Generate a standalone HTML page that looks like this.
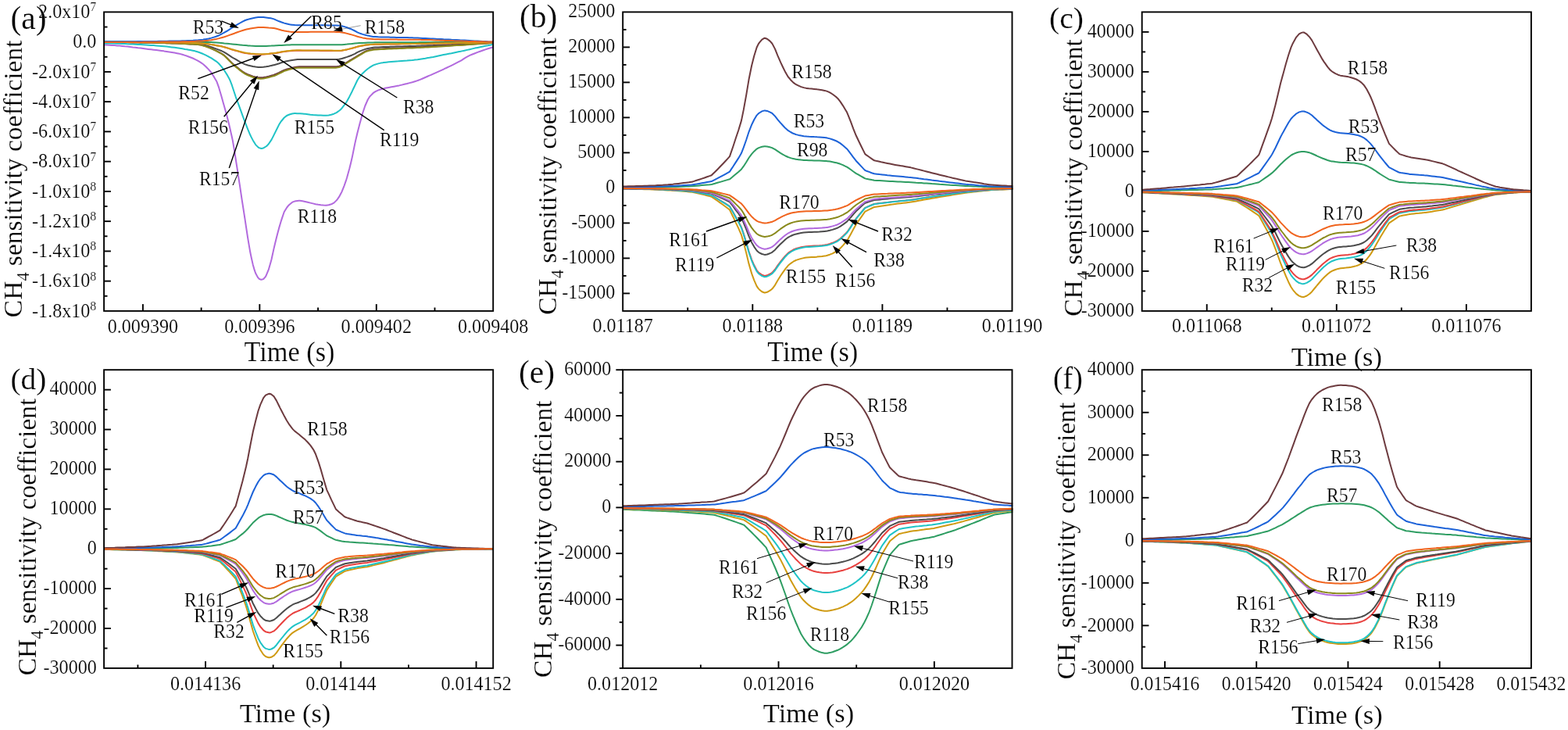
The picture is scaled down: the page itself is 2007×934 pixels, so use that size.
<!DOCTYPE html>
<html><head><meta charset="utf-8"><title>CH4 sensitivity coefficient</title>
<style>html,body{margin:0;padding:0;background:#fff;}svg{display:block;}text{stroke:#fff;stroke-width:.2px;}</style></head>
<body>
<svg width="2007" height="934" viewBox="0 0 2007 934" font-family="Liberation Serif, serif" fill="#000">
<line x1="182.91" y1="397.9" x2="182.91" y2="389.1" stroke="#000" stroke-width="1.9"/>
<line x1="332.34" y1="397.9" x2="332.34" y2="389.1" stroke="#000" stroke-width="1.9"/>
<line x1="481.77" y1="397.9" x2="481.77" y2="389.1" stroke="#000" stroke-width="1.9"/>
<line x1="257.62" y1="397.9" x2="257.62" y2="393.5" stroke="#000" stroke-width="1.9"/>
<line x1="407.06" y1="397.9" x2="407.06" y2="393.5" stroke="#000" stroke-width="1.9"/>
<line x1="556.49" y1="397.9" x2="556.49" y2="393.5" stroke="#000" stroke-width="1.9"/>
<line x1="133.1" y1="53.65" x2="141.9" y2="53.65" stroke="#000" stroke-width="1.9"/>
<line x1="133.1" y1="91.9" x2="141.9" y2="91.9" stroke="#000" stroke-width="1.9"/>
<line x1="133.1" y1="130.15" x2="141.9" y2="130.15" stroke="#000" stroke-width="1.9"/>
<line x1="133.1" y1="168.4" x2="141.9" y2="168.4" stroke="#000" stroke-width="1.9"/>
<line x1="133.1" y1="206.65" x2="141.9" y2="206.65" stroke="#000" stroke-width="1.9"/>
<line x1="133.1" y1="244.9" x2="141.9" y2="244.9" stroke="#000" stroke-width="1.9"/>
<line x1="133.1" y1="283.15" x2="141.9" y2="283.15" stroke="#000" stroke-width="1.9"/>
<line x1="133.1" y1="321.4" x2="141.9" y2="321.4" stroke="#000" stroke-width="1.9"/>
<line x1="133.1" y1="359.65" x2="141.9" y2="359.65" stroke="#000" stroke-width="1.9"/>
<line x1="133.1" y1="34.52" x2="137.5" y2="34.52" stroke="#000" stroke-width="1.9"/>
<line x1="133.1" y1="72.78" x2="137.5" y2="72.78" stroke="#000" stroke-width="1.9"/>
<line x1="133.1" y1="111.03" x2="137.5" y2="111.03" stroke="#000" stroke-width="1.9"/>
<line x1="133.1" y1="149.28" x2="137.5" y2="149.28" stroke="#000" stroke-width="1.9"/>
<line x1="133.1" y1="187.53" x2="137.5" y2="187.53" stroke="#000" stroke-width="1.9"/>
<line x1="133.1" y1="225.78" x2="137.5" y2="225.78" stroke="#000" stroke-width="1.9"/>
<line x1="133.1" y1="264.02" x2="137.5" y2="264.02" stroke="#000" stroke-width="1.9"/>
<line x1="133.1" y1="302.27" x2="137.5" y2="302.27" stroke="#000" stroke-width="1.9"/>
<line x1="133.1" y1="340.52" x2="137.5" y2="340.52" stroke="#000" stroke-width="1.9"/>
<line x1="133.1" y1="378.77" x2="137.5" y2="378.77" stroke="#000" stroke-width="1.9"/>
<line x1="963.3" y1="397.9" x2="963.3" y2="389.1" stroke="#000" stroke-width="1.9"/>
<line x1="1129.4" y1="397.9" x2="1129.4" y2="389.1" stroke="#000" stroke-width="1.9"/>
<line x1="880.25" y1="397.9" x2="880.25" y2="393.5" stroke="#000" stroke-width="1.9"/>
<line x1="1046.35" y1="397.9" x2="1046.35" y2="393.5" stroke="#000" stroke-width="1.9"/>
<line x1="1212.45" y1="397.9" x2="1212.45" y2="393.5" stroke="#000" stroke-width="1.9"/>
<line x1="797.2" y1="375.4" x2="806" y2="375.4" stroke="#000" stroke-width="1.9"/>
<line x1="797.2" y1="330.4" x2="806" y2="330.4" stroke="#000" stroke-width="1.9"/>
<line x1="797.2" y1="285.4" x2="806" y2="285.4" stroke="#000" stroke-width="1.9"/>
<line x1="797.2" y1="240.4" x2="806" y2="240.4" stroke="#000" stroke-width="1.9"/>
<line x1="797.2" y1="195.4" x2="806" y2="195.4" stroke="#000" stroke-width="1.9"/>
<line x1="797.2" y1="150.4" x2="806" y2="150.4" stroke="#000" stroke-width="1.9"/>
<line x1="797.2" y1="105.4" x2="806" y2="105.4" stroke="#000" stroke-width="1.9"/>
<line x1="797.2" y1="60.4" x2="806" y2="60.4" stroke="#000" stroke-width="1.9"/>
<line x1="797.2" y1="352.9" x2="801.6" y2="352.9" stroke="#000" stroke-width="1.9"/>
<line x1="797.2" y1="307.9" x2="801.6" y2="307.9" stroke="#000" stroke-width="1.9"/>
<line x1="797.2" y1="262.9" x2="801.6" y2="262.9" stroke="#000" stroke-width="1.9"/>
<line x1="797.2" y1="217.9" x2="801.6" y2="217.9" stroke="#000" stroke-width="1.9"/>
<line x1="797.2" y1="172.9" x2="801.6" y2="172.9" stroke="#000" stroke-width="1.9"/>
<line x1="797.2" y1="127.9" x2="801.6" y2="127.9" stroke="#000" stroke-width="1.9"/>
<line x1="797.2" y1="82.9" x2="801.6" y2="82.9" stroke="#000" stroke-width="1.9"/>
<line x1="797.2" y1="37.9" x2="801.6" y2="37.9" stroke="#000" stroke-width="1.9"/>
<line x1="1544.73" y1="397.9" x2="1544.73" y2="389.1" stroke="#000" stroke-width="1.9"/>
<line x1="1710.8" y1="397.9" x2="1710.8" y2="389.1" stroke="#000" stroke-width="1.9"/>
<line x1="1876.87" y1="397.9" x2="1876.87" y2="389.1" stroke="#000" stroke-width="1.9"/>
<line x1="1627.77" y1="397.9" x2="1627.77" y2="393.5" stroke="#000" stroke-width="1.9"/>
<line x1="1793.83" y1="397.9" x2="1793.83" y2="393.5" stroke="#000" stroke-width="1.9"/>
<line x1="1461.7" y1="346.9" x2="1470.5" y2="346.9" stroke="#000" stroke-width="1.9"/>
<line x1="1461.7" y1="295.9" x2="1470.5" y2="295.9" stroke="#000" stroke-width="1.9"/>
<line x1="1461.7" y1="244.9" x2="1470.5" y2="244.9" stroke="#000" stroke-width="1.9"/>
<line x1="1461.7" y1="193.9" x2="1470.5" y2="193.9" stroke="#000" stroke-width="1.9"/>
<line x1="1461.7" y1="142.9" x2="1470.5" y2="142.9" stroke="#000" stroke-width="1.9"/>
<line x1="1461.7" y1="91.9" x2="1470.5" y2="91.9" stroke="#000" stroke-width="1.9"/>
<line x1="1461.7" y1="40.9" x2="1470.5" y2="40.9" stroke="#000" stroke-width="1.9"/>
<line x1="1461.7" y1="372.4" x2="1466.1" y2="372.4" stroke="#000" stroke-width="1.9"/>
<line x1="1461.7" y1="321.4" x2="1466.1" y2="321.4" stroke="#000" stroke-width="1.9"/>
<line x1="1461.7" y1="270.4" x2="1466.1" y2="270.4" stroke="#000" stroke-width="1.9"/>
<line x1="1461.7" y1="219.4" x2="1466.1" y2="219.4" stroke="#000" stroke-width="1.9"/>
<line x1="1461.7" y1="168.4" x2="1466.1" y2="168.4" stroke="#000" stroke-width="1.9"/>
<line x1="1461.7" y1="117.4" x2="1466.1" y2="117.4" stroke="#000" stroke-width="1.9"/>
<line x1="1461.7" y1="66.4" x2="1466.1" y2="66.4" stroke="#000" stroke-width="1.9"/>
<line x1="263.04" y1="854.9" x2="263.04" y2="846.1" stroke="#000" stroke-width="1.9"/>
<line x1="436.29" y1="854.9" x2="436.29" y2="846.1" stroke="#000" stroke-width="1.9"/>
<line x1="609.54" y1="854.9" x2="609.54" y2="846.1" stroke="#000" stroke-width="1.9"/>
<line x1="176.41" y1="854.9" x2="176.41" y2="850.5" stroke="#000" stroke-width="1.9"/>
<line x1="349.67" y1="854.9" x2="349.67" y2="850.5" stroke="#000" stroke-width="1.9"/>
<line x1="522.92" y1="854.9" x2="522.92" y2="850.5" stroke="#000" stroke-width="1.9"/>
<line x1="133.1" y1="804.01" x2="141.9" y2="804.01" stroke="#000" stroke-width="1.9"/>
<line x1="133.1" y1="753.11" x2="141.9" y2="753.11" stroke="#000" stroke-width="1.9"/>
<line x1="133.1" y1="702.22" x2="141.9" y2="702.22" stroke="#000" stroke-width="1.9"/>
<line x1="133.1" y1="651.33" x2="141.9" y2="651.33" stroke="#000" stroke-width="1.9"/>
<line x1="133.1" y1="600.43" x2="141.9" y2="600.43" stroke="#000" stroke-width="1.9"/>
<line x1="133.1" y1="549.54" x2="141.9" y2="549.54" stroke="#000" stroke-width="1.9"/>
<line x1="133.1" y1="498.65" x2="141.9" y2="498.65" stroke="#000" stroke-width="1.9"/>
<line x1="133.1" y1="829.45" x2="137.5" y2="829.45" stroke="#000" stroke-width="1.9"/>
<line x1="133.1" y1="778.56" x2="137.5" y2="778.56" stroke="#000" stroke-width="1.9"/>
<line x1="133.1" y1="727.67" x2="137.5" y2="727.67" stroke="#000" stroke-width="1.9"/>
<line x1="133.1" y1="676.77" x2="137.5" y2="676.77" stroke="#000" stroke-width="1.9"/>
<line x1="133.1" y1="625.88" x2="137.5" y2="625.88" stroke="#000" stroke-width="1.9"/>
<line x1="133.1" y1="574.99" x2="137.5" y2="574.99" stroke="#000" stroke-width="1.9"/>
<line x1="133.1" y1="524.09" x2="137.5" y2="524.09" stroke="#000" stroke-width="1.9"/>
<line x1="996.52" y1="854.9" x2="996.52" y2="846.1" stroke="#000" stroke-width="1.9"/>
<line x1="1195.84" y1="854.9" x2="1195.84" y2="846.1" stroke="#000" stroke-width="1.9"/>
<line x1="896.86" y1="854.9" x2="896.86" y2="850.5" stroke="#000" stroke-width="1.9"/>
<line x1="1096.18" y1="854.9" x2="1096.18" y2="850.5" stroke="#000" stroke-width="1.9"/>
<line x1="797.2" y1="825.54" x2="788.4" y2="825.54" stroke="#000" stroke-width="1.9"/>
<line x1="797.2" y1="766.82" x2="788.4" y2="766.82" stroke="#000" stroke-width="1.9"/>
<line x1="797.2" y1="708.09" x2="788.4" y2="708.09" stroke="#000" stroke-width="1.9"/>
<line x1="797.2" y1="649.37" x2="788.4" y2="649.37" stroke="#000" stroke-width="1.9"/>
<line x1="797.2" y1="590.65" x2="788.4" y2="590.65" stroke="#000" stroke-width="1.9"/>
<line x1="797.2" y1="531.92" x2="788.4" y2="531.92" stroke="#000" stroke-width="1.9"/>
<line x1="797.2" y1="473.2" x2="788.4" y2="473.2" stroke="#000" stroke-width="1.9"/>
<line x1="797.2" y1="854.9" x2="792.8" y2="854.9" stroke="#000" stroke-width="1.9"/>
<line x1="797.2" y1="796.18" x2="792.8" y2="796.18" stroke="#000" stroke-width="1.9"/>
<line x1="797.2" y1="737.45" x2="792.8" y2="737.45" stroke="#000" stroke-width="1.9"/>
<line x1="797.2" y1="678.73" x2="792.8" y2="678.73" stroke="#000" stroke-width="1.9"/>
<line x1="797.2" y1="620.01" x2="792.8" y2="620.01" stroke="#000" stroke-width="1.9"/>
<line x1="797.2" y1="561.28" x2="792.8" y2="561.28" stroke="#000" stroke-width="1.9"/>
<line x1="797.2" y1="502.56" x2="792.8" y2="502.56" stroke="#000" stroke-width="1.9"/>
<line x1="1491.01" y1="854.9" x2="1491.01" y2="846.1" stroke="#000" stroke-width="1.9"/>
<line x1="1608.23" y1="854.9" x2="1608.23" y2="846.1" stroke="#000" stroke-width="1.9"/>
<line x1="1725.45" y1="854.9" x2="1725.45" y2="846.1" stroke="#000" stroke-width="1.9"/>
<line x1="1842.68" y1="854.9" x2="1842.68" y2="846.1" stroke="#000" stroke-width="1.9"/>
<line x1="1461.7" y1="800.37" x2="1470.5" y2="800.37" stroke="#000" stroke-width="1.9"/>
<line x1="1461.7" y1="745.84" x2="1470.5" y2="745.84" stroke="#000" stroke-width="1.9"/>
<line x1="1461.7" y1="691.31" x2="1470.5" y2="691.31" stroke="#000" stroke-width="1.9"/>
<line x1="1461.7" y1="636.79" x2="1470.5" y2="636.79" stroke="#000" stroke-width="1.9"/>
<line x1="1461.7" y1="582.26" x2="1470.5" y2="582.26" stroke="#000" stroke-width="1.9"/>
<line x1="1461.7" y1="527.73" x2="1470.5" y2="527.73" stroke="#000" stroke-width="1.9"/>
<line x1="1461.7" y1="827.64" x2="1466.1" y2="827.64" stroke="#000" stroke-width="1.9"/>
<line x1="1461.7" y1="773.11" x2="1466.1" y2="773.11" stroke="#000" stroke-width="1.9"/>
<line x1="1461.7" y1="718.58" x2="1466.1" y2="718.58" stroke="#000" stroke-width="1.9"/>
<line x1="1461.7" y1="664.05" x2="1466.1" y2="664.05" stroke="#000" stroke-width="1.9"/>
<line x1="1461.7" y1="609.52" x2="1466.1" y2="609.52" stroke="#000" stroke-width="1.9"/>
<line x1="1461.7" y1="554.99" x2="1466.1" y2="554.99" stroke="#000" stroke-width="1.9"/>
<line x1="1461.7" y1="500.46" x2="1466.1" y2="500.46" stroke="#000" stroke-width="1.9"/>
<path d="M133.1 57.4 136.4 57.5 139.8 57.7 143.1 57.9 146.5 58.1 149.8 58.4 149.9 58.4 153.2 58.6 156.5 58.9 159.8 59.3 163.2 59.6 166.5 60 169.9 60.4 169.9 60.4 173.2 60.7 176.6 61.2 179.9 61.6 183.2 62 186.6 62.4 189.8 62.9 189.9 62.9 193.3 63.3 196.6 63.7 200 64.1 203.3 64.5 206.7 64.9 209.7 65.3 210 65.4 213.3 65.9 216.7 66.4 220 66.9 223.4 67.5 226.7 68.2 229.7 68.8 230.1 68.9 233.4 69.8 236.8 70.9 239.6 71.8 240.1 72 243.4 73.2 246.8 74.5 249.6 75.8 250.1 76.1 253.5 77.8 256.8 79.9 259.5 81.8 260.2 82.3 263.5 85.3 264.5 86.3 266.8 88.6 269.5 91.7 270.2 92.6 273.5 97.7 273.5 97.8 276.9 103.4 277.5 104.7 280.2 112.2 283.6 123.8 285.8 131.7 286.9 135.6 290.3 147.7 291.8 153.7 293.6 160.9 296.9 175.5 297.8 179.6 300.3 194.3 301.7 203.5 303.6 215.6 305.7 229.4 307 237.6 309.7 255.8 310.3 259.6 313.7 281.4 313.7 281.7 317 303.3 317.7 307.6 320.3 322.8 321.7 329.5 323.7 338.4 325.7 345.4 327 349.2 329.7 354.4 330.4 355.4 332 357 333.7 357.7 334.6 357.8 337.1 357.1 337.2 357 339.6 354.4 340.4 353.1 343.6 345.4 343.8 345 347.1 333.4 347.6 331.5 350.4 318.6 351.6 313.6 353.8 304.5 355.6 297.6 357.1 291.9 359.5 283.7 360.5 280.6 363.5 271.7 363.8 271.1 367.2 265.5 369.5 262.7 370.5 261.7 373.9 258.9 375.5 258.1 377.2 257.6 380.5 256.9 382.5 256.8 383.9 256.8 387.2 257.3 389.4 257.7 390.6 258 393.9 258.8 397.3 259.6 399.4 260.1 400.6 260.4 403.9 261.2 407.3 261.8 409.4 262.1 410.6 262.3 414 262.6 417.3 262.7 417.3 262.7 420.7 262.3 424 261.2 425.3 260.7 427.4 259.6 430.7 256.4 431.3 255.8 434 251.9 437.3 245.8 437.4 245.6 440.7 237.3 443.3 229.8 444.1 227.2 447.4 215.2 449.2 207.9 450.8 201.1 454.1 184.6 455.2 179.6 457.4 170.2 460.8 157.1 461.2 155.7 464.1 145 467.2 135.7 467.5 135 470.8 127.5 473.1 123.8 474.2 122.6 477.5 119.2 480.9 116.9 481.1 116.8 484.2 115.4 487.5 114.3 490.9 113.4 493.1 112.8 494.2 112.5 497.6 111.9 500.9 111.3 504.3 110.7 507.6 110.1 509 109.8 510.9 109.4 514.3 108.6 517.6 107.8 521 107 524.3 106.1 527.7 105.2 531 104.2 534.4 103.1 534.7 103 537.7 101.9 541 100.5 544.4 99 547.7 97.5 549.6 96.7 551.1 96.1 554.4 94.6 557.8 93.1 561.1 91.6 564.5 90.1 567.8 88.6 569.5 87.7 571.1 87 574.5 85.4 577.8 83.8 581.2 82.1 584.5 80.4 587.9 78.6 589.5 77.8 591.2 76.8 594.5 74.6 597.9 72.6 599.4 71.8 601.2 70.9 604.6 69.5 607.9 68.2 611.3 66.9 614.4 65.8 614.6 65.7 618 64.5 621.3 63.4 624.6 62.3 628 61.3 631.3 60.3" fill="none" stroke="#b26ade" stroke-width="2.0" stroke-linejoin="round" stroke-linecap="butt"/>
<path d="M133.1 55.4 136.4 55.4 139.8 55.5 143.1 55.6 146.5 55.6 149.8 55.7 153.2 55.8 156.5 56 159.8 56.1 159.9 56.1 163.2 56.2 166.5 56.4 169.9 56.5 173.2 56.7 176.6 56.9 179.8 57.1 179.9 57.1 183.2 57.3 186.6 57.5 189.9 57.7 193.3 57.9 196.6 58.1 199.8 58.4 200 58.4 203.3 58.7 206.7 59 210 59.3 213.3 59.6 216.7 60 219.7 60.4 220 60.4 223.4 60.8 226.7 61.3 230.1 61.8 233.4 62.3 236.8 62.9 239.6 63.3 240.1 63.4 243.4 64 246.8 64.7 249.6 65.3 250.1 65.5 253.5 66.5 256.8 67.7 259.5 68.8 260.2 69.1 263.5 70.6 266.8 72.3 269.5 73.8 270.2 74.2 273.5 76.3 276.9 78.6 279.5 80.8 280.2 81.5 283.6 85.3 285.5 87.8 286.9 89.8 289.4 93.7 290.3 95.1 293.6 101 294.4 102.7 296.9 109.2 300.3 119.5 301.7 123.8 303.6 129 307 138.2 309.7 145.7 310.3 147.3 313.7 156.4 315.7 161.6 317 164.9 320.3 172.8 321.7 175.6 323.7 179.4 327 184.8 327.7 185.6 330.4 188.4 331.6 189.1 333.7 189.8 334.6 189.9 337.1 189.4 337.6 189.1 340.4 187.5 341.6 186.6 343.8 184.3 347.1 179.4 347.6 178.6 350.4 173.1 353.6 166.6 353.8 166.2 357.1 159.6 359.5 155.7 360.5 154.5 363.8 150.5 367.2 147.9 367.5 147.7 370.5 146.5 373.9 145.5 377.2 145.1 377.5 145.1 380.5 145.2 383.9 145.3 387.2 145.5 389.4 145.7 390.6 145.8 393.9 146.2 397.3 146.7 400.6 147.1 403.4 147.3 403.9 147.3 407.3 147.5 410.6 147.6 414 147.7 417.3 147.7 417.3 147.7 420.7 147.4 424 146.7 427.3 145.7 427.4 145.7 430.7 144.1 434 141.7 435.3 140.7 437.4 138.7 440.7 134.4 443.3 130.8 444.1 129.5 447.4 123.4 450.8 116.7 451.2 115.8 454.1 109.7 457.4 102.7 459.2 99.9 460.8 97.7 464.1 93.9 467.5 90.7 469.9 88.7 470.8 88 474.2 85.7 477.5 83.7 479.9 82.7 480.9 82.4 484.2 81.4 487.5 80.6 489.8 80.3 490.9 80.1 494.2 79.7 497.6 79.3 500.9 79 504.3 78.7 507.6 78.4 509.8 78.3 510.9 78.2 514.3 77.9 517.6 77.7 521 77.5 524.3 77.2 527.7 77 529.7 76.8 531 76.6 534.4 76.2 537.7 75.7 541 75.2 544.4 74.7 547.7 74.1 549.6 73.8 551.1 73.5 554.4 72.9 557.8 72.2 561.1 71.5 564.5 70.8 567.8 70.1 569.5 69.8 571.1 69.5 574.5 68.8 577.8 68.2 581.2 67.5 584.5 66.8 587.9 66.1 589.5 65.8 591.2 65.4 594.5 64.7 597.9 63.9 601.2 63.2 604.6 62.4 607.9 61.6 609.4 61.3 611.3 60.9 614.6 60.2 618 59.5 621.3 58.8 624.6 58.2 628 57.5 631.3 56.8" fill="none" stroke="#1fc3c6" stroke-width="2.0" stroke-linejoin="round" stroke-linecap="butt"/>
<path d="M133.3 54 136.7 54 140 54 143.4 54 146.7 54 150 54 153.4 54 156.7 54.1 160.1 54.1 163.4 54.1 166.8 54.1 170.1 54.2 173.4 54.2 176.8 54.2 180.1 54.3 183.5 54.3 186.8 54.4 190.2 54.4 193.5 54.5 196.8 54.5 200.2 54.6 203.5 54.7 206.9 54.7 210.2 54.8 213.5 54.9 216.9 55 220.2 55 223.6 55.1 226.9 55.2 230.3 55.3 233.6 55.4 236.9 55.5 240.3 55.6 243.6 55.8 247 55.9 250 56 250.3 56 253.7 56.3 257 56.7 260.3 57.4 263.7 58.2 267 59.1 270.4 60.2 273.7 61.4 277.1 62.6 280.4 63.9 283.3 65 283.7 65.2 287.1 66.8 290.4 68.9 293.8 71.1 297.1 73.3 300 75 300.4 75.2 303.8 77.2 307.1 79.1 310.5 80.9 313.8 82.4 316.7 83.3 317.2 83.5 320.5 84.2 323.8 85 327.2 85.5 330.5 85.9 333.3 86 333.9 86 337.2 85.8 340.6 85.3 343.9 84.7 347.2 83.9 350 83.3 350.6 83.2 353.9 82.3 357.3 81.2 360.6 80 363.9 79 366.7 78.3 367.3 78.2 370.6 77.6 374 76.9 377.3 76.4 380.7 76.1 383.3 76 384 76 387.3 76 390.7 76 394 76 397.4 76 400.7 76 404.1 76 407.4 76 410.7 76 414.1 76 417.4 76 420.8 76 424.1 76 427.5 76 430 76 430.8 76 434.1 75.7 437.5 75 440.8 74 444.2 72.9 447.5 71.7 450 70.8 450.8 70.4 454.2 68.8 457.5 66.9 459.9 65.8 460.9 65.4 464.2 64.1 467.6 62.9 469.9 62.3 470.9 62.1 474.2 61.4 477.6 60.8 479.9 60.6 480.9 60.6 484.3 60.4 487.6 60.2 491 60.1 494.3 60 497.6 59.9 499.8 59.8 501 59.8 504.3 59.7 507.7 59.6 511 59.5 514.4 59.4 517.7 59.3 521 59.2 524.4 59.1 527.7 59 531.1 58.9 534.4 58.8 537.7 58.7 539.7 58.6 541.1 58.6 544.4 58.5 547.8 58.3 551.1 58.2 554.5 58.1 557.8 57.9 561.1 57.8 564.5 57.7 567.8 57.5 571.2 57.4 574.5 57.2 577.9 57.1 579.5 57 581.2 57 584.5 56.8 587.9 56.7 591.2 56.6 594.6 56.4 597.9 56.3 601.2 56.1 604.6 56 607.9 55.8 611.3 55.7 614.6 55.6 618 55.4 621.3 55.3 624.6 55.1 628 55 631.3 54.8" fill="none" stroke="#4b4b4b" stroke-width="2.0" stroke-linejoin="round" stroke-linecap="butt"/>
<path d="M133.3 54 136.7 54 140 54 143.4 54 146.7 54 150 54 153.4 54.1 156.7 54.1 160.1 54.1 163.4 54.1 166.8 54.2 170.1 54.2 173.4 54.3 176.8 54.3 180.1 54.4 183.5 54.4 186.8 54.5 190.2 54.6 193.5 54.6 196.8 54.7 200.2 54.8 203.5 54.9 206.9 55 210.2 55.1 213.5 55.2 216.9 55.3 220.2 55.4 223.6 55.5 226.9 55.6 230.3 55.8 233.6 55.9 236.9 56 240.3 56.2 243.6 56.4 247 56.5 250 56.7 250.3 56.7 253.7 57 257 57.6 260.3 58.4 263.7 59.4 267 60.6 270.4 62 273.7 63.5 277.1 65.1 280.4 66.8 283.3 68.3 283.7 68.6 287.1 70.9 290.4 74 293.8 77.5 297.1 80.8 300 83.3 300.4 83.7 303.8 86.4 307.1 89.1 310.5 91.6 313.8 93.7 316.7 95 317.2 95.2 320.5 96.4 323.8 97.6 327.2 98.5 330.5 99.2 333.3 99.3 333.9 99.3 337.2 99.1 340.6 98.5 343.9 97.7 347.2 96.8 350 96 350.6 95.8 353.9 94.5 357.3 92.9 360.6 91.2 363.9 89.6 366.7 88.7 367.3 88.5 370.6 87.6 374 86.7 377.3 85.9 380.7 85.5 383.3 85.3 384 85.3 387.3 85.3 390.7 85.3 394 85.3 397.4 85.3 400.7 85.3 404.1 85.3 407.4 85.3 410.7 85.3 414.1 85.3 417.4 85.3 420.8 85.3 424.1 85.3 427.5 85.3 430 85.3 430.8 85.3 434.1 84.7 437.5 83.4 440.8 81.6 444.2 79.6 447.5 77.5 450 76.2 450.8 75.7 454.2 73.7 457.5 71.6 459.9 70.2 460.9 69.6 464.2 67.6 467.6 65.7 469.9 64.8 470.9 64.5 474.2 63.7 477.6 63.1 479.9 62.8 480.9 62.7 484.3 62.5 487.6 62.4 491 62.2 494.3 62.1 497.6 62 499.8 61.9 501 61.9 504.3 61.7 507.7 61.6 511 61.5 514.4 61.3 517.7 61.2 521 61.1 524.4 61 527.7 60.8 531.1 60.7 534.4 60.6 537.7 60.4 539.7 60.3 541.1 60.3 544.4 60.1 547.8 59.9 551.1 59.8 554.5 59.6 557.8 59.4 561.1 59.2 564.5 59 567.8 58.8 571.2 58.6 574.5 58.4 577.9 58.2 579.5 58.1 581.2 58 584.5 57.8 587.9 57.6 591.2 57.4 594.6 57.2 597.9 56.9 601.2 56.7 604.6 56.5 607.9 56.3 611.3 56.1 614.6 55.8 618 55.6 619.4 55.5 621.3 55.4 624.6 55.2 628 55 631.3 54.8" fill="none" stroke="#6d3b3f" stroke-width="2.0" stroke-linejoin="round" stroke-linecap="butt"/>
<path d="M133.3 54 136.7 54 140 54 143.4 54 146.7 54 150 54 153.4 54.1 156.7 54.1 160.1 54.1 163.4 54.1 166.8 54.2 170.1 54.2 173.4 54.3 176.8 54.3 180.1 54.4 183.5 54.4 186.8 54.5 190.2 54.6 193.5 54.6 196.8 54.7 200.2 54.8 203.5 54.9 206.9 55 210.2 55.1 213.5 55.2 216.9 55.3 220.2 55.4 223.6 55.5 226.9 55.6 230.3 55.8 233.6 55.9 236.9 56 240.3 56.2 243.6 56.4 247 56.5 250 56.7 250.3 56.7 253.7 57 257 57.6 260.3 58.5 263.7 59.5 267 60.8 270.4 62.2 273.7 63.7 277.1 65.3 280.4 67.1 283.3 68.7 283.7 68.9 287.1 71.3 290.4 74.5 293.8 78 297.1 81.4 300 84 300.4 84.4 303.8 87.1 307.1 89.9 310.5 92.4 313.8 94.6 316.7 96 317.2 96.2 320.5 97.5 323.8 98.8 327.2 99.8 330.5 100.5 333.3 100.7 333.9 100.7 337.2 100.4 340.6 99.8 343.9 99 347.2 98.1 350 97.3 350.6 97.2 353.9 95.9 357.3 94.2 360.6 92.5 363.9 90.9 366.7 90 367.3 89.8 370.6 88.9 374 88 377.3 87.3 380.7 86.8 383.3 86.7 384 86.7 387.3 86.7 390.7 86.7 394 86.7 397.4 86.7 400.7 86.7 404.1 86.7 407.4 86.7 410.7 86.7 414.1 86.7 417.4 86.7 420.8 86.7 424.1 86.7 427.5 86.7 430 86.7 430.8 86.6 434.1 86 437.5 84.6 440.8 82.7 444.2 80.5 447.5 78.4 450 77 450.8 76.5 454.2 74.5 457.5 72.4 459.9 71 460.9 70.4 464.2 68.3 467.6 66.4 469.9 65.5 470.9 65.2 474.2 64.4 477.6 63.8 479.9 63.5 480.9 63.4 484.3 63.2 487.6 63 491 62.9 494.3 62.7 497.6 62.6 499.8 62.5 501 62.5 504.3 62.3 507.7 62.2 511 62 514.4 61.9 517.7 61.8 521 61.6 524.4 61.5 527.7 61.4 531.1 61.2 534.4 61.1 537.7 60.9 539.7 60.8 541.1 60.7 544.4 60.6 547.8 60.4 551.1 60.2 554.5 60 557.8 59.8 561.1 59.6 564.5 59.4 567.8 59.2 571.2 59 574.5 58.7 577.9 58.5 579.5 58.4 581.2 58.3 584.5 58.1 587.9 57.9 591.2 57.7 594.6 57.5 597.9 57.2 601.2 57 604.6 56.8 607.9 56.5 611.3 56.3 614.6 56.1 618 55.8 619.4 55.7 621.3 55.6 624.6 55.4 628 55.1 631.3 54.8" fill="none" stroke="#8a8a1c" stroke-width="2.0" stroke-linejoin="round" stroke-linecap="butt"/>
<path d="M133.3 53.3 136.7 53.3 140 53.3 143.4 53.3 146.7 53.3 150 53.3 153.4 53.3 156.7 53.3 160.1 53.4 163.4 53.4 166.8 53.4 170.1 53.4 173.4 53.4 176.8 53.4 180.1 53.4 183.5 53.4 186.8 53.4 190.2 53.4 193.5 53.4 196.8 53.5 200.2 53.5 203.5 53.5 206.9 53.5 210.2 53.5 213.5 53.5 216.9 53.6 220.2 53.6 223.6 53.6 226.9 53.6 230.3 53.7 233.6 53.7 236.9 53.7 240.3 53.7 243.6 53.8 247 53.8 250.3 53.8 253.7 53.9 257 53.9 260.3 53.9 263.7 54 266.7 54 267 54 270.4 54.1 273.7 54.3 277.1 54.5 280.4 54.7 283.7 55 287.1 55.4 290.4 55.7 293.8 56.1 297.1 56.4 300 56.7 300.4 56.7 303.8 57.1 307.1 57.4 310.5 57.8 313.8 58.1 316.7 58.3 317.2 58.4 320.5 58.6 323.8 58.7 327.2 58.9 330.5 59 333.3 59 333.9 59 337.2 59 340.6 58.9 343.9 58.7 347.2 58.6 350.6 58.4 353.3 58.3 353.9 58.3 357.3 58.1 360.6 57.9 363.9 57.7 367.3 57.5 370.6 57.4 373.3 57.3 374 57.3 377.3 57.3 380.7 57.3 384 57.3 387.3 57.3 390.7 57.3 394 57.3 397.4 57.3 400.7 57.3 404.1 57.3 407.4 57.3 410.7 57.3 414.1 57.3 417.4 57.3 420.8 57.3 424.1 57.3 427.5 57.3 430.8 57.3 433.3 57.3 434.1 57.3 437.5 57.2 440.8 56.9 444.2 56.6 447.5 56.2 450 56 450.8 55.9 454.2 55.6 457.5 55.3 459.9 55.1 460.9 55.1 464.2 54.9 467.6 54.7 470.9 54.6 474.2 54.5 477.6 54.4 479.9 54.3 480.9 54.3 484.3 54.3 487.6 54.3 491 54.3 494.3 54.3 497.6 54.2 501 54.2 504.3 54.2 507.7 54.2 511 54.2 514.4 54.2 517.7 54.2 521 54.2 524.4 54.2 527.7 54.2 531.1 54.2 534.4 54.2 537.7 54.1 539.7 54.1 541.1 54.1 544.4 54.1 547.8 54.1 551.1 54.1 554.5 54.1 557.8 54.1 561.1 54.1 564.5 54.1 567.8 54.1 571.2 54.1 574.5 54.1 577.9 54.1 581.2 54.1 584.5 54.1 587.9 54.1 591.2 54.1 594.6 54.1 597.9 54.1 601.2 54.1 604.6 54.1 607.9 54.1 611.3 54.1 614.6 54.1 618 54 621.3 54 624.6 54 628 54 631.3 54" fill="none" stroke="#2e9d62" stroke-width="2.0" stroke-linejoin="round" stroke-linecap="butt"/>
<path d="M133.3 53.7 136.7 53.7 140 53.7 143.4 53.7 146.7 53.7 150 53.7 153.4 53.7 156.7 53.7 160.1 53.7 163.4 53.7 166.8 53.8 170.1 53.8 173.4 53.8 176.8 53.8 180.1 53.9 183.5 53.9 186.8 53.9 190.2 54 193.5 54 196.8 54 200.2 54.1 203.5 54.1 206.9 54.2 210.2 54.2 213.5 54.3 216.9 54.3 220.2 54.4 223.6 54.4 226.9 54.5 230.3 54.6 233.6 54.6 236.9 54.7 240.3 54.8 243.6 54.8 247 54.9 250 55 250.3 55 253.7 55.1 257 55.4 260.3 55.7 263.7 56.1 267 56.5 270.4 57 273.7 57.6 277.1 58.2 280.4 58.8 283.3 59.3 283.7 59.4 287.1 60.2 290.4 61.3 293.8 62.4 297.1 63.5 300 64.3 300.4 64.5 303.8 65.4 307.1 66.3 310.5 67.2 313.8 67.9 316.7 68.3 317.2 68.4 320.5 68.8 323.8 69.1 327.2 69.4 330.5 69.6 333.3 69.7 333.9 69.7 337.2 69.6 340.6 69.3 343.9 69 347.2 68.6 350 68.3 350.6 68.3 353.9 67.8 357.3 67.2 360.6 66.6 363.9 66 366.7 65.7 367.3 65.6 370.6 65.3 374 64.9 377.3 64.7 380 64.7 380.7 64.7 384 64.7 387.3 64.7 390.7 64.7 394 64.7 397.4 64.7 400.7 64.8 404.1 64.8 407.4 64.8 410.7 64.9 414.1 64.9 417.4 64.9 420.8 65 424.1 65 427.5 65 430.8 65 433.3 65 434.1 65 437.5 64.7 440.8 64.1 444.2 63.4 447.5 62.6 450 62 450.8 61.8 454.2 60.8 457.5 59.8 459.9 59.2 460.9 59 464.2 58.4 467.6 57.8 469.9 57.5 470.9 57.4 474.2 57.1 477.6 56.9 479.9 56.8 480.9 56.8 484.3 56.7 487.6 56.7 491 56.6 494.3 56.5 497.6 56.5 501 56.5 504.3 56.4 507.7 56.4 511 56.4 514.4 56.3 517.7 56.3 519.7 56.2 521 56.2 524.4 56.2 527.7 56.1 531.1 56.1 534.4 56 537.7 56 541.1 55.9 544.4 55.9 547.8 55.8 551.1 55.7 554.5 55.7 557.8 55.6 561.1 55.6 564.5 55.5 567.8 55.5 569.5 55.4 571.2 55.4 574.5 55.4 577.9 55.3 581.2 55.2 584.5 55.2 587.9 55.1 591.2 55.1 594.6 55 597.9 55 601.2 54.9 604.6 54.8 607.9 54.8 611.3 54.7 614.6 54.7 618 54.6 621.3 54.5 624.6 54.5 628 54.4 631.3 54.3" fill="none" stroke="#e8413f" stroke-width="2.0" stroke-linejoin="round" stroke-linecap="butt"/>
<path d="M133.3 53.7 136.7 53.7 140 53.7 143.4 53.7 146.7 53.7 150 53.7 153.4 53.7 156.7 53.7 160.1 53.7 163.4 53.7 166.8 53.8 170.1 53.8 173.4 53.8 176.8 53.8 180.1 53.9 183.5 53.9 186.8 53.9 190.2 54 193.5 54 196.8 54 200.2 54.1 203.5 54.1 206.9 54.2 210.2 54.2 213.5 54.3 216.9 54.3 220.2 54.4 223.6 54.4 226.9 54.5 230.3 54.6 233.6 54.6 236.9 54.7 240.3 54.8 243.6 54.8 247 54.9 250 55 250.3 55 253.7 55.2 257 55.4 260.3 55.7 263.7 56.1 267 56.6 270.4 57.1 273.7 57.6 277.1 58.2 280.4 58.8 283.3 59.3 283.7 59.4 287.1 60.2 290.4 61.1 293.8 62.2 297.1 63.2 300 64 300.4 64.1 303.8 65 307.1 66 310.5 66.8 313.8 67.6 316.7 68 317.2 68.1 320.5 68.5 323.8 68.8 327.2 69.1 330.5 69.3 333.3 69.3 333.9 69.3 337.2 69.2 340.6 69 343.9 68.7 347.2 68.3 350 68 350.6 67.9 353.9 67.5 357.3 66.9 360.6 66.2 363.9 65.7 366.7 65.3 367.3 65.3 370.6 64.9 374 64.6 377.3 64.4 380 64.3 380.7 64.3 384 64.3 387.3 64.4 390.7 64.4 394 64.4 397.4 64.4 400.7 64.4 404.1 64.5 407.4 64.5 410.7 64.5 414.1 64.6 417.4 64.6 420.8 64.6 424.1 64.6 427.5 64.7 430.8 64.7 433.3 64.7 434.1 64.7 437.5 64.4 440.8 63.9 444.2 63.2 447.5 62.4 450 61.8 450.8 61.6 454.2 60.7 457.5 59.6 459.9 59 460.9 58.8 464.2 58.2 467.6 57.6 469.9 57.3 470.9 57.2 474.2 56.9 477.6 56.7 479.9 56.6 480.9 56.6 484.3 56.5 487.6 56.5 491 56.4 494.3 56.3 497.6 56.3 501 56.3 504.3 56.2 507.7 56.2 511 56.1 514.4 56.1 517.7 56.1 519.7 56 521 56 524.4 56 527.7 55.9 531.1 55.9 534.4 55.8 537.7 55.8 541.1 55.7 544.4 55.7 547.8 55.7 551.1 55.6 554.5 55.6 557.8 55.5 561.1 55.5 564.5 55.4 567.8 55.4 569.5 55.3 571.2 55.3 574.5 55.3 577.9 55.2 581.2 55.2 584.5 55.1 587.9 55.1 591.2 55 594.6 55 597.9 54.9 601.2 54.8 604.6 54.8 607.9 54.7 611.3 54.7 614.6 54.6 618 54.6 621.3 54.5 624.6 54.5 628 54.4 631.3 54.3" fill="none" stroke="#cf9a12" stroke-width="2.0" stroke-linejoin="round" stroke-linecap="butt"/>
<path d="M133.3 53.3 136.7 53.3 140 53.3 143.4 53.3 146.7 53.3 150 53.3 153.4 53.3 156.7 53.3 160.1 53.3 163.4 53.2 166.8 53.2 170.1 53.2 173.4 53.2 176.8 53.1 180.1 53.1 183.5 53.1 186.8 53 190.2 53 193.5 53 196.8 52.9 200.2 52.9 203.5 52.8 206.9 52.8 210.2 52.7 213.5 52.7 216.9 52.6 220.2 52.6 223.6 52.5 226.9 52.5 230.3 52.4 233.3 52.3 233.6 52.3 236.9 52.2 240.3 52.1 243.6 52 247 51.8 250.3 51.5 253.7 51.3 257 51 260 50.7 260.3 50.6 263.7 50.1 267 49.5 270.4 48.6 273.7 47.6 276.7 46.7 277.1 46.5 280.4 45.2 283.7 43.5 287.1 41.6 290 40 290.4 39.8 293.8 37.7 297.1 35.5 300.4 33.4 303.3 31.7 303.8 31.4 307.1 29.5 310.5 27.6 313.8 26 316.7 25 317.2 24.9 320.5 24 323.8 23.2 327.2 22.5 330.5 22.1 333.3 22 333.9 22 337.2 22.1 340.6 22.5 343.9 22.9 346.7 23.3 347.2 23.4 350.6 24.4 353.9 25.9 357.3 27.3 360 28.3 360.6 28.5 363.9 29.6 367.3 30.5 370.6 31.3 373.3 31.7 374 31.7 377.3 32 380.7 32.2 384 32.3 386.7 32.3 387.3 32.3 390.7 32.3 394 32.3 397.4 32.3 400.7 32.3 404.1 32.3 407.4 32.3 410.7 32.3 414.1 32.3 416.7 32.3 417.4 32.3 420.8 32.4 424.1 32.4 427.5 32.5 430.8 32.6 433.3 32.7 434.1 32.7 437.5 33.2 440.8 34.1 444.2 35.2 447.5 36.5 450 37.4 450.8 37.8 454.2 39.5 457.5 41.3 459.9 42.4 460.9 42.7 464.2 43.9 467.6 44.8 469.9 45.4 470.9 45.6 474.2 46.3 477.6 46.9 479.9 47.1 480.9 47.1 484.3 47.3 487.6 47.4 491 47.5 494.3 47.5 497.6 47.6 499.8 47.7 501 47.7 504.3 47.8 507.7 47.9 511 47.9 514.4 48 517.7 48.1 521 48.1 524.4 48.2 527.7 48.3 529.7 48.4 531.1 48.4 534.4 48.5 537.7 48.7 541.1 48.9 544.4 49 547.8 49.2 551.1 49.4 554.5 49.6 557.8 49.8 559.6 49.9 561.1 49.9 564.5 50.1 567.8 50.3 571.2 50.4 574.5 50.6 577.9 50.8 581.2 50.9 584.5 51.1 587.9 51.3 589.5 51.4 591.2 51.4 594.6 51.6 597.9 51.8 601.2 52 604.6 52.2 607.9 52.4 611.3 52.6 614.6 52.8 618 53 619.4 53 621.3 53.1 624.6 53.3 628 53.4 631.3 53.5" fill="none" stroke="#1c62d8" stroke-width="2.0" stroke-linejoin="round" stroke-linecap="butt"/>
<path d="M133.3 54 136.7 54 140 54 143.4 54 146.7 54 150 54 153.4 54 156.7 54 160.1 54 163.4 53.9 166.8 53.9 170.1 53.9 173.4 53.9 176.8 53.9 180.1 53.9 183.5 53.8 186.8 53.8 190.2 53.8 193.5 53.8 196.8 53.7 200.2 53.7 203.5 53.7 206.9 53.6 210.2 53.6 213.5 53.6 216.9 53.5 220.2 53.5 223.6 53.5 226.9 53.4 230.3 53.4 233.3 53.3 233.6 53.3 236.9 53.3 240.3 53.2 243.6 53.1 247 52.9 250.3 52.8 253.7 52.6 257 52.4 260.3 52.2 263.7 51.9 266.7 51.7 267 51.6 270.4 51.2 273.7 50.6 277.1 49.9 280.4 49.1 283.3 48.3 283.7 48.2 287.1 47.3 290.4 46.1 293.8 44.9 297.1 43.7 300 42.7 300.4 42.5 303.8 41.3 307.1 40.1 310.5 39 313.8 38 316.7 37.3 317.2 37.2 320.5 36.6 323.8 36 327.2 35.4 330.5 35.1 333.3 35 333.9 35 337.2 35.1 340.6 35.2 343.9 35.5 347.2 35.7 350 36 350.6 36.1 353.9 36.8 357.3 37.7 360.6 38.7 363.3 39.3 363.9 39.4 367.3 40 370.6 40.5 374 40.9 376.7 41 377.3 41 380.7 41 384 41 387.3 40.9 390.7 40.9 394 40.9 397.4 40.8 400.7 40.8 404.1 40.7 407.4 40.7 410.7 40.7 414.1 40.7 416.7 40.7 417.4 40.7 420.8 40.7 424.1 40.7 427.5 40.8 430.8 40.9 433.3 41 434.1 41 437.5 41.4 440.8 42.1 444.2 42.9 447.5 43.8 450 44.4 450.8 44.6 454.2 45.6 457.5 46.7 459.9 47.4 460.9 47.6 464.2 48.4 467.6 49 469.9 49.4 470.9 49.5 474.2 49.8 477.6 50.1 479.9 50.2 480.9 50.2 484.3 50.3 487.6 50.4 491 50.4 494.3 50.5 497.6 50.5 501 50.6 504.3 50.6 507.7 50.6 509.8 50.7 511 50.7 514.4 50.7 517.7 50.7 521 50.7 524.4 50.7 527.7 50.8 531.1 50.8 534.4 50.8 537.7 50.8 539.7 50.9 541.1 50.9 544.4 50.9 547.8 51 551.1 51.1 554.5 51.3 557.8 51.4 561.1 51.5 564.5 51.7 567.8 51.8 569.5 51.9 571.2 51.9 574.5 52 577.9 52.1 581.2 52.3 584.5 52.4 587.9 52.5 591.2 52.6 594.6 52.7 597.9 52.8 599.4 52.9 601.2 52.9 604.6 53 607.9 53.1 611.3 53.2 614.6 53.3 618 53.3 621.3 53.4 624.6 53.5 628 53.6 631.3 53.6" fill="none" stroke="#f0641e" stroke-width="2.0" stroke-linejoin="round" stroke-linecap="butt"/>
<path d="M798 241.7 801.3 241.8 804.7 241.8 808 241.9 811.4 242 814.7 242 818.1 242.1 821.4 242.1 824.8 242.2 828.1 242.3 831.4 242.3 834.8 242.4 835.7 242.4 838.1 242.5 841.5 242.7 844.8 242.9 848.2 243 851.5 243.2 854.9 243.4 858.2 243.5 861.5 243.7 862.3 243.8 864.9 244 868.2 244.2 871.6 244.5 874.9 244.8 878.3 245.1 881.6 245.4 885 245.7 885.7 245.8 888.3 246.3 891.6 247.1 895 247.9 898.3 248.6 901.7 249.4 905 250.3 908.4 251.1 910.7 251.7 911.7 252.4 915.1 254.6 918.4 257 921.7 259.4 925.1 261.8 928.4 264.3 931.8 266.8 934 268.6 935.1 270.8 938.5 277.7 941.8 284.9 945.2 291.9 948.5 299.5 949 300.7 951.8 310.4 955.2 323.5 958.5 337.4 961.9 349.1 962.3 350.4 965.2 358.3 968.6 366.1 970.7 369.1 971.9 370.4 975.3 373.2 978.6 374.5 979 374.5 981.9 373.8 985.3 371.9 987.3 370.5 988.6 369.3 992 364.8 995.3 359 998.7 353.5 999 353 1002 348.6 1005.4 343.8 1008.7 339.9 1009 339.6 1012 337.1 1015.4 334.7 1018.7 333 1019 332.9 1022.1 331.9 1025.4 330.9 1028.8 330.1 1032.1 329.6 1032.3 329.6 1035.5 329.3 1038.8 329.1 1042.1 328.9 1045.5 328.7 1045.7 328.6 1048.8 328.3 1052.2 328 1055.5 327.5 1057.3 327.2 1058.9 326.8 1062.2 325.7 1065.6 324.3 1068.9 322.5 1070.7 321.5 1072.3 320.5 1075.6 317.6 1078.9 314.1 1082.3 310.2 1084 308.1 1085.6 305.6 1089 299.5 1092.3 293.3 1095.7 287.3 1095.7 287.3 1099 282.5 1102.4 277.6 1105.7 272.9 1107.3 270.7 1109 269.8 1112.4 268.1 1115.7 266.5 1119 264.9 1119.1 264.9 1122.4 264.4 1125.8 263.9 1129.1 263.4 1132.5 262.9 1135.8 262.4 1139.1 261.9 1142.3 261.5 1142.5 261.4 1145.8 261 1149.2 260.6 1152.5 260.2 1155.9 259.8 1159.2 259.4 1162.6 259 1165.7 258.6 1165.9 258.6 1169.2 258 1172.6 257.4 1175.9 256.8 1179.3 256.2 1182.6 255.6 1186 255 1189 254.5 1189.3 254.4 1192.7 253.8 1196 253.3 1199.3 252.7 1202.7 252.1 1206 251.5 1209.4 251 1212.3 250.5 1212.7 250.4 1216.1 249.9 1219.4 249.3 1222.8 248.8 1226.1 248.2 1229.4 247.7 1232.8 247.2 1235.7 246.7 1236.1 246.7 1239.5 246.3 1242.8 245.9 1246.2 245.5 1249.5 245.2 1252.9 244.8 1256.2 244.4 1259.5 244.1 1262.9 243.7 1266.2 243.4 1269 243.1 1269.6 243.1 1272.9 242.9 1276.3 242.8 1279.6 242.6 1283 242.5 1286.3 242.4 1289.6 242.3 1293 242.1 1296.3 242" fill="none" stroke="#cf9a12" stroke-width="2.0" stroke-linejoin="round" stroke-linecap="butt"/>
<path d="M798 241.5 801.3 241.6 804.7 241.6 808 241.7 811.4 241.7 814.7 241.8 818.1 241.8 821.4 241.9 824.8 241.9 828.1 242 831.4 242 834.8 242.1 835.7 242.1 838.1 242.2 841.5 242.3 844.8 242.5 848.2 242.6 851.5 242.7 854.9 242.9 858.2 243 861.5 243.2 862.3 243.2 864.9 243.4 868.2 243.6 871.6 243.9 874.9 244.1 878.3 244.3 881.6 244.6 885 244.8 885.7 244.9 888.3 245.4 891.6 246 895 246.7 898.3 247.3 901.7 248 905 248.7 908.4 249.4 910.7 249.8 911.7 250.4 915.1 252.4 918.4 254.3 921.7 256.3 925.1 258.3 928.4 260.4 931.8 262.6 934 264 935.1 265.9 938.5 271.7 941.8 277.7 945.2 283.6 948.5 290 949 291 951.8 299.1 955.2 310.1 958.5 321.7 961.9 331.6 962.3 332.6 965.2 339.3 968.6 345.8 970.7 348.4 971.9 349.4 975.3 351.8 978.6 352.9 979 352.9 981.9 352.3 985.3 350.7 987.3 349.5 988.6 348.6 992 344.7 995.3 339.9 998.7 335.3 999 334.9 1002 331.2 1005.4 327.1 1008.7 323.9 1009 323.6 1012 321.5 1015.4 319.5 1018.7 318.1 1019 318 1022.1 317.1 1025.4 316.3 1028.8 315.7 1032.1 315.2 1032.3 315.2 1035.5 315 1038.8 314.8 1042.1 314.6 1045.5 314.4 1045.7 314.4 1048.8 314.2 1052.2 313.9 1055.5 313.5 1057.3 313.2 1058.9 312.9 1062.2 312 1065.6 310.8 1068.9 309.3 1070.7 308.5 1072.3 307.6 1075.6 305.2 1078.9 302.2 1082.3 298.9 1084 297.2 1085.6 295.1 1089 290 1092.3 284.8 1095.7 279.8 1095.7 279.8 1099 275.7 1102.4 271.6 1105.7 267.7 1107.3 265.8 1109 265.1 1112.4 263.6 1115.7 262.3 1119 261 1119.1 261 1122.4 260.5 1125.8 260.1 1129.1 259.7 1132.5 259.3 1135.8 258.9 1139.1 258.5 1142.3 258.1 1142.5 258 1145.8 257.7 1149.2 257.4 1152.5 257 1155.9 256.7 1159.2 256.4 1162.6 256 1165.7 255.7 1165.9 255.7 1169.2 255.2 1172.6 254.7 1175.9 254.2 1179.3 253.7 1182.6 253.2 1186 252.7 1189 252.2 1189.3 252.2 1192.7 251.7 1196 251.2 1199.3 250.7 1202.7 250.2 1206 249.7 1209.4 249.3 1212.3 248.8 1212.7 248.8 1216.1 248.3 1219.4 247.9 1222.8 247.4 1226.1 247 1229.4 246.5 1232.8 246.1 1235.7 245.7 1236.1 245.6 1239.5 245.3 1242.8 245 1246.2 244.7 1249.5 244.4 1252.9 244.1 1256.2 243.8 1259.5 243.5 1262.9 243.2 1266.2 242.9 1269 242.6 1269.6 242.6 1272.9 242.5 1276.3 242.4 1279.6 242.3 1283 242.2 1286.3 242.1 1289.6 242 1293 241.8 1296.3 241.7" fill="none" stroke="#e8413f" stroke-width="2.0" stroke-linejoin="round" stroke-linecap="butt"/>
<path d="M798 241.5 801.3 241.6 804.7 241.6 808 241.7 811.4 241.7 814.7 241.8 818.1 241.8 821.4 241.9 824.8 241.9 828.1 242 831.4 242 834.8 242.1 835.7 242.1 838.1 242.2 841.5 242.3 844.8 242.5 848.2 242.6 851.5 242.8 854.9 242.9 858.2 243.1 861.5 243.2 862.3 243.2 864.9 243.4 868.2 243.7 871.6 243.9 874.9 244.1 878.3 244.4 881.6 244.6 885 244.9 885.7 245 888.3 245.4 891.6 246.1 895 246.7 898.3 247.4 901.7 248.1 905 248.8 908.4 249.5 910.7 250 911.7 250.6 915.1 252.5 918.4 254.5 921.7 256.5 925.1 258.6 928.4 260.7 931.8 262.8 934 264.3 935.1 266.2 938.5 272.1 941.8 278.2 945.2 284.1 948.5 290.6 949 291.6 951.8 299.8 955.2 311 958.5 322.7 961.9 332.7 962.3 333.8 965.2 340.5 968.6 347.1 970.7 349.7 971.9 350.7 975.3 353.1 978.6 354.2 979 354.2 981.9 353.7 985.3 352 987.3 350.8 988.6 349.9 992 346 995.3 341.1 998.7 336.4 999 336 1002 332.3 1005.4 328.2 1008.7 324.9 1009 324.6 1012 322.5 1015.4 320.5 1018.7 319 1019 319 1022.1 318 1025.4 317.2 1028.8 316.6 1032.1 316.1 1032.3 316.1 1035.5 315.9 1038.8 315.7 1042.1 315.5 1045.5 315.3 1045.7 315.3 1048.8 315.1 1052.2 314.7 1055.5 314.3 1057.3 314.1 1058.9 313.8 1062.2 312.9 1065.6 311.6 1068.9 310.1 1070.7 309.3 1072.3 308.4 1075.6 305.9 1078.9 302.9 1082.3 299.6 1084 297.9 1085.6 295.7 1089 290.6 1092.3 285.3 1095.7 280.3 1095.7 280.2 1099 276.1 1102.4 272 1105.7 268 1107.3 266.1 1109 265.4 1112.4 263.9 1115.7 262.5 1119 261.2 1119.1 261.2 1122.4 260.8 1125.8 260.3 1129.1 259.9 1132.5 259.5 1135.8 259.1 1139.1 258.7 1142.3 258.3 1142.5 258.3 1145.8 257.9 1149.2 257.6 1152.5 257.2 1155.9 256.9 1159.2 256.6 1162.6 256.2 1165.7 255.9 1165.9 255.8 1169.2 255.4 1172.6 254.9 1175.9 254.3 1179.3 253.8 1182.6 253.3 1186 252.8 1189 252.4 1189.3 252.3 1192.7 251.8 1196 251.3 1199.3 250.8 1202.7 250.3 1206 249.9 1209.4 249.4 1212.3 248.9 1212.7 248.9 1216.1 248.4 1219.4 248 1222.8 247.5 1226.1 247 1229.4 246.6 1232.8 246.1 1235.7 245.8 1236.1 245.7 1239.5 245.4 1242.8 245.1 1246.2 244.8 1249.5 244.4 1252.9 244.1 1256.2 243.8 1259.5 243.5 1262.9 243.2 1266.2 242.9 1269 242.7 1269.6 242.7 1272.9 242.5 1276.3 242.4 1279.6 242.3 1283 242.2 1286.3 242.1 1289.6 242 1293 241.9 1296.3 241.8" fill="none" stroke="#1fc3c6" stroke-width="2.0" stroke-linejoin="round" stroke-linecap="butt"/>
<path d="M798 241.3 801.3 241.3 804.7 241.3 808 241.4 811.4 241.4 814.7 241.4 818.1 241.5 821.4 241.5 824.8 241.5 828.1 241.6 831.4 241.6 834.8 241.7 835.7 241.7 838.1 241.8 841.5 241.9 844.8 242 848.2 242.1 851.5 242.2 854.9 242.3 858.2 242.4 861.5 242.5 862.3 242.5 864.9 242.7 868.2 242.9 871.6 243 874.9 243.2 878.3 243.4 881.6 243.6 885 243.8 885.7 243.8 888.3 244.2 891.6 244.7 895 245.2 898.3 245.7 901.7 246.2 905 246.7 908.4 247.2 910.7 247.6 911.7 248 915.1 249.5 918.4 251 921.7 252.5 925.1 254 928.4 255.6 931.8 257.3 934 258.4 935.1 259.8 938.5 264.2 941.8 268.8 945.2 273.2 948.5 278.1 949 278.9 951.8 285 955.2 293.4 958.5 302.2 961.9 309.7 962.3 310.5 965.2 315.6 968.6 320.5 970.7 322.5 971.9 323.3 975.3 325 978.6 325.9 979 325.9 981.9 325.5 985.3 324.2 987.3 323.3 988.6 322.6 992 319.7 995.3 316 998.7 312.5 999 312.2 1002 309.4 1005.4 306.3 1008.7 303.8 1009 303.7 1012 302 1015.4 300.5 1018.7 299.5 1019 299.4 1022.1 298.7 1025.4 298.1 1028.8 297.6 1032.1 297.3 1032.3 297.3 1035.5 297.1 1038.8 296.9 1042.1 296.8 1045.5 296.7 1045.7 296.7 1048.8 296.5 1052.2 296.2 1055.5 295.9 1057.3 295.7 1058.9 295.5 1062.2 294.8 1065.6 293.9 1068.9 292.8 1070.7 292.1 1072.3 291.5 1075.6 289.6 1078.9 287.4 1082.3 284.9 1084 283.6 1085.6 281.9 1089 278.1 1092.3 274.1 1095.7 270.3 1095.7 270.3 1099 267.2 1102.4 264.1 1105.7 261.1 1107.3 259.7 1109 259.2 1112.4 258.1 1115.7 257 1119 256 1119.1 256 1122.4 255.7 1125.8 255.4 1129.1 255.1 1132.5 254.7 1135.8 254.4 1139.1 254.1 1142.3 253.8 1142.5 253.8 1145.8 253.6 1149.2 253.3 1152.5 253 1155.9 252.8 1159.2 252.5 1162.6 252.3 1165.7 252 1165.9 252 1169.2 251.6 1172.6 251.3 1175.9 250.9 1179.3 250.5 1182.6 250.1 1186 249.7 1189 249.4 1189.3 249.3 1192.7 249 1196 248.6 1199.3 248.2 1202.7 247.9 1206 247.5 1209.4 247.1 1212.3 246.8 1212.7 246.8 1216.1 246.4 1219.4 246.1 1222.8 245.7 1226.1 245.4 1229.4 245 1232.8 244.7 1235.7 244.4 1236.1 244.4 1239.5 244.1 1242.8 243.9 1246.2 243.7 1249.5 243.4 1252.9 243.2 1256.2 243 1259.5 242.7 1262.9 242.5 1266.2 242.3 1269 242.1 1269.6 242.1 1272.9 242 1276.3 241.9 1279.6 241.8 1283 241.7 1286.3 241.7 1289.6 241.6 1293 241.5 1296.3 241.4" fill="none" stroke="#4b4b4b" stroke-width="2.0" stroke-linejoin="round" stroke-linecap="butt"/>
<path d="M798 241.2 801.3 241.2 804.7 241.2 808 241.3 811.4 241.3 814.7 241.3 818.1 241.4 821.4 241.4 824.8 241.5 828.1 241.5 831.4 241.5 834.8 241.6 835.7 241.6 838.1 241.6 841.5 241.7 844.8 241.8 848.2 241.9 851.5 242 854.9 242.1 858.2 242.2 861.5 242.3 862.3 242.4 864.9 242.5 868.2 242.6 871.6 242.8 874.9 243 878.3 243.1 881.6 243.3 885 243.5 885.7 243.5 888.3 243.9 891.6 244.3 895 244.8 898.3 245.2 901.7 245.7 905 246.2 908.4 246.6 910.7 247 911.7 247.4 915.1 248.7 918.4 250.1 921.7 251.5 925.1 252.9 928.4 254.3 931.8 255.8 934 256.8 935.1 258.2 938.5 262.2 941.8 266.4 945.2 270.5 948.5 274.9 949 275.6 951.8 281.3 955.2 288.9 958.5 297 961.9 303.9 962.3 304.6 965.2 309.3 968.6 313.8 970.7 315.6 971.9 316.3 975.3 317.9 978.6 318.7 979 318.7 981.9 318.3 985.3 317.2 987.3 316.4 988.6 315.7 992 313 995.3 309.7 998.7 306.4 999 306.2 1002 303.6 1005.4 300.8 1008.7 298.5 1009 298.3 1012 296.8 1015.4 295.5 1018.7 294.5 1019 294.4 1022.1 293.8 1025.4 293.2 1028.8 292.8 1032.1 292.5 1032.3 292.5 1035.5 292.3 1038.8 292.2 1042.1 292.1 1045.5 291.9 1045.7 291.9 1048.8 291.7 1052.2 291.5 1055.5 291.2 1057.3 291.1 1058.9 290.9 1062.2 290.2 1065.6 289.4 1068.9 288.4 1070.7 287.8 1072.3 287.2 1075.6 285.5 1078.9 283.4 1082.3 281.1 1084 279.9 1085.6 278.4 1089 274.9 1092.3 271.3 1095.7 267.8 1095.7 267.8 1099 265 1102.4 262.1 1105.7 259.4 1107.3 258.1 1109 257.6 1112.4 256.6 1115.7 255.6 1119 254.7 1119.1 254.7 1122.4 254.4 1125.8 254.1 1129.1 253.8 1132.5 253.5 1135.8 253.2 1139.1 253 1142.3 252.7 1142.5 252.7 1145.8 252.4 1149.2 252.2 1152.5 252 1155.9 251.7 1159.2 251.5 1162.6 251.3 1165.7 251 1165.9 251 1169.2 250.7 1172.6 250.3 1175.9 250 1179.3 249.6 1182.6 249.3 1186 248.9 1189 248.6 1189.3 248.6 1192.7 248.3 1196 247.9 1199.3 247.6 1202.7 247.2 1206 246.9 1209.4 246.6 1212.3 246.3 1212.7 246.2 1216.1 245.9 1219.4 245.6 1222.8 245.3 1226.1 245 1229.4 244.7 1232.8 244.3 1235.7 244.1 1236.1 244 1239.5 243.8 1242.8 243.6 1246.2 243.4 1249.5 243.2 1252.9 243 1256.2 242.7 1259.5 242.5 1262.9 242.3 1266.2 242.1 1269 242 1269.6 242 1272.9 241.9 1276.3 241.8 1279.6 241.7 1283 241.6 1286.3 241.6 1289.6 241.5 1293 241.4 1296.3 241.3" fill="none" stroke="#b26ade" stroke-width="2.0" stroke-linejoin="round" stroke-linecap="butt"/>
<path d="M798 241 801.3 241 804.7 241.1 808 241.1 811.4 241.1 814.7 241.2 818.1 241.2 821.4 241.2 824.8 241.2 828.1 241.3 831.4 241.3 834.8 241.3 835.7 241.3 838.1 241.4 841.5 241.5 844.8 241.5 848.2 241.6 851.5 241.7 854.9 241.8 858.2 241.9 861.5 241.9 862.3 242 864.9 242.1 868.2 242.2 871.6 242.3 874.9 242.5 878.3 242.6 881.6 242.7 885 242.9 885.7 242.9 888.3 243.2 891.6 243.5 895 243.9 898.3 244.2 901.7 244.6 905 245 908.4 245.4 910.7 245.7 911.7 246 915.1 247 918.4 248.1 921.7 249.2 925.1 250.4 928.4 251.5 931.8 252.7 934 253.5 935.1 254.6 938.5 257.8 941.8 261.1 945.2 264.4 948.5 268 949 268.5 951.8 273 955.2 279.2 958.5 285.6 961.9 291.1 962.3 291.7 965.2 295.4 968.6 299 970.7 300.4 971.9 301 975.3 302.3 978.6 302.9 979 302.9 981.9 302.6 985.3 301.7 987.3 301.1 988.6 300.5 992 298.4 995.3 295.7 998.7 293.2 999 292.9 1002 290.9 1005.4 288.6 1008.7 286.8 1009 286.7 1012 285.5 1015.4 284.4 1018.7 283.6 1019 283.6 1022.1 283.1 1025.4 282.6 1028.8 282.2 1032.1 282 1032.3 282 1035.5 281.9 1038.8 281.8 1042.1 281.7 1045.5 281.6 1045.7 281.6 1048.8 281.4 1052.2 281.2 1055.5 281 1057.3 280.9 1058.9 280.7 1062.2 280.2 1065.6 279.5 1068.9 278.7 1070.7 278.2 1072.3 277.8 1075.6 276.4 1078.9 274.8 1082.3 272.9 1084 272 1085.6 270.8 1089 268 1092.3 265.1 1095.7 262.3 1095.7 262.3 1099 260 1102.4 257.8 1105.7 255.6 1107.3 254.5 1109 254.1 1112.4 253.3 1115.7 252.6 1119 251.8 1119.1 251.8 1122.4 251.6 1125.8 251.4 1129.1 251.1 1132.5 250.9 1135.8 250.7 1139.1 250.4 1142.3 250.2 1142.5 250.2 1145.8 250 1149.2 249.8 1152.5 249.6 1155.9 249.5 1159.2 249.3 1162.6 249.1 1165.7 248.9 1165.9 248.9 1169.2 248.6 1172.6 248.3 1175.9 248.1 1179.3 247.8 1182.6 247.5 1186 247.2 1189 247 1189.3 246.9 1192.7 246.7 1196 246.4 1199.3 246.1 1202.7 245.9 1206 245.6 1209.4 245.3 1212.3 245.1 1212.7 245.1 1216.1 244.8 1219.4 244.6 1222.8 244.3 1226.1 244.1 1229.4 243.8 1232.8 243.6 1235.7 243.3 1236.1 243.3 1239.5 243.1 1242.8 243 1246.2 242.8 1249.5 242.6 1252.9 242.4 1256.2 242.3 1259.5 242.1 1262.9 241.9 1266.2 241.8 1269 241.7 1269.6 241.6 1272.9 241.6 1276.3 241.5 1279.6 241.4 1283 241.4 1286.3 241.3 1289.6 241.3 1293 241.2 1296.3 241.2" fill="none" stroke="#8a8a1c" stroke-width="2.0" stroke-linejoin="round" stroke-linecap="butt"/>
<path d="M798 239.9 801.3 239.8 804.7 239.8 808 239.8 811.4 239.8 814.7 239.8 818.1 239.7 821.4 239.7 824.8 239.7 828.1 239.7 831.4 239.6 834.8 239.6 835.7 239.6 838.1 239.6 841.5 239.5 844.8 239.4 848.2 239.4 851.5 239.3 854.9 239.2 858.2 239.2 861.5 239.1 862.3 239.1 864.9 239 868.2 238.9 871.6 238.8 874.9 238.7 878.3 238.5 881.6 238.4 885 238.3 885.7 238.3 888.3 238 891.6 237.7 895 237.4 898.3 237.1 901.7 236.8 905 236.5 908.4 236.2 910.7 235.9 911.7 235.7 915.1 234.8 918.4 233.8 921.7 232.9 925.1 231.9 928.4 230.9 931.8 229.9 934 229.2 935.1 228.4 938.5 225.6 941.8 222.8 945.2 220 948.5 217 949 216.5 951.8 212.7 955.2 207.5 958.5 202 961.9 197.4 962.3 196.9 965.2 193.7 968.6 190.6 970.7 189.4 971.9 188.9 975.3 187.8 978.6 187.3 979 187.3 981.9 187.6 985.3 188.3 987.3 188.9 988.6 189.3 992 191.2 995.3 193.4 998.7 195.6 999 195.8 1002 197.6 1005.4 199.5 1008.7 201 1009 201.1 1012 202.1 1015.4 203.1 1018.7 203.7 1019 203.8 1022.1 204.2 1025.4 204.6 1028.8 204.9 1032.1 205.1 1032.3 205.1 1035.5 205.2 1038.8 205.3 1042.1 205.4 1045.5 205.5 1045.7 205.5 1048.8 205.6 1052.2 205.7 1055.5 205.9 1057.3 206 1058.9 206.2 1062.2 206.6 1065.6 207.2 1068.9 207.9 1070.7 208.3 1072.3 208.7 1075.6 209.8 1078.9 211.2 1082.3 212.8 1084 213.6 1085.6 214.6 1089 217 1092.3 219.5 1095.7 221.8 1095.7 221.8 1099 223.7 1102.4 225.7 1105.7 227.5 1107.3 228.4 1109 228.8 1112.4 229.4 1115.7 230.1 1119 230.7 1119.1 230.7 1122.4 230.9 1125.8 231.1 1129.1 231.3 1132.5 231.5 1135.8 231.7 1139.1 231.9 1142.3 232.1 1142.5 232.1 1145.8 232.2 1149.2 232.4 1152.5 232.5 1155.9 232.7 1159.2 232.9 1162.6 233 1165.7 233.2 1165.9 233.2 1169.2 233.4 1172.6 233.7 1175.9 233.9 1179.3 234.1 1182.6 234.4 1186 234.6 1189 234.8 1189.3 234.8 1192.7 235.1 1196 235.3 1199.3 235.5 1202.7 235.8 1206 236 1209.4 236.2 1212.3 236.4 1212.7 236.4 1216.1 236.7 1219.4 236.9 1222.8 237.1 1226.1 237.3 1229.4 237.5 1232.8 237.7 1235.7 237.9 1236.1 237.9 1239.5 238.1 1242.8 238.2 1246.2 238.4 1249.5 238.5 1252.9 238.7 1256.2 238.8 1259.5 238.9 1262.9 239.1 1266.2 239.2 1269 239.3 1269.6 239.3 1272.9 239.4 1276.3 239.5 1279.6 239.5 1283 239.6 1286.3 239.6 1289.6 239.7 1293 239.7 1296.3 239.8" fill="none" stroke="#2e9d62" stroke-width="2.0" stroke-linejoin="round" stroke-linecap="butt"/>
<path d="M798 239.4 801.3 239.4 804.7 239.3 808 239.3 811.4 239.2 814.7 239.2 818.1 239.2 821.4 239.1 824.8 239.1 828.1 239 831.4 239 834.8 238.9 835.7 238.9 838.1 238.8 841.5 238.7 844.8 238.6 848.2 238.5 851.5 238.3 854.9 238.2 858.2 238.1 861.5 238 862.3 237.9 864.9 237.8 868.2 237.6 871.6 237.4 874.9 237.1 878.3 236.9 881.6 236.7 885 236.5 885.7 236.4 888.3 236 891.6 235.5 895 234.9 898.3 234.3 901.7 233.7 905 233.1 908.4 232.5 910.7 232.1 911.7 231.6 915.1 229.9 918.4 228.2 921.7 226.4 925.1 224.6 928.4 222.8 931.8 220.9 934 219.6 935.1 217.9 938.5 212.8 941.8 207.6 945.2 202.4 948.5 196.7 949 195.8 951.8 188.7 955.2 179 958.5 168.8 961.9 160.2 962.3 159.2 965.2 153.3 968.6 147.6 970.7 145.4 971.9 144.5 975.3 142.4 978.6 141.4 979 141.4 981.9 141.9 985.3 143.3 987.3 144.4 988.6 145.2 992 148.6 995.3 152.8 998.7 156.9 999 157.2 1002 160.5 1005.4 164.1 1008.7 166.9 1009 167.1 1012 169 1015.4 170.8 1018.7 172 1019 172.1 1022.1 172.9 1025.4 173.6 1028.8 174.2 1032.1 174.5 1032.3 174.6 1035.5 174.8 1038.8 174.9 1042.1 175.1 1045.5 175.2 1045.7 175.3 1048.8 175.5 1052.2 175.8 1055.5 176.1 1057.3 176.3 1058.9 176.6 1062.2 177.4 1065.6 178.5 1068.9 179.8 1070.7 180.5 1072.3 181.3 1075.6 183.4 1078.9 186 1082.3 188.9 1084 190.4 1085.6 192.3 1089 196.8 1092.3 201.3 1095.7 205.7 1095.7 205.7 1099 209.3 1102.4 212.9 1105.7 216.4 1107.3 218 1109 218.7 1112.4 219.9 1115.7 221.2 1119 222.3 1119.1 222.3 1122.4 222.7 1125.8 223.1 1129.1 223.4 1132.5 223.8 1135.8 224.2 1139.1 224.5 1142.3 224.9 1142.5 224.9 1145.8 225.2 1149.2 225.5 1152.5 225.8 1155.9 226.1 1159.2 226.4 1162.6 226.7 1165.7 226.9 1165.9 227 1169.2 227.4 1172.6 227.8 1175.9 228.3 1179.3 228.7 1182.6 229.2 1186 229.6 1189 230 1189.3 230 1192.7 230.5 1196 230.9 1199.3 231.3 1202.7 231.8 1206 232.2 1209.4 232.6 1212.3 233 1212.7 233 1216.1 233.4 1219.4 233.8 1222.8 234.2 1226.1 234.6 1229.4 235 1232.8 235.4 1235.7 235.7 1236.1 235.8 1239.5 236.1 1242.8 236.3 1246.2 236.6 1249.5 236.9 1252.9 237.2 1256.2 237.4 1259.5 237.7 1262.9 238 1266.2 238.2 1269 238.4 1269.6 238.4 1272.9 238.5 1276.3 238.6 1279.6 238.7 1283 238.8 1286.3 238.9 1289.6 239 1293 239.1 1296.3 239.2" fill="none" stroke="#1c62d8" stroke-width="2.0" stroke-linejoin="round" stroke-linecap="butt"/>
<path d="M798 238.5 801.3 238.4 804.7 238.3 808 238.3 811.4 238.2 814.7 238.1 818.1 238 821.4 237.9 824.8 237.8 828.1 237.7 831.4 237.6 834.8 237.5 835.7 237.5 838.1 237.4 841.5 237.1 844.8 236.9 848.2 236.7 851.5 236.4 854.9 236.2 858.2 235.9 861.5 235.7 862.3 235.6 864.9 235.3 868.2 234.9 871.6 234.5 874.9 234.1 878.3 233.7 881.6 233.3 885 232.8 885.7 232.7 888.3 231.9 891.6 230.8 895 229.7 898.3 228.6 901.7 227.5 905 226.3 908.4 225.1 910.7 224.3 911.7 223.3 915.1 220 918.4 216.7 921.7 213.3 925.1 209.8 928.4 206.3 931.8 202.6 934 200.1 935.1 196.9 938.5 187 941.8 176.8 945.2 166.8 948.5 155.9 949 154.1 951.8 140.4 955.2 121.6 958.5 101.8 961.9 85 962.3 83.2 965.2 71.8 968.6 60.7 970.7 56.4 971.9 54.6 975.3 50.6 978.6 48.7 979 48.7 981.9 49.7 985.3 52.4 987.3 54.5 988.6 56.1 992 62.6 995.3 70.8 998.7 78.7 999 79.4 1002 85.7 1005.4 92.6 1008.7 98.2 1009 98.5 1012 102.2 1015.4 105.6 1018.7 108 1019 108.1 1022.1 109.7 1025.4 111.1 1028.8 112.1 1032.1 112.9 1032.3 112.9 1035.5 113.3 1038.8 113.6 1042.1 113.9 1045.5 114.2 1045.7 114.3 1048.8 114.7 1052.2 115.2 1055.5 115.9 1057.3 116.4 1058.9 116.9 1062.2 118.4 1065.6 120.5 1068.9 123 1070.7 124.4 1072.3 125.9 1075.6 130.1 1078.9 135.1 1082.3 140.7 1084 143.6 1085.6 147.3 1089 155.9 1092.3 164.8 1095.7 173.3 1095.7 173.3 1099 180.3 1102.4 187.2 1105.7 193.9 1107.3 197.1 1109 198.4 1112.4 200.8 1115.7 203.1 1119 205.3 1119.1 205.3 1122.4 206.1 1125.8 206.8 1129.1 207.6 1132.5 208.3 1135.8 208.9 1139.1 209.6 1142.3 210.3 1142.5 210.3 1145.8 210.9 1149.2 211.5 1152.5 212.1 1155.9 212.6 1159.2 213.2 1162.6 213.8 1165.7 214.3 1165.9 214.4 1169.2 215.2 1172.6 216.1 1175.9 216.9 1179.3 217.8 1182.6 218.6 1186 219.5 1189 220.3 1189.3 220.3 1192.7 221.2 1196 222 1199.3 222.8 1202.7 223.7 1206 224.5 1209.4 225.3 1212.3 226 1212.7 226.1 1216.1 226.9 1219.4 227.7 1222.8 228.4 1226.1 229.2 1229.4 230 1232.8 230.7 1235.7 231.4 1236.1 231.5 1239.5 232 1242.8 232.5 1246.2 233.1 1249.5 233.6 1252.9 234.1 1256.2 234.6 1259.5 235.2 1262.9 235.7 1266.2 236.2 1269 236.6 1269.6 236.6 1272.9 236.8 1276.3 237 1279.6 237.2 1283 237.4 1286.3 237.6 1289.6 237.8 1293 237.9 1296.3 238.1" fill="none" stroke="#6d3b3f" stroke-width="2.0" stroke-linejoin="round" stroke-linecap="butt"/>
<path d="M798 240.8 801.3 240.9 804.7 240.9 808 240.9 811.4 240.9 814.7 240.9 818.1 241 821.4 241 824.8 241 828.1 241 831.4 241 834.8 241.1 835.7 241.1 838.1 241.1 841.5 241.2 844.8 241.2 848.2 241.3 851.5 241.3 854.9 241.4 858.2 241.5 861.5 241.5 862.3 241.5 864.9 241.6 868.2 241.7 871.6 241.8 874.9 241.9 878.3 242 881.6 242.1 885 242.2 885.7 242.2 888.3 242.4 891.6 242.6 895 242.9 898.3 243.2 901.7 243.4 905 243.7 908.4 244 910.7 244.2 911.7 244.4 915.1 245.2 918.4 246 921.7 246.8 925.1 247.6 928.4 248.4 931.8 249.3 934 249.8 935.1 250.6 938.5 252.9 941.8 255.3 945.2 257.7 948.5 260.2 949 260.6 951.8 263.9 955.2 268.3 958.5 272.9 961.9 276.9 962.3 277.3 965.2 280 968.6 282.6 970.7 283.6 971.9 284 975.3 284.9 978.6 285.4 979 285.4 981.9 285.2 985.3 284.5 987.3 284 988.6 283.7 992 282.1 995.3 280.2 998.7 278.4 999 278.2 1002 276.7 1005.4 275.1 1008.7 273.8 1009 273.7 1012 272.8 1015.4 272.1 1018.7 271.5 1019 271.4 1022.1 271.1 1025.4 270.8 1028.8 270.5 1032.1 270.3 1032.3 270.3 1035.5 270.2 1038.8 270.2 1042.1 270.1 1045.5 270 1045.7 270 1048.8 269.9 1052.2 269.8 1055.5 269.6 1057.3 269.5 1058.9 269.4 1062.2 269 1065.6 268.6 1068.9 268 1070.7 267.6 1072.3 267.3 1075.6 266.3 1078.9 265.1 1082.3 263.8 1084 263.1 1085.6 262.3 1089 260.2 1092.3 258.2 1095.7 256.2 1095.7 256.1 1099 254.5 1102.4 252.9 1105.7 251.3 1107.3 250.6 1109 250.3 1112.4 249.7 1115.7 249.1 1119 248.6 1119.1 248.6 1122.4 248.5 1125.8 248.3 1129.1 248.1 1132.5 247.9 1135.8 247.8 1139.1 247.6 1142.3 247.5 1142.5 247.5 1145.8 247.3 1149.2 247.2 1152.5 247.1 1155.9 246.9 1159.2 246.8 1162.6 246.6 1165.7 246.5 1165.9 246.5 1169.2 246.3 1172.6 246.1 1175.9 245.9 1179.3 245.7 1182.6 245.5 1186 245.3 1189 245.1 1189.3 245.1 1192.7 244.9 1196 244.7 1199.3 244.5 1202.7 244.3 1206 244.1 1209.4 243.9 1212.3 243.8 1212.7 243.8 1216.1 243.6 1219.4 243.4 1222.8 243.2 1226.1 243 1229.4 242.8 1232.8 242.7 1235.7 242.5 1236.1 242.5 1239.5 242.4 1242.8 242.2 1246.2 242.1 1249.5 242 1252.9 241.9 1256.2 241.8 1259.5 241.6 1262.9 241.5 1266.2 241.4 1269 241.3 1269.6 241.3 1272.9 241.2 1276.3 241.2 1279.6 241.2 1283 241.1 1286.3 241.1 1289.6 241 1293 241 1296.3 240.9" fill="none" stroke="#f0641e" stroke-width="2.0" stroke-linejoin="round" stroke-linecap="butt"/>
<path d="M1462 246.3 1465.3 246.4 1468.7 246.6 1472 246.8 1475.4 247 1478.7 247.2 1482.1 247.3 1485.4 247.5 1488.7 247.7 1492.1 247.9 1495.4 248.1 1498.8 248.3 1502.1 248.4 1505.4 248.6 1508.8 248.8 1511.3 249 1512.1 249 1515.5 249.2 1518.8 249.4 1522.2 249.7 1525.5 249.9 1528.8 250.1 1532.2 250.3 1535.5 250.6 1538.9 250.8 1542.2 251 1545.6 251.2 1548.9 251.5 1551.3 251.7 1552.2 251.8 1555.6 252.4 1558.9 253 1562.3 253.7 1565.6 254.3 1569 254.9 1572.3 255.6 1575.6 256.2 1579 256.9 1582.3 257.6 1583 257.7 1585.7 259.3 1589 261.4 1592.3 263.4 1595.7 265.5 1599 267.7 1602.4 269.9 1605.7 272.1 1609.1 274.4 1611.3 276 1612.4 277.8 1615.7 283.8 1619.1 290 1622.4 296.1 1625.8 302.6 1628 307 1629.1 309.7 1632.5 318.3 1635.8 327.5 1639.1 336.7 1641.3 342.2 1642.5 344.9 1645.8 353 1649.2 360.7 1652.5 367.3 1654.7 370.5 1655.9 372.1 1659.2 375.9 1662.5 378.4 1663 378.6 1665.9 379.7 1668 380 1669.2 379.9 1672.6 378.5 1675.9 376.2 1676.3 375.9 1679.2 373.2 1682.6 369 1684.7 366.5 1685.9 365 1689.3 361 1692.6 357.1 1694.7 355 1696 353.8 1699.3 350.7 1702.6 348.1 1704.7 346.9 1706 346.3 1709.3 345 1712.7 343.9 1714.7 343.5 1716 343.3 1719.4 342.9 1722.7 342.6 1726 342.2 1726.3 342.2 1729.4 341.7 1732.7 341 1736.1 340.1 1738 339.5 1739.4 338.9 1742.8 337.2 1746.1 334.9 1746.3 334.7 1749.4 331.7 1752.8 327.3 1754.7 324.6 1756.1 322.4 1759.5 316.6 1762.8 310.6 1766.1 304.7 1766.3 304.3 1769.5 299.1 1772.8 293.6 1776.2 288.3 1778 285.4 1779.5 284.4 1782.9 282.1 1786.2 279.9 1789.5 277.7 1791.3 276.6 1792.9 276.3 1796.2 275.6 1799.6 274.9 1802.9 274.3 1804.7 273.9 1806.3 273.8 1809.6 273.4 1812.9 273.1 1816.3 272.8 1819.6 272.4 1823 272.1 1824.7 271.9 1826.3 271.7 1829.7 271.2 1833 270.7 1836.3 270.1 1839.7 269.6 1843 269.1 1846.3 268.5 1846.4 268.5 1849.7 267.6 1853 266.6 1856.4 265.6 1859.7 264.6 1863.1 263.6 1866.4 262.6 1869.8 261.6 1871.3 261.1 1873.1 260.6 1876.4 259.6 1879.8 258.5 1883.1 257.5 1886.5 256.5 1889.8 255.5 1893.2 254.5 1896.5 253.5 1898 253 1899.8 252.6 1903.2 251.7 1906.5 250.9 1909.9 250.1 1913.2 249.3 1914.7 249 1916.6 248.7 1919.9 248.4 1923.2 248 1926.6 247.7 1929.9 247.3 1933.3 247 1936.6 246.7 1938 246.5 1939.9 246.4 1943.3 246.3 1946.6 246.1 1950 246 1953.3 245.8 1956.7 245.7 1960 245.6" fill="none" stroke="#cf9a12" stroke-width="2.0" stroke-linejoin="round" stroke-linecap="butt"/>
<path d="M1462 246.1 1465.3 246.2 1468.7 246.4 1472 246.6 1475.4 246.7 1478.7 246.9 1482.1 247 1485.4 247.2 1488.7 247.4 1492.1 247.5 1495.4 247.7 1498.8 247.8 1502.1 248 1505.4 248.2 1508.8 248.3 1511.3 248.4 1512.1 248.5 1515.5 248.7 1518.8 248.9 1522.2 249.1 1525.5 249.3 1528.8 249.5 1532.2 249.7 1535.5 249.9 1538.9 250 1542.2 250.3 1545.6 250.5 1548.9 250.7 1551.3 250.8 1552.2 251 1555.6 251.5 1558.9 252 1562.3 252.6 1565.6 253.1 1569 253.7 1572.3 254.2 1575.6 254.8 1579 255.4 1582.3 256 1583 256.1 1585.7 257.5 1589 259.3 1592.3 261.1 1595.7 263 1599 264.9 1602.4 266.8 1605.7 268.7 1609.1 270.7 1611.3 272.1 1612.4 273.8 1615.7 279 1619.1 284.4 1622.4 289.8 1625.8 295.4 1628 299.3 1629.1 301.7 1632.5 309.2 1635.8 317.3 1639.1 325.3 1641.3 330.1 1642.5 332.5 1645.8 339.6 1649.2 346.3 1652.5 352.1 1654.7 354.9 1655.9 356.3 1659.2 359.6 1662.5 361.9 1663 362 1665.9 362.9 1668 363.2 1669.2 363.1 1672.6 361.9 1675.9 359.9 1676.3 359.7 1679.2 357.3 1682.6 353.6 1684.7 351.4 1685.9 350.1 1689.3 346.6 1692.6 343.2 1694.7 341.3 1696 340.3 1699.3 337.5 1702.6 335.3 1704.7 334.2 1706 333.7 1709.3 332.5 1712.7 331.6 1714.7 331.3 1716 331.1 1719.4 330.7 1722.7 330.5 1726 330.1 1726.3 330.1 1729.4 329.6 1732.7 329 1736.1 328.3 1738 327.7 1739.4 327.3 1742.8 325.8 1746.1 323.7 1746.3 323.6 1749.4 320.9 1752.8 317 1754.7 314.7 1756.1 312.8 1759.5 307.7 1762.8 302.4 1766.1 297.2 1766.3 297 1769.5 292.3 1772.8 287.5 1776.2 282.9 1778 280.4 1779.5 279.5 1782.9 277.5 1786.2 275.5 1789.5 273.7 1791.3 272.7 1792.9 272.4 1796.2 271.8 1799.6 271.2 1802.9 270.6 1804.7 270.3 1806.3 270.2 1809.6 269.9 1812.9 269.6 1816.3 269.3 1819.6 269 1823 268.7 1824.7 268.6 1826.3 268.3 1829.7 267.9 1833 267.5 1836.3 267 1839.7 266.5 1843 266.1 1846.3 265.6 1846.4 265.6 1849.7 264.8 1853 263.9 1856.4 263 1859.7 262.2 1863.1 261.3 1866.4 260.4 1869.8 259.5 1871.3 259.1 1873.1 258.6 1876.4 257.7 1879.8 256.8 1883.1 255.9 1886.5 255.1 1889.8 254.2 1893.2 253.3 1896.5 252.4 1898 252 1899.8 251.6 1903.2 250.9 1906.5 250.2 1909.9 249.4 1913.2 248.7 1914.7 248.4 1916.6 248.3 1919.9 247.9 1923.2 247.6 1926.6 247.3 1929.9 247 1933.3 246.7 1936.6 246.4 1938 246.3 1939.9 246.2 1943.3 246.1 1946.6 246 1950 245.9 1953.3 245.7 1956.7 245.6 1960 245.5" fill="none" stroke="#1fc3c6" stroke-width="2.0" stroke-linejoin="round" stroke-linecap="butt"/>
<path d="M1462 246 1465.3 246.2 1468.7 246.3 1472 246.5 1475.4 246.6 1478.7 246.8 1482.1 246.9 1485.4 247.1 1488.7 247.2 1492.1 247.4 1495.4 247.5 1498.8 247.7 1502.1 247.8 1505.4 248 1508.8 248.2 1511.3 248.3 1512.1 248.3 1515.5 248.5 1518.8 248.7 1522.2 248.9 1525.5 249 1528.8 249.2 1532.2 249.4 1535.5 249.6 1538.9 249.8 1542.2 250 1545.6 250.2 1548.9 250.4 1551.3 250.5 1552.2 250.7 1555.6 251.2 1558.9 251.7 1562.3 252.2 1565.6 252.7 1569 253.2 1572.3 253.8 1575.6 254.3 1579 254.9 1582.3 255.5 1583 255.6 1585.7 256.9 1589 258.6 1592.3 260.3 1595.7 262.1 1599 263.9 1602.4 265.7 1605.7 267.5 1609.1 269.4 1611.3 270.8 1612.4 272.3 1615.7 277.3 1619.1 282.5 1622.4 287.5 1625.8 292.9 1628 296.6 1629.1 298.9 1632.5 306 1635.8 313.7 1639.1 321.3 1641.3 325.8 1642.5 328.1 1645.8 334.8 1649.2 341.3 1652.5 346.7 1654.7 349.4 1655.9 350.7 1659.2 353.9 1662.5 356 1663 356.2 1665.9 357 1668 357.3 1669.2 357.2 1672.6 356 1675.9 354.2 1676.3 353.9 1679.2 351.6 1682.6 348.2 1684.7 346.1 1685.9 344.8 1689.3 341.5 1692.6 338.3 1694.7 336.5 1696 335.5 1699.3 332.9 1702.6 330.7 1704.7 329.8 1706 329.3 1709.3 328.1 1712.7 327.3 1714.7 327 1716 326.8 1719.4 326.5 1722.7 326.2 1726 325.9 1726.3 325.8 1729.4 325.4 1732.7 324.8 1736.1 324.1 1738 323.6 1739.4 323.1 1742.8 321.7 1746.1 319.8 1746.3 319.6 1749.4 317.1 1752.8 313.4 1754.7 311.2 1756.1 309.4 1759.5 304.6 1762.8 299.5 1766.1 294.6 1766.3 294.4 1769.5 290 1772.8 285.4 1776.2 281 1778 278.6 1779.5 277.7 1782.9 275.8 1786.2 274 1789.5 272.2 1791.3 271.3 1792.9 271 1796.2 270.5 1799.6 269.9 1802.9 269.3 1804.7 269.1 1806.3 268.9 1809.6 268.6 1812.9 268.4 1816.3 268.1 1819.6 267.8 1823 267.5 1824.7 267.4 1826.3 267.2 1829.7 266.8 1833 266.3 1836.3 265.9 1839.7 265.5 1843 265 1846.3 264.6 1846.4 264.6 1849.7 263.8 1853 263 1856.4 262.1 1859.7 261.3 1863.1 260.5 1866.4 259.6 1869.8 258.8 1871.3 258.4 1873.1 257.9 1876.4 257.1 1879.8 256.2 1883.1 255.4 1886.5 254.5 1889.8 253.7 1893.2 252.9 1896.5 252 1898 251.6 1899.8 251.3 1903.2 250.6 1906.5 249.9 1909.9 249.2 1913.2 248.6 1914.7 248.3 1916.6 248.1 1919.9 247.8 1923.2 247.5 1926.6 247.2 1929.9 246.9 1933.3 246.6 1936.6 246.4 1938 246.2 1939.9 246.2 1943.3 246 1946.6 245.9 1950 245.8 1953.3 245.7 1956.7 245.6 1960 245.5" fill="none" stroke="#e8413f" stroke-width="2.0" stroke-linejoin="round" stroke-linecap="butt"/>
<path d="M1462 245.9 1465.3 246 1468.7 246.1 1472 246.3 1475.4 246.4 1478.7 246.5 1482.1 246.7 1485.4 246.8 1488.7 246.9 1492.1 247.1 1495.4 247.2 1498.8 247.3 1502.1 247.5 1505.4 247.6 1508.8 247.7 1511.3 247.8 1512.1 247.9 1515.5 248 1518.8 248.2 1522.2 248.3 1525.5 248.5 1528.8 248.7 1532.2 248.8 1535.5 249 1538.9 249.1 1542.2 249.3 1545.6 249.5 1548.9 249.6 1551.3 249.8 1552.2 249.9 1555.6 250.3 1558.9 250.8 1562.3 251.2 1565.6 251.7 1569 252.1 1572.3 252.6 1575.6 253.1 1579 253.6 1582.3 254.1 1583 254.2 1585.7 255.3 1589 256.8 1592.3 258.3 1595.7 259.8 1599 261.3 1602.4 262.9 1605.7 264.5 1609.1 266.2 1611.3 267.3 1612.4 268.7 1615.7 273 1619.1 277.5 1622.4 281.8 1625.8 286.5 1628 289.7 1629.1 291.7 1632.5 297.8 1635.8 304.5 1639.1 311.1 1641.3 315 1642.5 317 1645.8 322.9 1649.2 328.4 1652.5 333.1 1654.7 335.5 1655.9 336.6 1659.2 339.3 1662.5 341.2 1663 341.3 1665.9 342.1 1668 342.3 1669.2 342.2 1672.6 341.2 1675.9 339.6 1676.3 339.4 1679.2 337.4 1682.6 334.4 1684.7 332.6 1685.9 331.5 1689.3 328.6 1692.6 325.8 1694.7 324.3 1696 323.4 1699.3 321.2 1702.6 319.3 1704.7 318.4 1706 318 1709.3 317 1712.7 316.3 1714.7 316 1716 315.9 1719.4 315.6 1722.7 315.4 1726 315.1 1726.3 315 1729.4 314.7 1732.7 314.2 1736.1 313.5 1738 313.1 1739.4 312.7 1742.8 311.5 1746.1 309.8 1746.3 309.7 1749.4 307.5 1752.8 304.3 1754.7 302.4 1756.1 300.8 1759.5 296.6 1762.8 292.2 1766.1 288 1766.3 287.8 1769.5 283.9 1772.8 280 1776.2 276.2 1778 274.1 1779.5 273.4 1782.9 271.7 1786.2 270.1 1789.5 268.6 1791.3 267.8 1792.9 267.5 1796.2 267 1799.6 266.6 1802.9 266.1 1804.7 265.8 1806.3 265.7 1809.6 265.5 1812.9 265.2 1816.3 265 1819.6 264.8 1823 264.5 1824.7 264.4 1826.3 264.2 1829.7 263.8 1833 263.5 1836.3 263.1 1839.7 262.7 1843 262.3 1846.3 261.9 1846.4 261.9 1849.7 261.3 1853 260.5 1856.4 259.8 1859.7 259.1 1863.1 258.4 1866.4 257.7 1869.8 256.9 1871.3 256.6 1873.1 256.2 1876.4 255.5 1879.8 254.7 1883.1 254 1886.5 253.3 1889.8 252.5 1893.2 251.8 1896.5 251.1 1898 250.7 1899.8 250.4 1903.2 249.8 1906.5 249.2 1909.9 248.6 1913.2 248.1 1914.7 247.8 1916.6 247.7 1919.9 247.4 1923.2 247.2 1926.6 246.9 1929.9 246.7 1933.3 246.4 1936.6 246.2 1938 246.1 1939.9 246 1943.3 245.9 1946.6 245.8 1950 245.7 1953.3 245.6 1956.7 245.5 1960 245.4" fill="none" stroke="#4b4b4b" stroke-width="2.0" stroke-linejoin="round" stroke-linecap="butt"/>
<path d="M1462 245.7 1465.3 245.8 1468.7 245.9 1472 246 1475.4 246.1 1478.7 246.2 1482.1 246.4 1485.4 246.5 1488.7 246.6 1492.1 246.7 1495.4 246.8 1498.8 246.9 1502.1 247 1505.4 247.1 1508.8 247.2 1511.3 247.3 1512.1 247.3 1515.5 247.5 1518.8 247.6 1522.2 247.7 1525.5 247.9 1528.8 248 1532.2 248.1 1535.5 248.3 1538.9 248.4 1542.2 248.5 1545.6 248.7 1548.9 248.8 1551.3 248.9 1552.2 249 1555.6 249.4 1558.9 249.7 1562.3 250.1 1565.6 250.5 1569 250.9 1572.3 251.2 1575.6 251.6 1579 252 1582.3 252.5 1583 252.5 1585.7 253.5 1589 254.7 1592.3 255.9 1595.7 257.2 1599 258.5 1602.4 259.8 1605.7 261.1 1609.1 262.4 1611.3 263.4 1612.4 264.5 1615.7 268.1 1619.1 271.8 1622.4 275.4 1625.8 279.2 1628 281.9 1629.1 283.5 1632.5 288.6 1635.8 294.1 1639.1 299.5 1641.3 302.8 1642.5 304.4 1645.8 309.2 1649.2 313.8 1652.5 317.7 1654.7 319.6 1655.9 320.6 1659.2 322.8 1662.5 324.3 1663 324.5 1665.9 325.1 1668 325.3 1669.2 325.2 1672.6 324.4 1675.9 323 1676.3 322.9 1679.2 321.2 1682.6 318.7 1684.7 317.2 1685.9 316.4 1689.3 314 1692.6 311.7 1694.7 310.4 1696 309.7 1699.3 307.8 1702.6 306.3 1704.7 305.6 1706 305.2 1709.3 304.4 1712.7 303.8 1714.7 303.6 1716 303.4 1719.4 303.2 1722.7 303 1726 302.8 1726.3 302.8 1729.4 302.5 1732.7 302 1736.1 301.5 1738 301.2 1739.4 300.8 1742.8 299.8 1746.1 298.5 1746.3 298.4 1749.4 296.5 1752.8 293.9 1754.7 292.3 1756.1 291 1759.5 287.6 1762.8 284 1766.1 280.5 1766.3 280.3 1769.5 277.1 1772.8 273.9 1776.2 270.7 1778 269 1779.5 268.4 1782.9 267 1786.2 265.7 1789.5 264.4 1791.3 263.8 1792.9 263.6 1796.2 263.2 1799.6 262.8 1802.9 262.4 1804.7 262.2 1806.3 262.1 1809.6 261.9 1812.9 261.7 1816.3 261.5 1819.6 261.3 1823 261.1 1824.7 261 1826.3 260.8 1829.7 260.5 1833 260.2 1836.3 259.9 1839.7 259.6 1843 259.3 1846.3 259 1846.4 259 1849.7 258.4 1853 257.8 1856.4 257.2 1859.7 256.6 1863.1 256 1866.4 255.4 1869.8 254.8 1871.3 254.5 1873.1 254.2 1876.4 253.6 1879.8 253 1883.1 252.4 1886.5 251.8 1889.8 251.2 1893.2 250.6 1896.5 250 1898 249.7 1899.8 249.5 1903.2 249 1906.5 248.5 1909.9 248 1913.2 247.5 1914.7 247.3 1916.6 247.2 1919.9 247 1923.2 246.8 1926.6 246.5 1929.9 246.3 1933.3 246.1 1936.6 245.9 1938 245.9 1939.9 245.8 1943.3 245.7 1946.6 245.6 1950 245.5 1953.3 245.5 1956.7 245.4 1960 245.3" fill="none" stroke="#b26ade" stroke-width="2.0" stroke-linejoin="round" stroke-linecap="butt"/>
<path d="M1462 245.6 1465.3 245.7 1468.7 245.8 1472 245.9 1475.4 246 1478.7 246.1 1482.1 246.2 1485.4 246.3 1488.7 246.4 1492.1 246.5 1495.4 246.6 1498.8 246.7 1502.1 246.8 1505.4 246.9 1508.8 247 1511.3 247.1 1512.1 247.1 1515.5 247.2 1518.8 247.3 1522.2 247.5 1525.5 247.6 1528.8 247.7 1532.2 247.8 1535.5 247.9 1538.9 248.1 1542.2 248.2 1545.6 248.3 1548.9 248.4 1551.3 248.5 1552.2 248.6 1555.6 248.9 1558.9 249.3 1562.3 249.6 1565.6 249.9 1569 250.3 1572.3 250.6 1575.6 251 1579 251.3 1582.3 251.7 1583 251.8 1585.7 252.6 1589 253.7 1592.3 254.8 1595.7 256 1599 257.1 1602.4 258.3 1605.7 259.5 1609.1 260.7 1611.3 261.6 1612.4 262.6 1615.7 265.8 1619.1 269.1 1622.4 272.4 1625.8 275.8 1628 278.2 1629.1 279.7 1632.5 284.2 1635.8 289.2 1639.1 294.1 1641.3 297 1642.5 298.5 1645.8 302.9 1649.2 307 1652.5 310.5 1654.7 312.3 1655.9 313.1 1659.2 315.1 1662.5 316.5 1663 316.6 1665.9 317.2 1668 317.3 1669.2 317.2 1672.6 316.5 1675.9 315.3 1676.3 315.1 1679.2 313.7 1682.6 311.4 1684.7 310.1 1685.9 309.3 1689.3 307.1 1692.6 305 1694.7 303.9 1696 303.3 1699.3 301.6 1702.6 300.2 1704.7 299.6 1706 299.3 1709.3 298.5 1712.7 298 1714.7 297.8 1716 297.7 1719.4 297.4 1722.7 297.3 1726 297.1 1726.3 297 1729.4 296.8 1732.7 296.4 1736.1 295.9 1738 295.6 1739.4 295.3 1742.8 294.4 1746.1 293.2 1746.3 293.1 1749.4 291.4 1752.8 289.1 1754.7 287.6 1756.1 286.4 1759.5 283.4 1762.8 280.1 1766.1 276.9 1766.3 276.8 1769.5 273.9 1772.8 271 1776.2 268.1 1778 266.6 1779.5 266.1 1782.9 264.8 1786.2 263.6 1789.5 262.5 1791.3 261.9 1792.9 261.7 1796.2 261.4 1799.6 261 1802.9 260.7 1804.7 260.5 1806.3 260.4 1809.6 260.2 1812.9 260 1816.3 259.8 1819.6 259.7 1823 259.5 1824.7 259.4 1826.3 259.3 1829.7 259 1833 258.7 1836.3 258.4 1839.7 258.1 1843 257.9 1846.3 257.6 1846.4 257.6 1849.7 257.1 1853 256.5 1856.4 256 1859.7 255.5 1863.1 254.9 1866.4 254.4 1869.8 253.8 1871.3 253.6 1873.1 253.3 1876.4 252.8 1879.8 252.2 1883.1 251.7 1886.5 251.1 1889.8 250.6 1893.2 250 1896.5 249.5 1898 249.2 1899.8 249 1903.2 248.6 1906.5 248.1 1909.9 247.7 1913.2 247.3 1914.7 247.1 1916.6 247 1919.9 246.8 1923.2 246.6 1926.6 246.4 1929.9 246.2 1933.3 246 1936.6 245.8 1938 245.8 1939.9 245.7 1943.3 245.6 1946.6 245.6 1950 245.5 1953.3 245.4 1956.7 245.3 1960 245.3" fill="none" stroke="#8a8a1c" stroke-width="2.0" stroke-linejoin="round" stroke-linecap="butt"/>
<path d="M1462 244.4 1465.3 244.3 1468.7 244.3 1472 244.2 1475.4 244.1 1478.7 244 1482.1 244 1485.4 243.9 1488.7 243.8 1492.1 243.8 1495.4 243.7 1498.8 243.6 1502.1 243.6 1505.4 243.5 1508.8 243.4 1511.3 243.4 1512.1 243.3 1515.5 243.3 1518.8 243.2 1522.2 243.1 1525.5 243 1528.8 242.9 1532.2 242.9 1535.5 242.8 1538.9 242.7 1542.2 242.6 1545.6 242.5 1548.9 242.4 1551.3 242.4 1552.2 242.3 1555.6 242.1 1558.9 241.8 1562.3 241.6 1565.6 241.4 1569 241.1 1572.3 240.9 1575.6 240.6 1579 240.4 1582.3 240.1 1583 240.1 1585.7 239.5 1589 238.7 1592.3 237.9 1595.7 237.1 1599 236.3 1602.4 235.5 1605.7 234.6 1609.1 233.8 1611.3 233.2 1612.4 232.5 1615.7 230.2 1619.1 227.9 1622.4 225.6 1625.8 223.1 1628 221.4 1629.1 220.4 1632.5 217.2 1635.8 213.7 1639.1 210.2 1641.3 208.2 1642.5 207.1 1645.8 204.1 1649.2 201.2 1652.5 198.7 1654.7 197.5 1655.9 196.9 1659.2 195.5 1662.5 194.5 1663 194.4 1665.9 194 1668 193.9 1669.2 193.9 1672.6 194.5 1675.9 195.3 1676.3 195.4 1679.2 196.5 1682.6 198 1684.7 199 1685.9 199.6 1689.3 201.1 1692.6 202.5 1694.7 203.3 1696 203.8 1699.3 205 1702.6 206 1704.7 206.4 1706 206.6 1709.3 207.1 1712.7 207.5 1714.7 207.7 1716 207.8 1719.4 207.9 1722.7 208 1726 208.2 1726.3 208.2 1729.4 208.4 1732.7 208.6 1736.1 209 1738 209.2 1739.4 209.4 1742.8 210.1 1746.1 210.9 1746.3 211 1749.4 212.2 1752.8 213.8 1754.7 214.8 1756.1 215.6 1759.5 217.8 1762.8 220.1 1766.1 222.3 1766.3 222.5 1769.5 224.5 1772.8 226.5 1776.2 228.5 1778 229.6 1779.5 230 1782.9 230.9 1786.2 231.7 1789.5 232.5 1791.3 232.9 1792.9 233 1796.2 233.3 1799.6 233.6 1802.9 233.8 1804.7 233.9 1806.3 234 1809.6 234.1 1812.9 234.3 1816.3 234.4 1819.6 234.5 1823 234.6 1824.7 234.7 1826.3 234.8 1829.7 235 1833 235.2 1836.3 235.4 1839.7 235.6 1843 235.8 1846.3 236 1846.4 236 1849.7 236.3 1853 236.7 1856.4 237.1 1859.7 237.5 1863.1 237.8 1866.4 238.2 1869.8 238.6 1871.3 238.8 1873.1 239 1876.4 239.4 1879.8 239.8 1883.1 240.1 1886.5 240.5 1889.8 240.9 1893.2 241.3 1896.5 241.7 1898 241.8 1899.8 242 1903.2 242.3 1906.5 242.6 1909.9 242.9 1913.2 243.2 1914.7 243.4 1916.6 243.4 1919.9 243.6 1923.2 243.7 1926.6 243.9 1929.9 244 1933.3 244.1 1936.6 244.2 1938 244.3 1939.9 244.3 1943.3 244.4 1946.6 244.4 1950 244.5 1953.3 244.5 1956.7 244.6 1960 244.6" fill="none" stroke="#2e9d62" stroke-width="2.0" stroke-linejoin="round" stroke-linecap="butt"/>
<path d="M1462 243.9 1465.3 243.7 1468.7 243.6 1472 243.5 1475.4 243.3 1478.7 243.2 1482.1 243.1 1485.4 242.9 1488.7 242.8 1492.1 242.6 1495.4 242.5 1498.8 242.4 1502.1 242.2 1505.4 242.1 1508.8 241.9 1511.3 241.8 1512.1 241.8 1515.5 241.6 1518.8 241.4 1522.2 241.3 1525.5 241.1 1528.8 240.9 1532.2 240.8 1535.5 240.6 1538.9 240.4 1542.2 240.3 1545.6 240.1 1548.9 239.9 1551.3 239.8 1552.2 239.7 1555.6 239.2 1558.9 238.7 1562.3 238.3 1565.6 237.8 1569 237.3 1572.3 236.8 1575.6 236.3 1579 235.8 1582.3 235.3 1583 235.2 1585.7 234 1589 232.4 1592.3 230.8 1595.7 229.2 1599 227.6 1602.4 225.9 1605.7 224.2 1609.1 222.5 1611.3 221.3 1612.4 219.9 1615.7 215.3 1619.1 210.6 1622.4 206 1625.8 201.2 1628 197.7 1629.1 195.7 1632.5 189.2 1635.8 182.2 1639.1 175.2 1641.3 171.1 1642.5 169 1645.8 162.9 1649.2 157 1652.5 152 1654.7 149.6 1655.9 148.4 1659.2 145.5 1662.5 143.6 1663 143.4 1665.9 142.6 1668 142.4 1669.2 142.5 1672.6 143.6 1675.9 145.2 1676.3 145.5 1679.2 147.5 1682.6 150.7 1684.7 152.6 1685.9 153.8 1689.3 156.8 1692.6 159.8 1694.7 161.4 1696 162.3 1699.3 164.6 1702.6 166.6 1704.7 167.5 1706 168 1709.3 169 1712.7 169.7 1714.7 170.1 1716 170.2 1719.4 170.5 1722.7 170.8 1726 171.1 1726.3 171.1 1729.4 171.5 1732.7 172 1736.1 172.7 1738 173.1 1739.4 173.5 1742.8 174.9 1746.1 176.6 1746.3 176.7 1749.4 179.1 1752.8 182.4 1754.7 184.4 1756.1 186.1 1759.5 190.5 1762.8 195.1 1766.1 199.6 1766.3 199.8 1769.5 203.8 1772.8 208 1776.2 212 1778 214.1 1779.5 214.9 1782.9 216.7 1786.2 218.4 1789.5 220 1791.3 220.8 1792.9 221.1 1796.2 221.6 1799.6 222.1 1802.9 222.6 1804.7 222.9 1806.3 223 1809.6 223.2 1812.9 223.5 1816.3 223.8 1819.6 224 1823 224.3 1824.7 224.4 1826.3 224.6 1829.7 225 1833 225.4 1836.3 225.8 1839.7 226.2 1843 226.6 1846.3 227 1846.4 227 1849.7 227.7 1853 228.4 1856.4 229.2 1859.7 230 1863.1 230.7 1866.4 231.5 1869.8 232.2 1871.3 232.6 1873.1 233 1876.4 233.8 1879.8 234.6 1883.1 235.3 1886.5 236.1 1889.8 236.9 1893.2 237.6 1896.5 238.4 1898 238.7 1899.8 239.1 1903.2 239.7 1906.5 240.4 1909.9 241 1913.2 241.6 1914.7 241.8 1916.6 242 1919.9 242.3 1923.2 242.5 1926.6 242.8 1929.9 243.1 1933.3 243.3 1936.6 243.6 1938 243.7 1939.9 243.7 1943.3 243.9 1946.6 244 1950 244.1 1953.3 244.2 1956.7 244.3 1960 244.4" fill="none" stroke="#1c62d8" stroke-width="2.0" stroke-linejoin="round" stroke-linecap="butt"/>
<path d="M1462 242.9 1465.3 242.6 1468.7 242.3 1472 242.1 1475.4 241.8 1478.7 241.5 1482.1 241.2 1485.4 241 1488.7 240.7 1492.1 240.4 1495.4 240.1 1498.8 239.8 1502.1 239.6 1505.4 239.3 1508.8 239 1511.3 238.8 1512.1 238.7 1515.5 238.4 1518.8 238.1 1522.2 237.7 1525.5 237.4 1528.8 237.1 1532.2 236.7 1535.5 236.4 1538.9 236 1542.2 235.7 1545.6 235.3 1548.9 235 1551.3 234.7 1552.2 234.5 1555.6 233.6 1558.9 232.7 1562.3 231.7 1565.6 230.8 1569 229.8 1572.3 228.8 1575.6 227.8 1579 226.8 1582.3 225.8 1583 225.6 1585.7 223.2 1589 220.1 1592.3 217 1595.7 213.8 1599 210.6 1602.4 207.3 1605.7 203.9 1609.1 200.5 1611.3 198.1 1612.4 195.3 1615.7 186.2 1619.1 176.9 1622.4 167.7 1625.8 158.1 1628 151.3 1629.1 147.2 1632.5 134.3 1635.8 120.4 1639.1 106.6 1641.3 98.4 1642.5 94.3 1645.8 82.1 1649.2 70.5 1652.5 60.6 1654.7 55.7 1655.9 53.4 1659.2 47.6 1662.5 43.8 1663 43.4 1665.9 41.9 1668 41.4 1669.2 41.6 1672.6 43.7 1675.9 47.1 1676.3 47.5 1679.2 51.6 1682.6 57.9 1684.7 61.8 1685.9 64 1689.3 70.1 1692.6 75.9 1694.7 79.1 1696 80.9 1699.3 85.6 1702.6 89.5 1704.7 91.3 1706 92.2 1709.3 94.2 1712.7 95.7 1714.7 96.4 1716 96.7 1719.4 97.3 1722.7 97.7 1726 98.3 1726.3 98.4 1729.4 99.2 1732.7 100.2 1736.1 101.5 1738 102.5 1739.4 103.3 1742.8 105.9 1746.1 109.3 1746.3 109.6 1749.4 114.2 1752.8 120.8 1754.7 124.8 1756.1 128.2 1759.5 136.9 1762.8 146 1766.1 154.9 1766.3 155.4 1769.5 163.3 1772.8 171.6 1776.2 179.6 1778 183.9 1779.5 185.4 1782.9 188.9 1786.2 192.2 1789.5 195.4 1791.3 197.1 1792.9 197.6 1796.2 198.6 1799.6 199.7 1802.9 200.6 1804.7 201.1 1806.3 201.4 1809.6 201.9 1812.9 202.4 1816.3 202.9 1819.6 203.4 1823 203.9 1824.7 204.2 1826.3 204.6 1829.7 205.3 1833 206.1 1836.3 206.9 1839.7 207.7 1843 208.5 1846.3 209.3 1846.4 209.3 1849.7 210.7 1853 212.2 1856.4 213.7 1859.7 215.2 1863.1 216.7 1866.4 218.3 1869.8 219.8 1871.3 220.5 1873.1 221.3 1876.4 222.8 1879.8 224.4 1883.1 225.9 1886.5 227.4 1889.8 229 1893.2 230.5 1896.5 232 1898 232.7 1899.8 233.4 1903.2 234.6 1906.5 235.9 1909.9 237.1 1913.2 238.3 1914.7 238.8 1916.6 239.1 1919.9 239.7 1923.2 240.2 1926.6 240.7 1929.9 241.2 1933.3 241.8 1936.6 242.3 1938 242.5 1939.9 242.6 1943.3 242.8 1946.6 243 1950 243.3 1953.3 243.5 1956.7 243.7 1960 243.9" fill="none" stroke="#6d3b3f" stroke-width="2.0" stroke-linejoin="round" stroke-linecap="butt"/>
<path d="M1462 245.5 1465.3 245.6 1468.7 245.6 1472 245.7 1475.4 245.8 1478.7 245.9 1482.1 246 1485.4 246 1488.7 246.1 1492.1 246.2 1495.4 246.3 1498.8 246.4 1502.1 246.4 1505.4 246.5 1508.8 246.6 1511.3 246.7 1512.1 246.7 1515.5 246.8 1518.8 246.9 1522.2 247 1525.5 247.1 1528.8 247.2 1532.2 247.2 1535.5 247.3 1538.9 247.4 1542.2 247.5 1545.6 247.6 1548.9 247.7 1551.3 247.8 1552.2 247.9 1555.6 248.2 1558.9 248.4 1562.3 248.7 1565.6 249 1569 249.2 1572.3 249.5 1575.6 249.8 1579 250.1 1582.3 250.4 1583 250.4 1585.7 251.1 1589 252 1592.3 252.9 1595.7 253.8 1599 254.8 1602.4 255.7 1605.7 256.7 1609.1 257.7 1611.3 258.3 1612.4 259.1 1615.7 261.7 1619.1 264.4 1622.4 267 1625.8 269.8 1628 271.8 1629.1 272.9 1632.5 276.6 1635.8 280.6 1639.1 284.6 1641.3 286.9 1642.5 288.1 1645.8 291.6 1649.2 295 1652.5 297.8 1654.7 299.2 1655.9 299.9 1659.2 301.5 1662.5 302.6 1663 302.7 1665.9 303.2 1668 303.3 1669.2 303.2 1672.6 302.6 1675.9 301.7 1676.3 301.5 1679.2 300.4 1682.6 298.6 1684.7 297.5 1685.9 296.8 1689.3 295.1 1692.6 293.4 1694.7 292.5 1696 292 1699.3 290.6 1702.6 289.5 1704.7 289 1706 288.7 1709.3 288.1 1712.7 287.7 1714.7 287.5 1716 287.4 1719.4 287.3 1722.7 287.1 1726 287 1726.3 286.9 1729.4 286.7 1732.7 286.4 1736.1 286 1738 285.8 1739.4 285.5 1742.8 284.8 1746.1 283.8 1746.3 283.7 1749.4 282.4 1752.8 280.5 1754.7 279.4 1756.1 278.4 1759.5 275.9 1762.8 273.3 1766.1 270.7 1766.3 270.6 1769.5 268.3 1772.8 265.9 1776.2 263.6 1778 262.4 1779.5 262 1782.9 261 1786.2 260 1789.5 259.1 1791.3 258.6 1792.9 258.5 1796.2 258.2 1799.6 257.9 1802.9 257.6 1804.7 257.5 1806.3 257.4 1809.6 257.2 1812.9 257.1 1816.3 256.9 1819.6 256.8 1823 256.7 1824.7 256.6 1826.3 256.5 1829.7 256.3 1833 256 1836.3 255.8 1839.7 255.6 1843 255.4 1846.3 255.1 1846.4 255.1 1849.7 254.7 1853 254.3 1856.4 253.8 1859.7 253.4 1863.1 253 1866.4 252.5 1869.8 252.1 1871.3 251.9 1873.1 251.7 1876.4 251.2 1879.8 250.8 1883.1 250.4 1886.5 249.9 1889.8 249.5 1893.2 249 1896.5 248.6 1898 248.4 1899.8 248.2 1903.2 247.8 1906.5 247.5 1909.9 247.1 1913.2 246.8 1914.7 246.7 1916.6 246.6 1919.9 246.4 1923.2 246.3 1926.6 246.1 1929.9 245.9 1933.3 245.8 1936.6 245.7 1938 245.6 1939.9 245.6 1943.3 245.5 1946.6 245.4 1950 245.4 1953.3 245.3 1956.7 245.2 1960 245.2" fill="none" stroke="#f0641e" stroke-width="2.0" stroke-linejoin="round" stroke-linecap="butt"/>
<path d="M133.3 702.9 136.7 703 140 703.1 143.4 703.2 146.7 703.2 150 703.3 153.4 703.4 156.7 703.5 160.1 703.6 163.4 703.7 166.8 703.8 170.1 703.9 173.4 703.9 176.8 704 180.1 704.1 183.5 704.2 186.7 704.3 186.8 704.3 190.2 704.5 193.5 704.6 196.8 704.8 200.2 705 203.5 705.2 206.9 705.3 210.2 705.5 213.5 705.7 216.9 705.9 220.2 706 223.6 706.2 226.7 706.4 226.9 706.4 230.3 706.8 233.6 707.1 236.9 707.5 240.3 707.8 243.6 708.2 247 708.6 250.3 708.9 253.7 709.3 257 709.7 258.3 709.9 260.3 710.6 263.7 711.8 267 713.1 270.4 714.4 273.7 715.7 277.1 717 280.4 718.4 281.7 718.9 283.7 721 287.1 724.4 290.4 728 293.8 731.6 297.1 735.3 300.4 739.1 301.7 740.5 303.8 745.9 307.1 754.3 310.5 763 313.8 772.5 315 775.9 317.2 783.1 320.5 795.4 323.8 807.2 325 810.7 327.2 817 330.5 825.9 333.3 831.6 333.9 832.5 337.2 837.5 340 839.9 340.6 840.2 343.9 841.2 345 841.3 347.2 840.8 350 839.2 350.6 838.8 353.9 835.1 357.3 830.2 358.3 828.8 360.6 825.7 364 821.1 366.7 817.7 367.3 817 370.6 813.3 374 810.1 375 809.3 377.3 807.8 380.7 805.9 383.3 804.5 384 804.1 387.3 802.1 390.7 800 393.3 798.2 394 797.7 397.4 795 400.7 791.7 401.7 790.5 404.1 787 407.4 780.6 408.3 778.7 410.7 773.2 414.1 764.9 417.4 757.1 418.3 755.1 420.8 751.3 424.1 746.2 427.5 741.3 430 737.7 430.8 737.2 434.1 735.1 437.5 733.1 440.8 731.2 441.7 730.7 444.2 730.1 447.5 729.3 450.9 728.6 454.2 727.8 456.7 727.3 457.5 727.1 460.9 726.6 464.2 726.1 467.6 725.6 470 725.2 470.9 725 474.2 724.2 477.6 723.4 480.9 722.6 484.3 721.8 487.6 721 491 720.2 493.3 719.6 494.3 719.3 497.6 718.4 501 717.5 504.3 716.6 507.7 715.7 511 714.8 514.4 713.9 517.7 713 521 712.1 524.4 711.2 526.7 710.6 527.7 710.4 531.1 709.7 534.4 709.1 537.7 708.5 541.1 707.9 544.4 707.3 547.8 706.7 551.1 706.1 553.3 705.7 554.5 705.6 557.8 705.3 561.1 705.1 564.5 704.8 567.8 704.5 571.2 704.3 574.5 704 577.9 703.7 581.2 703.5 583.3 703.3 584.5 703.3 587.9 703.2 591.2 703.1 594.6 703.1 597.9 703 601.3 702.9 604.6 702.8 607.9 702.7 611.3 702.7 614.6 702.6 618 702.5 621.3 702.4 624.6 702.4 628 702.3 631.3 702.2" fill="none" stroke="#cf9a12" stroke-width="2.0" stroke-linejoin="round" stroke-linecap="butt"/>
<path d="M133.3 702.9 136.7 702.9 140 703 143.4 703.1 146.7 703.2 150 703.2 153.4 703.3 156.7 703.4 160.1 703.5 163.4 703.6 166.8 703.7 170.1 703.7 173.4 703.8 176.8 703.9 180.1 704 183.5 704.1 186.7 704.2 186.8 704.2 190.2 704.3 193.5 704.5 196.8 704.6 200.2 704.8 203.5 704.9 206.9 705.1 210.2 705.3 213.5 705.4 216.9 705.6 220.2 705.8 223.6 705.9 226.7 706.1 226.9 706.1 230.3 706.4 233.6 706.8 236.9 707.1 240.3 707.4 243.6 707.7 247 708.1 250.3 708.4 253.7 708.8 257 709.2 258.3 709.3 260.3 710 263.7 711.1 267 712.3 270.4 713.5 273.7 714.7 277.1 715.9 280.4 717.2 281.7 717.7 283.7 719.6 287.1 722.8 290.4 726.1 293.8 729.4 297.1 732.8 300.4 736.3 301.7 737.6 303.8 742.6 307.1 750.5 310.5 758.5 313.8 767.2 315 770.5 317.2 777.1 320.5 788.4 323.8 799.4 325 802.7 327.2 808.5 330.5 816.7 333.3 822 333.9 822.8 337.2 827.4 340 829.7 340.6 829.9 343.9 830.9 345 831 347.2 830.5 350 829 350.6 828.7 353.9 825.2 357.3 820.7 358.3 819.4 360.6 816.5 364 812.3 366.7 809.1 367.3 808.4 370.6 805 374 802.1 375 801.4 377.3 799.9 380.7 798.2 383.3 796.9 384 796.5 387.3 794.7 390.7 792.8 393.3 791.1 394 790.6 397.4 788.1 400.7 785 401.7 784 404.1 780.7 407.4 774.8 408.3 773 410.7 767.9 414.1 760.3 417.4 753 418.3 751.1 420.8 747.7 424.1 743 427.5 738.4 430 735.1 430.8 734.6 434.1 732.7 437.5 730.8 440.8 729.1 441.7 728.6 444.2 728.1 447.5 727.3 450.9 726.6 454.2 725.9 456.7 725.4 457.5 725.3 460.9 724.8 464.2 724.3 467.6 723.8 470 723.5 470.9 723.3 474.2 722.6 477.6 721.8 480.9 721.1 484.3 720.3 487.6 719.6 491 718.8 493.3 718.3 494.3 718.1 497.6 717.2 501 716.4 504.3 715.5 507.7 714.7 511 713.9 514.4 713 517.7 712.2 521 711.3 524.4 710.5 526.7 709.9 527.7 709.8 531.1 709.2 534.4 708.6 537.7 708 541.1 707.5 544.4 706.9 547.8 706.3 551.1 705.8 553.3 705.4 554.5 705.4 557.8 705.1 561.1 704.8 564.5 704.6 567.8 704.3 571.2 704.1 574.5 703.9 577.9 703.6 581.2 703.4 583.3 703.3 584.5 703.2 587.9 703.1 591.2 703.1 594.6 703 597.9 702.9 601.3 702.8 604.6 702.8 607.9 702.7 611.3 702.6 614.6 702.5 618 702.5 621.3 702.4 624.6 702.3 628 702.3 631.3 702.2" fill="none" stroke="#1fc3c6" stroke-width="2.0" stroke-linejoin="round" stroke-linecap="butt"/>
<path d="M133.3 702.8 136.7 702.8 140 702.9 143.4 702.9 146.7 703 150 703.1 153.4 703.1 156.7 703.2 160.1 703.3 163.4 703.3 166.8 703.4 170.1 703.5 173.4 703.5 176.8 703.6 180.1 703.7 183.5 703.8 186.7 703.8 186.8 703.8 190.2 704 193.5 704.1 196.8 704.2 200.2 704.4 203.5 704.5 206.9 704.6 210.2 704.8 213.5 704.9 216.9 705 220.2 705.2 223.6 705.3 226.7 705.4 226.9 705.5 230.3 705.7 233.6 706 236.9 706.3 240.3 706.5 243.6 706.8 247 707.1 250.3 707.4 253.7 707.7 257 708 258.3 708.1 260.3 708.7 263.7 709.6 267 710.6 270.4 711.6 273.7 712.6 277.1 713.6 280.4 714.7 281.7 715.1 283.7 716.7 287.1 719.3 290.4 722.1 293.8 724.8 297.1 727.7 300.4 730.6 301.7 731.7 303.8 735.8 307.1 742.4 310.5 749.1 313.8 756.3 315 759 317.2 764.5 320.5 774 323.8 783 325 785.8 327.2 790.6 330.5 797.4 333.3 801.9 333.9 802.5 337.2 806.4 340 808.3 340.6 808.5 343.9 809.3 345 809.4 347.2 808.9 350 807.7 350.6 807.4 353.9 804.5 357.3 800.8 358.3 799.7 360.6 797.3 364 793.8 366.7 791.1 367.3 790.6 370.6 787.8 374 785.3 375 784.7 377.3 783.5 380.7 782.1 383.3 781 384 780.7 387.3 779.1 390.7 777.6 393.3 776.1 394 775.7 397.4 773.7 400.7 771.1 401.7 770.2 404.1 767.5 407.4 762.6 408.3 761.1 410.7 756.9 414.1 750.5 417.4 744.5 418.3 742.9 420.8 740 424.1 736.1 427.5 732.3 430 729.5 430.8 729.2 434.1 727.6 437.5 726 440.8 724.5 441.7 724.2 444.2 723.7 447.5 723.1 450.9 722.5 454.2 721.9 456.7 721.5 457.5 721.4 460.9 721 464.2 720.6 467.6 720.2 470 719.9 470.9 719.7 474.2 719.1 477.6 718.5 480.9 717.9 484.3 717.3 487.6 716.7 491 716.1 493.3 715.6 494.3 715.4 497.6 714.7 501 714 504.3 713.3 507.7 712.6 511 711.9 514.4 711.2 517.7 710.5 521 709.8 524.4 709.1 526.7 708.6 527.7 708.5 531.1 708 534.4 707.5 537.7 707.1 541.1 706.6 544.4 706.1 547.8 705.6 551.1 705.2 553.3 704.9 554.5 704.8 557.8 704.6 561.1 704.4 564.5 704.2 567.8 704 571.2 703.8 574.5 703.6 577.9 703.4 581.2 703.2 583.3 703.1 584.5 703.1 587.9 703 591.2 702.9 594.6 702.9 597.9 702.8 601.3 702.7 604.6 702.7 607.9 702.6 611.3 702.6 614.6 702.5 618 702.4 621.3 702.4 624.6 702.3 628 702.3 631.3 702.2" fill="none" stroke="#e8413f" stroke-width="2.0" stroke-linejoin="round" stroke-linecap="butt"/>
<path d="M133.3 702.7 136.7 702.7 140 702.8 143.4 702.8 146.7 702.9 150 703 153.4 703 156.7 703.1 160.1 703.1 163.4 703.2 166.8 703.2 170.1 703.3 173.4 703.4 176.8 703.4 180.1 703.5 183.5 703.5 186.7 703.6 186.8 703.6 190.2 703.7 193.5 703.8 196.8 703.9 200.2 704.1 203.5 704.2 206.9 704.3 210.2 704.4 213.5 704.5 216.9 704.6 220.2 704.8 223.6 704.9 226.7 705 226.9 705 230.3 705.2 233.6 705.5 236.9 705.7 240.3 705.9 243.6 706.2 247 706.4 250.3 706.7 253.7 706.9 257 707.2 258.3 707.3 260.3 707.8 263.7 708.6 267 709.4 270.4 710.3 273.7 711.2 277.1 712.1 280.4 713 281.7 713.3 283.7 714.7 287.1 717 290.4 719.3 293.8 721.7 297.1 724.2 300.4 726.7 301.7 727.7 303.8 731.2 307.1 736.9 310.5 742.6 313.8 748.9 315 751.2 317.2 756 320.5 764.1 323.8 772 325 774.3 327.2 778.5 330.5 784.4 333.3 788.2 333.9 788.8 337.2 792.1 340 793.8 340.6 793.9 343.9 794.6 345 794.7 347.2 794.3 350 793.3 350.6 793 353.9 790.5 357.3 787.3 358.3 786.4 360.6 784.3 364 781.2 366.7 779 367.3 778.5 370.6 776.1 374 774 375 773.4 377.3 772.4 380.7 771.2 383.3 770.2 384 769.9 387.3 768.6 390.7 767.3 393.3 766 394 765.7 397.4 763.9 400.7 761.7 401.7 760.9 404.1 758.6 407.4 754.3 408.3 753.1 410.7 749.4 414.1 743.9 417.4 738.7 418.3 737.4 420.8 734.9 424.1 731.5 427.5 728.2 430 725.8 430.8 725.5 434.1 724.1 437.5 722.8 440.8 721.5 441.7 721.2 444.2 720.8 447.5 720.2 450.9 719.7 454.2 719.2 456.7 718.9 457.5 718.8 460.9 718.4 464.2 718.1 467.6 717.7 470 717.5 470.9 717.3 474.2 716.8 477.6 716.3 480.9 715.8 484.3 715.2 487.6 714.7 491 714.2 493.3 713.8 494.3 713.6 497.6 713 501 712.4 504.3 711.8 507.7 711.2 511 710.6 514.4 710 517.7 709.4 521 708.8 524.4 708.2 526.7 707.8 527.7 707.6 531.1 707.2 534.4 706.8 537.7 706.4 541.1 706 544.4 705.6 547.8 705.2 551.1 704.8 553.3 704.5 554.5 704.5 557.8 704.3 561.1 704.1 564.5 703.9 567.8 703.7 571.2 703.6 574.5 703.4 577.9 703.2 581.2 703.1 583.3 703 584.5 702.9 587.9 702.9 591.2 702.8 594.6 702.8 597.9 702.7 601.3 702.7 604.6 702.6 607.9 702.6 611.3 702.5 614.6 702.5 618 702.4 621.3 702.4 624.6 702.3 628 702.3 631.3 702.2" fill="none" stroke="#4b4b4b" stroke-width="2.0" stroke-linejoin="round" stroke-linecap="butt"/>
<path d="M133.3 702.6 136.7 702.6 140 702.7 143.4 702.7 146.7 702.7 150 702.8 153.4 702.8 156.7 702.9 160.1 702.9 163.4 703 166.8 703 170.1 703 173.4 703.1 176.8 703.1 180.1 703.2 183.5 703.2 186.7 703.3 186.8 703.3 190.2 703.4 193.5 703.5 196.8 703.5 200.2 703.6 203.5 703.7 206.9 703.8 210.2 703.9 213.5 704 216.9 704.1 220.2 704.2 223.6 704.3 226.7 704.3 226.9 704.3 230.3 704.5 233.6 704.7 236.9 704.9 240.3 705.1 243.6 705.2 247 705.4 250.3 705.6 253.7 705.8 257 706 258.3 706.1 260.3 706.5 263.7 707.1 267 707.7 270.4 708.4 273.7 709 277.1 709.7 280.4 710.4 281.7 710.7 283.7 711.7 287.1 713.5 290.4 715.3 293.8 717.1 297.1 719 300.4 720.9 301.7 721.6 303.8 724.4 307.1 728.6 310.5 733.1 313.8 737.8 315 739.6 317.2 743.2 320.5 749.5 323.8 755.4 325 757.2 327.2 760.4 330.5 764.9 333.3 767.8 333.9 768.3 337.2 770.8 340 772.1 340.6 772.2 343.9 772.7 345 772.8 347.2 772.5 350 771.7 350.6 771.5 353.9 769.6 357.3 767.1 358.3 766.4 360.6 764.9 364 762.5 366.7 760.8 367.3 760.4 370.6 758.5 374 756.9 375 756.5 377.3 755.8 380.7 754.8 383.3 754.1 384 753.9 387.3 752.9 390.7 751.8 393.3 750.9 394 750.6 397.4 749.3 400.7 747.6 401.7 747 404.1 745.2 407.4 742 408.3 741 410.7 738.2 414.1 734 417.4 730.1 418.3 729 420.8 727.1 424.1 724.5 427.5 722 430 720.2 430.8 720 434.1 718.9 437.5 717.9 440.8 716.9 441.7 716.7 444.2 716.4 447.5 716 450.9 715.6 454.2 715.2 456.7 714.9 457.5 714.8 460.9 714.6 464.2 714.3 467.6 714.1 470 713.9 470.9 713.8 474.2 713.4 477.6 713 480.9 712.6 484.3 712.1 487.6 711.7 491 711.3 493.3 711 494.3 710.9 497.6 710.4 501 710 504.3 709.5 507.7 709.1 511 708.6 514.4 708.1 517.7 707.7 521 707.2 524.4 706.8 526.7 706.5 527.7 706.4 531.1 706 534.4 705.7 537.7 705.4 541.1 705.1 544.4 704.8 547.8 704.5 551.1 704.2 553.3 704 554.5 703.9 557.8 703.8 561.1 703.7 564.5 703.5 567.8 703.4 571.2 703.2 574.5 703.1 577.9 703 581.2 702.9 583.3 702.8 584.5 702.8 587.9 702.7 591.2 702.7 594.6 702.6 597.9 702.6 601.3 702.6 604.6 702.5 607.9 702.5 611.3 702.4 614.6 702.4 618 702.4 621.3 702.3 624.6 702.3 628 702.3 631.3 702.2" fill="none" stroke="#b26ade" stroke-width="2.0" stroke-linejoin="round" stroke-linecap="butt"/>
<path d="M133.3 702.5 136.7 702.6 140 702.6 143.4 702.7 146.7 702.7 150 702.7 153.4 702.8 156.7 702.8 160.1 702.8 163.4 702.9 166.8 702.9 170.1 703 173.4 703 176.8 703.1 180.1 703.1 183.5 703.1 186.7 703.2 186.8 703.2 190.2 703.3 193.5 703.3 196.8 703.4 200.2 703.5 203.5 703.6 206.9 703.6 210.2 703.7 213.5 703.8 216.9 703.9 220.2 704 223.6 704.1 226.7 704.1 226.9 704.1 230.3 704.3 233.6 704.5 236.9 704.6 240.3 704.8 243.6 705 247 705.1 250.3 705.3 253.7 705.5 257 705.7 258.3 705.7 260.3 706.1 263.7 706.6 267 707.2 270.4 707.8 273.7 708.4 277.1 709 280.4 709.6 281.7 709.9 283.7 710.8 287.1 712.4 290.4 714 293.8 715.7 297.1 717.4 300.4 719.1 301.7 719.8 303.8 722.3 307.1 726.2 310.5 730.1 313.8 734.5 315 736.1 317.2 739.4 320.5 745 323.8 750.4 325 752 327.2 754.9 330.5 759 333.3 761.6 333.9 762 337.2 764.3 340 765.5 340.6 765.6 343.9 766.1 345 766.1 347.2 765.8 350 765.1 350.6 764.9 353.9 763.2 357.3 761 358.3 760.3 360.6 758.9 364 756.8 366.7 755.2 367.3 754.9 370.6 753.2 374 751.8 375 751.4 377.3 750.7 380.7 749.9 383.3 749.2 384 749 387.3 748.1 390.7 747.1 393.3 746.3 394 746 397.4 744.8 400.7 743.3 401.7 742.8 404.1 741.1 407.4 738.2 408.3 737.3 410.7 734.8 414.1 731 417.4 727.4 418.3 726.5 420.8 724.8 424.1 722.4 427.5 720.2 430 718.5 430.8 718.3 434.1 717.3 437.5 716.4 440.8 715.5 441.7 715.3 444.2 715 447.5 714.7 450.9 714.3 454.2 714 456.7 713.7 457.5 713.7 460.9 713.4 464.2 713.2 467.6 712.9 470 712.8 470.9 712.7 474.2 712.3 477.6 711.9 480.9 711.6 484.3 711.2 487.6 710.8 491 710.5 493.3 710.2 494.3 710.1 497.6 709.7 501 709.3 504.3 708.8 507.7 708.4 511 708 514.4 707.6 517.7 707.2 521 706.7 524.4 706.3 526.7 706.1 527.7 706 531.1 705.7 534.4 705.4 537.7 705.1 541.1 704.8 544.4 704.5 547.8 704.3 551.1 704 553.3 703.8 554.5 703.8 557.8 703.6 561.1 703.5 564.5 703.4 567.8 703.3 571.2 703.2 574.5 703 577.9 702.9 581.2 702.8 583.3 702.7 584.5 702.7 587.9 702.7 591.2 702.6 594.6 702.6 597.9 702.6 601.3 702.5 604.6 702.5 607.9 702.5 611.3 702.4 614.6 702.4 618 702.3 621.3 702.3 624.6 702.3 628 702.3 631.3 702.2" fill="none" stroke="#8a8a1c" stroke-width="2.0" stroke-linejoin="round" stroke-linecap="butt"/>
<path d="M133.3 702 136.7 702 140 701.9 143.4 701.9 146.7 701.9 150 701.9 153.4 701.8 156.7 701.8 160.1 701.8 163.4 701.8 166.8 701.7 170.1 701.7 173.4 701.7 176.8 701.6 180.1 701.6 183.5 701.6 186.7 701.6 186.8 701.6 190.2 701.5 193.5 701.4 196.8 701.4 200.2 701.3 203.5 701.3 206.9 701.2 210.2 701.2 213.5 701.1 216.9 701.1 220.2 701 223.6 700.9 226.7 700.9 226.9 700.9 230.3 700.8 233.6 700.7 236.9 700.5 240.3 700.4 243.6 700.3 247 700.2 250.3 700.1 253.7 700 257 699.8 258.3 699.8 260.3 699.6 263.7 699.2 267 698.8 270.4 698.4 273.7 697.9 277.1 697.5 280.4 697.1 281.7 696.9 283.7 696.2 287.1 695.1 290.4 694 293.8 692.9 297.1 691.7 300.4 690.5 301.7 690 303.8 688.3 307.1 685.6 310.5 682.9 313.8 679.9 315 678.8 317.2 676.5 320.5 672.6 323.8 668.8 325 667.7 327.2 665.7 330.5 662.9 333.3 661 333.9 660.8 337.2 659.2 340 658.4 340.6 658.3 343.9 658 345 657.9 347.2 658.1 350 658.6 350.6 658.7 353.9 659.9 357.3 661.5 358.3 661.9 360.6 662.9 364 664.4 366.7 665.5 367.3 665.7 370.6 666.9 374 667.9 375 668.1 377.3 668.6 380.7 669.2 383.3 669.7 384 669.8 387.3 670.4 390.7 671.1 393.3 671.7 394 671.8 397.4 672.7 400.7 673.7 401.7 674.1 404.1 675.2 407.4 677.3 408.3 677.9 410.7 679.6 414.1 682.3 417.4 684.7 418.3 685.4 420.8 686.6 424.1 688.2 427.5 689.8 430 690.9 430.8 691.1 434.1 691.7 437.5 692.4 440.8 693 441.7 693.1 444.2 693.3 447.5 693.6 450.9 693.8 454.2 694.1 456.7 694.3 457.5 694.3 460.9 694.5 464.2 694.6 467.6 694.8 470 694.9 470.9 695 474.2 695.2 477.6 695.5 480.9 695.7 484.3 696 487.6 696.2 491 696.5 493.3 696.7 494.3 696.8 497.6 697.1 501 697.3 504.3 697.6 507.7 697.9 511 698.2 514.4 698.5 517.7 698.8 521 699.1 524.4 699.4 526.7 699.6 527.7 699.6 531.1 699.8 534.4 700 537.7 700.2 541.1 700.4 544.4 700.6 547.8 700.8 551.1 701 553.3 701.1 554.5 701.1 557.8 701.2 561.1 701.3 564.5 701.4 567.8 701.5 571.2 701.6 574.5 701.7 577.9 701.7 581.2 701.8 583.3 701.9 584.5 701.9 587.9 701.9 591.2 701.9 594.6 702 597.9 702 601.3 702 604.6 702 607.9 702.1 611.3 702.1 614.6 702.1 618 702.1 621.3 702.2 624.6 702.2 628 702.2 631.3 702.2" fill="none" stroke="#2e9d62" stroke-width="2.0" stroke-linejoin="round" stroke-linecap="butt"/>
<path d="M133.3 701.7 136.7 701.7 140 701.6 143.4 701.6 146.7 701.5 150 701.5 153.4 701.4 156.7 701.3 160.1 701.3 163.4 701.2 166.8 701.1 170.1 701.1 173.4 701 176.8 701 180.1 700.9 183.5 700.8 186.7 700.8 186.8 700.8 190.2 700.7 193.5 700.5 196.8 700.4 200.2 700.3 203.5 700.2 206.9 700.1 210.2 699.9 213.5 699.8 216.9 699.7 220.2 699.6 223.6 699.4 226.7 699.3 226.9 699.3 230.3 699.1 233.6 698.8 236.9 698.6 240.3 698.3 243.6 698.1 247 697.8 250.3 697.6 253.7 697.3 257 697 258.3 696.9 260.3 696.4 263.7 695.6 267 694.7 270.4 693.8 273.7 692.9 277.1 692 280.4 691 281.7 690.6 283.7 689.2 287.1 686.8 290.4 684.4 293.8 681.9 297.1 679.3 300.4 676.7 301.7 675.7 303.8 672 307.1 666.1 310.5 660.1 313.8 653.5 315 651.1 317.2 646.1 320.5 637.6 323.8 629.5 325 627 327.2 622.6 330.5 616.5 333.3 612.5 333.9 611.9 337.2 608.4 340 606.7 340.6 606.6 343.9 605.8 345 605.8 347.2 606.2 350 607.2 350.6 607.5 353.9 610.1 357.3 613.5 358.3 614.5 360.6 616.6 364 619.8 366.7 622.2 367.3 622.7 370.6 625.2 374 627.4 375 628 377.3 629 380.7 630.3 383.3 631.3 384 631.6 387.3 633 390.7 634.4 393.3 635.7 394 636 397.4 637.9 400.7 640.2 401.7 641 404.1 643.5 407.4 647.9 408.3 649.2 410.7 653 414.1 658.7 417.4 664.2 418.3 665.6 420.8 668.2 424.1 671.7 427.5 675.1 430 677.6 430.8 678 434.1 679.4 437.5 680.8 440.8 682.1 441.7 682.4 444.2 682.9 447.5 683.4 450.9 684 454.2 684.5 456.7 684.9 457.5 685 460.9 685.3 464.2 685.7 467.6 686 470 686.3 470.9 686.5 474.2 687 477.6 687.5 480.9 688.1 484.3 688.6 487.6 689.2 491 689.8 493.3 690.2 494.3 690.3 497.6 691 501 691.6 504.3 692.2 507.7 692.9 511 693.5 514.4 694.1 517.7 694.8 521 695.4 524.4 696 526.7 696.4 527.7 696.6 531.1 697 534.4 697.4 537.7 697.9 541.1 698.3 544.4 698.7 547.8 699.1 551.1 699.5 553.3 699.8 554.5 699.9 557.8 700.1 561.1 700.3 564.5 700.4 567.8 700.6 571.2 700.8 574.5 701 577.9 701.2 581.2 701.3 583.3 701.4 584.5 701.5 587.9 701.5 591.2 701.6 594.6 701.6 597.9 701.7 601.3 701.8 604.6 701.8 607.9 701.9 611.3 701.9 614.6 702 618 702 621.3 702.1 624.6 702.1 628 702.2 631.3 702.2" fill="none" stroke="#1c62d8" stroke-width="2.0" stroke-linejoin="round" stroke-linecap="butt"/>
<path d="M133.3 701.2 136.7 701.1 140 701 143.4 700.9 146.7 700.8 150 700.6 153.4 700.5 156.7 700.4 160.1 700.3 163.4 700.1 166.8 700 170.1 699.9 173.4 699.8 176.8 699.6 180.1 699.5 183.5 699.4 186.7 699.2 186.8 699.2 190.2 699 193.5 698.8 196.8 698.5 200.2 698.3 203.5 698 206.9 697.8 210.2 697.5 213.5 697.3 216.9 697 220.2 696.8 223.6 696.5 226.7 696.3 226.9 696.2 230.3 695.7 233.6 695.2 236.9 694.7 240.3 694.2 243.6 693.7 247 693.2 250.3 692.6 253.7 692.1 257 691.5 258.3 691.3 260.3 690.3 263.7 688.5 267 686.7 270.4 684.9 273.7 683 277.1 681.1 280.4 679.2 281.7 678.4 283.7 675.4 287.1 670.5 290.4 665.5 293.8 660.3 297.1 655 300.4 649.6 301.7 647.6 303.8 639.9 307.1 627.9 310.5 615.5 313.8 602 315 597 317.2 586.8 320.5 569.3 323.8 552.5 325 547.4 327.2 538.4 330.5 525.8 333.3 517.6 333.9 516.4 337.2 509.2 340 505.7 340.6 505.4 343.9 503.9 345 503.7 347.2 504.5 350 506.7 350.6 507.3 353.9 512.6 357.3 519.5 358.3 521.6 360.6 526 364 532.6 366.7 537.5 367.3 538.5 370.6 543.7 374 548.2 375 549.4 377.3 551.6 380.7 554.2 383.3 556.3 384 556.9 387.3 559.7 390.7 562.6 393.3 565.3 394 566 397.4 569.9 400.7 574.6 401.7 576.2 404.1 581.3 407.4 590.4 408.3 593.1 410.7 600.9 414.1 612.7 417.4 623.9 418.3 626.8 420.8 632.2 424.1 639.4 427.5 646.4 430 651.6 430.8 652.3 434.1 655.3 437.5 658.1 440.8 660.9 441.7 661.5 444.2 662.4 447.5 663.5 450.9 664.6 454.2 665.7 456.7 666.5 457.5 666.7 460.9 667.4 464.2 668.2 467.6 668.9 470 669.5 470.9 669.8 474.2 670.9 477.6 672 480.9 673.1 484.3 674.3 487.6 675.4 491 676.6 493.3 677.4 494.3 677.8 497.6 679.1 501 680.4 504.3 681.7 507.7 683 511 684.3 514.4 685.6 517.7 686.9 521 688.2 524.4 689.4 526.7 690.3 527.7 690.6 531.1 691.5 534.4 692.4 537.7 693.3 541.1 694.1 544.4 695 547.8 695.9 551.1 696.7 553.3 697.3 554.5 697.4 557.8 697.8 561.1 698.2 564.5 698.6 567.8 698.9 571.2 699.3 574.5 699.7 577.9 700.1 581.2 700.4 583.3 700.6 584.5 700.7 587.9 700.8 591.2 700.9 594.6 701 597.9 701.2 601.3 701.3 604.6 701.4 607.9 701.5 611.3 701.6 614.6 701.7 618 701.8 621.3 701.9 624.6 702 628 702.1 631.3 702.2" fill="none" stroke="#6d3b3f" stroke-width="2.0" stroke-linejoin="round" stroke-linecap="butt"/>
<path d="M133.3 702.5 136.7 702.5 140 702.5 143.4 702.6 146.7 702.6 150 702.6 153.4 702.7 156.7 702.7 160.1 702.7 163.4 702.7 166.8 702.8 170.1 702.8 173.4 702.8 176.8 702.9 180.1 702.9 183.5 702.9 186.7 703 186.8 703 190.2 703 193.5 703.1 196.8 703.2 200.2 703.2 203.5 703.3 206.9 703.4 210.2 703.4 213.5 703.5 216.9 703.5 220.2 703.6 223.6 703.7 226.7 703.7 226.9 703.7 230.3 703.9 233.6 704 236.9 704.1 240.3 704.3 243.6 704.4 247 704.5 250.3 704.7 253.7 704.8 257 704.9 258.3 705 260.3 705.3 263.7 705.7 267 706.2 270.4 706.6 273.7 707.1 277.1 707.6 280.4 708.1 281.7 708.3 283.7 709.1 287.1 710.3 290.4 711.6 293.8 712.9 297.1 714.2 300.4 715.6 301.7 716.1 303.8 718.1 307.1 721.2 310.5 724.3 313.8 727.8 315 729 317.2 731.6 320.5 736.1 323.8 740.4 325 741.7 327.2 744 330.5 747.2 333.3 749.3 333.9 749.6 337.2 751.4 340 752.3 340.6 752.4 343.9 752.8 345 752.8 347.2 752.6 350 752 350.6 751.9 353.9 750.5 357.3 748.8 358.3 748.3 360.6 747.1 364 745.5 366.7 744.2 367.3 743.9 370.6 742.6 374 741.5 375 741.2 377.3 740.6 380.7 739.9 383.3 739.4 384 739.3 387.3 738.5 390.7 737.8 393.3 737.1 394 736.9 397.4 736 400.7 734.7 401.7 734.3 404.1 733 407.4 730.7 408.3 730 410.7 728 414.1 725 417.4 722.2 418.3 721.4 420.8 720.1 424.1 718.2 427.5 716.4 430 715.1 430.8 714.9 434.1 714.2 437.5 713.5 440.8 712.8 441.7 712.6 444.2 712.4 447.5 712.1 450.9 711.8 454.2 711.5 456.7 711.3 457.5 711.3 460.9 711.1 464.2 710.9 467.6 710.7 470 710.6 470.9 710.5 474.2 710.2 477.6 709.9 480.9 709.6 484.3 709.3 487.6 709 491 708.8 493.3 708.5 494.3 708.4 497.6 708.1 501 707.8 504.3 707.5 507.7 707.1 511 706.8 514.4 706.5 517.7 706.1 521 705.8 524.4 705.5 526.7 705.3 527.7 705.2 531.1 705 534.4 704.7 537.7 704.5 541.1 704.3 544.4 704.1 547.8 703.8 551.1 703.6 553.3 703.5 554.5 703.5 557.8 703.3 561.1 703.2 564.5 703.2 567.8 703.1 571.2 703 574.5 702.9 577.9 702.8 581.2 702.7 583.3 702.6 584.5 702.6 587.9 702.6 591.2 702.6 594.6 702.5 597.9 702.5 601.3 702.5 604.6 702.4 607.9 702.4 611.3 702.4 614.6 702.3 618 702.3 621.3 702.3 624.6 702.3 628 702.2 631.3 702.2" fill="none" stroke="#f0641e" stroke-width="2.0" stroke-linejoin="round" stroke-linecap="butt"/>
<path d="M798 651.8 801.3 651.9 804.7 652.1 808 652.2 811.4 652.4 814.7 652.5 818.1 652.6 821.4 652.8 824.8 652.9 828.1 653.1 831.4 653.2 834.8 653.4 838.1 653.5 841.5 653.7 844.8 653.8 848.2 654 851.5 654.1 854.9 654.3 858.2 654.5 861.5 654.6 864.9 654.8 868.2 654.9 869 655 871.6 655.2 874.9 655.4 878.3 655.7 881.6 656 885 656.2 888.3 656.5 891.6 656.8 895 657 898.3 657.3 901.7 657.6 905 657.9 908.4 658.2 911.7 658.5 914 658.7 915.1 659 918.4 660.1 921.7 661.1 925.1 662.2 928.4 663.3 931.8 664.5 935.1 665.6 938.5 666.8 941.8 667.9 945.2 669.1 948.5 670.3 951.8 671.6 952.3 671.7 955.2 674.5 958.5 677.7 961.9 681 965.2 684.4 968.6 687.8 971.9 691.3 975.3 694.8 978.6 698.4 980.7 700.6 981.9 703.4 985.3 710.9 988.6 718.4 992 726 995.3 734 997.3 738.9 998.7 742.4 1002 751.5 1005.4 761 1008.7 770.7 1012 780 1015.4 788.6 1015.7 789.2 1018.7 796.5 1022.1 804.2 1025.4 811.2 1028.8 816.8 1029 817.2 1032.1 821.4 1035.5 825.5 1038.8 828.8 1042.1 831.1 1042.3 831.2 1045.5 832.6 1048.8 834 1052.2 835.1 1055.5 835.7 1057.3 835.8 1058.9 835.7 1062.2 835.1 1065.6 834.2 1068.9 833 1069 833 1072.3 831.8 1075.6 830.1 1078.9 828.1 1082.3 825.9 1084 824.6 1085.6 823.3 1089 820.3 1092.3 816.6 1095.7 812.5 1099 808 1102.3 803.2 1102.4 803.2 1105.7 797.6 1109 791 1112.3 783.6 1112.4 783.5 1115.7 774.5 1119.1 764.3 1120.7 759.4 1122.4 753.9 1125.8 743.1 1129 733.3 1129.1 733 1132.5 724.8 1135.8 717.1 1139 710 1139.1 709.8 1142.5 705.9 1145.8 702.1 1149.2 698.5 1150.7 696.9 1152.5 696.3 1155.9 695.2 1159.2 694.2 1162.6 693.2 1165.7 692.3 1165.9 692.2 1169.2 691.6 1172.6 690.9 1175.9 690.3 1179.3 689.7 1182.6 689.1 1186 688.5 1189.3 687.9 1192.7 687.2 1195.7 686.7 1196 686.6 1199.3 685.5 1202.7 684.5 1206 683.5 1209.4 682.4 1212.7 681.3 1216.1 680.3 1219.4 679.2 1222.3 678.3 1222.8 678.1 1226.1 676.8 1229.4 675.6 1232.8 674.3 1236.1 673 1239.5 671.7 1242.8 670.4 1246.2 669.1 1249 668 1249.5 667.8 1252.9 666.5 1256.2 665.1 1259.5 663.7 1262.9 662.4 1266.2 661 1269.6 659.7 1272.3 658.7 1272.9 658.6 1276.3 658 1279.6 657.5 1283 657 1286.3 656.4 1289.6 655.9 1293 655.4 1296.3 655" fill="none" stroke="#2e9d62" stroke-width="2.0" stroke-linejoin="round" stroke-linecap="butt"/>
<path d="M798 651.1 801.3 651.2 804.7 651.3 808 651.4 811.4 651.5 814.7 651.6 818.1 651.7 821.4 651.8 824.8 651.9 828.1 652 831.4 652.1 834.8 652.2 838.1 652.3 841.5 652.4 844.8 652.5 848.2 652.7 851.5 652.8 854.9 652.9 858.2 653 861.5 653.1 864.9 653.2 868.2 653.3 869 653.3 871.6 653.5 874.9 653.7 878.3 653.9 881.6 654.1 885 654.2 888.3 654.4 891.6 654.6 895 654.8 898.3 655 901.7 655.2 905 655.4 908.4 655.6 911.7 655.8 914 656 915.1 656.2 918.4 657 921.7 657.7 925.1 658.5 928.4 659.3 931.8 660.1 935.1 660.9 938.5 661.7 941.8 662.6 945.2 663.4 948.5 664.3 951.8 665.1 952.3 665.3 955.2 667.2 958.5 669.5 961.9 671.9 965.2 674.2 968.6 676.7 971.9 679.2 975.3 681.7 978.6 684.2 980.7 685.8 981.9 687.8 985.3 693.1 988.6 698.4 992 703.8 995.3 709.5 997.3 712.9 998.7 715.4 1002 721.9 1005.4 728.7 1008.7 735.5 1012 742.2 1015.4 748.2 1015.7 748.7 1018.7 753.9 1022.1 759.4 1025.4 764.3 1028.8 768.3 1029 768.5 1032.1 771.5 1035.5 774.4 1038.8 776.8 1042.1 778.4 1042.3 778.5 1045.5 779.5 1048.8 780.5 1052.2 781.3 1055.5 781.7 1057.3 781.8 1058.9 781.7 1062.2 781.3 1065.6 780.6 1068.9 779.8 1069 779.8 1072.3 778.9 1075.6 777.7 1078.9 776.3 1082.3 774.7 1084 773.8 1085.6 772.9 1089 770.7 1092.3 768.2 1095.7 765.3 1099 762.1 1102.3 758.6 1102.4 758.6 1105.7 754.6 1109 749.9 1112.3 744.7 1112.4 744.6 1115.7 738.2 1119.1 731 1120.7 727.5 1122.4 723.6 1125.8 715.9 1129 709 1129.1 708.8 1132.5 703 1135.8 697.5 1139 692.4 1139.1 692.3 1142.5 689.5 1145.8 686.8 1149.2 684.2 1150.7 683.1 1152.5 682.7 1155.9 681.9 1159.2 681.2 1162.6 680.5 1165.7 679.8 1165.9 679.8 1169.2 679.3 1172.6 678.9 1175.9 678.5 1179.3 678 1182.6 677.6 1186 677.1 1189.3 676.7 1192.7 676.3 1195.7 675.9 1196 675.8 1199.3 675.1 1202.7 674.3 1206 673.6 1209.4 672.8 1212.7 672.1 1216.1 671.3 1219.4 670.6 1222.3 669.9 1222.8 669.8 1226.1 668.9 1229.4 668 1232.8 667.1 1236.1 666.1 1239.5 665.2 1242.8 664.3 1246.2 663.4 1249 662.6 1249.5 662.5 1252.9 661.5 1256.2 660.5 1259.5 659.6 1262.9 658.6 1266.2 657.7 1269.6 656.7 1272.3 656 1272.9 655.9 1276.3 655.5 1279.6 655.1 1283 654.8 1286.3 654.4 1289.6 654 1293 653.7 1296.3 653.3" fill="none" stroke="#cf9a12" stroke-width="2.0" stroke-linejoin="round" stroke-linecap="butt"/>
<path d="M798 650.8 801.3 650.9 804.7 650.9 808 651 811.4 651.1 814.7 651.2 818.1 651.3 821.4 651.4 824.8 651.5 828.1 651.5 831.4 651.6 834.8 651.7 838.1 651.8 841.5 651.9 844.8 652 848.2 652.1 851.5 652.2 854.9 652.2 858.2 652.3 861.5 652.4 864.9 652.5 868.2 652.6 869 652.6 871.6 652.8 874.9 652.9 878.3 653.1 881.6 653.2 885 653.4 888.3 653.5 891.6 653.7 895 653.8 898.3 654 901.7 654.2 905 654.3 908.4 654.5 911.7 654.7 914 654.8 915.1 655 918.4 655.6 921.7 656.2 925.1 656.9 928.4 657.5 931.8 658.2 935.1 658.8 938.5 659.5 941.8 660.2 945.2 660.9 948.5 661.6 951.8 662.3 952.3 662.4 955.2 664 958.5 665.9 961.9 667.8 965.2 669.8 968.6 671.8 971.9 673.8 975.3 675.9 978.6 678 980.7 679.3 981.9 680.9 985.3 685.3 988.6 689.6 992 694.1 995.3 698.7 997.3 701.6 998.7 703.6 1002 708.9 1005.4 714.5 1008.7 720.1 1012 725.6 1015.4 730.6 1015.7 730.9 1018.7 735.2 1022.1 739.7 1025.4 743.8 1028.8 747.1 1029 747.2 1032.1 749.7 1035.5 752.1 1038.8 754 1042.1 755.4 1042.3 755.4 1045.5 756.3 1048.8 757.1 1052.2 757.7 1055.5 758.1 1057.3 758.1 1058.9 758.1 1062.2 757.7 1065.6 757.2 1068.9 756.5 1069 756.5 1072.3 755.8 1075.6 754.8 1078.9 753.6 1082.3 752.3 1084 751.6 1085.6 750.8 1089 749 1092.3 746.9 1095.7 744.5 1099 741.9 1102.3 739.1 1102.4 739.1 1105.7 735.8 1109 732 1112.3 727.7 1112.4 727.6 1115.7 722.3 1119.1 716.4 1120.7 713.5 1122.4 710.3 1125.8 704 1129 698.3 1129.1 698.2 1132.5 693.4 1135.8 688.9 1139 684.7 1139.1 684.6 1142.5 682.3 1145.8 680.1 1149.2 678 1150.7 677.1 1152.5 676.7 1155.9 676.1 1159.2 675.5 1162.6 674.9 1165.7 674.4 1165.9 674.4 1169.2 674 1172.6 673.6 1175.9 673.3 1179.3 672.9 1182.6 672.5 1186 672.2 1189.3 671.8 1192.7 671.5 1195.7 671.1 1196 671.1 1199.3 670.5 1202.7 669.9 1206 669.3 1209.4 668.6 1212.7 668 1216.1 667.4 1219.4 666.8 1222.3 666.2 1222.8 666.1 1226.1 665.4 1229.4 664.6 1232.8 663.9 1236.1 663.1 1239.5 662.4 1242.8 661.6 1246.2 660.9 1249 660.2 1249.5 660.1 1252.9 659.3 1256.2 658.5 1259.5 657.7 1262.9 657 1266.2 656.2 1269.6 655.4 1272.3 654.8 1272.9 654.8 1276.3 654.4 1279.6 654.1 1283 653.8 1286.3 653.5 1289.6 653.2 1293 652.9 1296.3 652.6" fill="none" stroke="#1fc3c6" stroke-width="2.0" stroke-linejoin="round" stroke-linecap="butt"/>
<path d="M798 650.5 801.3 650.5 804.7 650.6 808 650.6 811.4 650.7 814.7 650.8 818.1 650.8 821.4 650.9 824.8 651 828.1 651 831.4 651.1 834.8 651.2 838.1 651.2 841.5 651.3 844.8 651.4 848.2 651.4 851.5 651.5 854.9 651.6 858.2 651.7 861.5 651.7 864.9 651.8 868.2 651.9 869 651.9 871.6 652 874.9 652.1 878.3 652.2 881.6 652.3 885 652.5 888.3 652.6 891.6 652.7 895 652.8 898.3 652.9 901.7 653.1 905 653.2 908.4 653.3 911.7 653.5 914 653.6 915.1 653.7 918.4 654.2 921.7 654.7 925.1 655.1 928.4 655.6 931.8 656.1 935.1 656.7 938.5 657.2 941.8 657.7 945.2 658.2 948.5 658.8 951.8 659.3 952.3 659.4 955.2 660.6 958.5 662.1 961.9 663.6 965.2 665.1 968.6 666.6 971.9 668.2 975.3 669.8 978.6 671.4 980.7 672.4 981.9 673.7 985.3 677 988.6 680.4 992 683.8 995.3 687.4 997.3 689.6 998.7 691.1 1002 695.2 1005.4 699.5 1008.7 703.9 1012 708.1 1015.4 711.9 1015.7 712.2 1018.7 715.5 1022.1 718.9 1025.4 722.1 1028.8 724.6 1029 724.7 1032.1 726.6 1035.5 728.5 1038.8 729.9 1042.1 731 1042.3 731 1045.5 731.7 1048.8 732.3 1052.2 732.8 1055.5 733.1 1057.3 733.1 1058.9 733.1 1062.2 732.8 1065.6 732.4 1068.9 731.9 1069 731.9 1072.3 731.3 1075.6 730.5 1078.9 729.7 1082.3 728.6 1084 728.1 1085.6 727.5 1089 726.1 1092.3 724.5 1095.7 722.7 1099 720.6 1102.3 718.5 1102.4 718.4 1105.7 715.9 1109 713 1112.3 709.7 1112.4 709.6 1115.7 705.6 1119.1 701 1120.7 698.8 1122.4 696.3 1125.8 691.5 1129 687.1 1129.1 686.9 1132.5 683.3 1135.8 679.8 1139 676.6 1139.1 676.5 1142.5 674.8 1145.8 673.1 1149.2 671.4 1150.7 670.7 1152.5 670.4 1155.9 670 1159.2 669.5 1162.6 669 1165.7 668.6 1165.9 668.6 1169.2 668.3 1172.6 668 1175.9 667.8 1179.3 667.5 1182.6 667.2 1186 666.9 1189.3 666.7 1192.7 666.4 1195.7 666.1 1196 666.1 1199.3 665.6 1202.7 665.1 1206 664.7 1209.4 664.2 1212.7 663.7 1216.1 663.2 1219.4 662.8 1222.3 662.3 1222.8 662.3 1226.1 661.7 1229.4 661.1 1232.8 660.6 1236.1 660 1239.5 659.4 1242.8 658.8 1246.2 658.2 1249 657.7 1249.5 657.7 1252.9 657 1256.2 656.4 1259.5 655.8 1262.9 655.2 1266.2 654.6 1269.6 654 1272.3 653.6 1272.9 653.5 1276.3 653.3 1279.6 653 1283 652.8 1286.3 652.5 1289.6 652.3 1293 652.1 1296.3 651.9" fill="none" stroke="#e8413f" stroke-width="2.0" stroke-linejoin="round" stroke-linecap="butt"/>
<path d="M798 650.3 801.3 650.4 804.7 650.4 808 650.5 811.4 650.5 814.7 650.6 818.1 650.6 821.4 650.7 824.8 650.8 828.1 650.8 831.4 650.9 834.8 650.9 838.1 651 841.5 651 844.8 651.1 848.2 651.2 851.5 651.2 854.9 651.3 858.2 651.3 861.5 651.4 864.9 651.5 868.2 651.5 869 651.5 871.6 651.6 874.9 651.7 878.3 651.8 881.6 651.9 885 652 888.3 652.1 891.6 652.2 895 652.4 898.3 652.5 901.7 652.6 905 652.7 908.4 652.8 911.7 652.9 914 653 915.1 653.1 918.4 653.5 921.7 653.9 925.1 654.4 928.4 654.8 931.8 655.2 935.1 655.7 938.5 656.1 941.8 656.6 945.2 657 948.5 657.5 951.8 658 952.3 658.1 955.2 659.1 958.5 660.4 961.9 661.7 965.2 663 968.6 664.3 971.9 665.6 975.3 667 978.6 668.4 980.7 669.3 981.9 670.4 985.3 673.3 988.6 676.2 992 679.1 995.3 682.2 997.3 684.1 998.7 685.5 1002 689 1005.4 692.7 1008.7 696.5 1012 700.1 1015.4 703.4 1015.7 703.7 1018.7 706.5 1022.1 709.5 1025.4 712.2 1028.8 714.4 1029 714.5 1032.1 716.1 1035.5 717.7 1038.8 719 1042.1 719.9 1042.3 719.9 1045.5 720.5 1048.8 721.1 1052.2 721.5 1055.5 721.7 1057.3 721.7 1058.9 721.7 1062.2 721.5 1065.6 721.1 1068.9 720.7 1069 720.7 1072.3 720.2 1075.6 719.5 1078.9 718.8 1082.3 717.9 1084 717.4 1085.6 716.9 1089 715.7 1092.3 714.3 1095.7 712.7 1099 711 1102.3 709.1 1102.4 709.1 1105.7 706.9 1109 704.3 1112.3 701.5 1112.4 701.4 1115.7 697.9 1119.1 694 1120.7 692.1 1122.4 689.9 1125.8 685.8 1129 681.9 1129.1 681.8 1132.5 678.7 1135.8 675.7 1139 672.9 1139.1 672.8 1142.5 671.3 1145.8 669.8 1149.2 668.4 1150.7 667.8 1152.5 667.6 1155.9 667.2 1159.2 666.8 1162.6 666.4 1165.7 666 1165.9 666 1169.2 665.7 1172.6 665.5 1175.9 665.3 1179.3 665 1182.6 664.8 1186 664.6 1189.3 664.3 1192.7 664.1 1195.7 663.8 1196 663.8 1199.3 663.4 1202.7 663 1206 662.6 1209.4 662.2 1212.7 661.8 1216.1 661.4 1219.4 661 1222.3 660.6 1222.8 660.5 1226.1 660 1229.4 659.5 1232.8 659 1236.1 658.5 1239.5 658 1242.8 657.5 1246.2 657 1249 656.6 1249.5 656.5 1252.9 656 1256.2 655.5 1259.5 654.9 1262.9 654.4 1266.2 653.9 1269.6 653.4 1272.3 653 1272.9 653 1276.3 652.7 1279.6 652.5 1283 652.3 1286.3 652.1 1289.6 651.9 1293 651.7 1296.3 651.5" fill="none" stroke="#4b4b4b" stroke-width="2.0" stroke-linejoin="round" stroke-linecap="butt"/>
<path d="M798 650.1 801.3 650.1 804.7 650.2 808 650.2 811.4 650.3 814.7 650.3 818.1 650.3 821.4 650.4 824.8 650.4 828.1 650.5 831.4 650.5 834.8 650.6 838.1 650.6 841.5 650.6 844.8 650.7 848.2 650.7 851.5 650.8 854.9 650.8 858.2 650.9 861.5 650.9 864.9 651 868.2 651 869 651 871.6 651.1 874.9 651.2 878.3 651.2 881.6 651.3 885 651.4 888.3 651.5 891.6 651.6 895 651.6 898.3 651.7 901.7 651.8 905 651.9 908.4 652 911.7 652.1 914 652.1 915.1 652.2 918.4 652.5 921.7 652.8 925.1 653.2 928.4 653.5 931.8 653.8 935.1 654.2 938.5 654.5 941.8 654.9 945.2 655.2 948.5 655.6 951.8 655.9 952.3 656 955.2 656.8 958.5 657.7 961.9 658.7 965.2 659.7 968.6 660.7 971.9 661.8 975.3 662.8 978.6 663.8 980.7 664.5 981.9 665.3 985.3 667.5 988.6 669.7 992 672 995.3 674.4 997.3 675.8 998.7 676.8 1002 679.5 1005.4 682.3 1008.7 685.2 1012 687.9 1015.4 690.5 1015.7 690.7 1018.7 692.8 1022.1 695.1 1025.4 697.2 1028.8 698.8 1029 698.9 1032.1 700.2 1035.5 701.4 1038.8 702.3 1042.1 703 1042.3 703 1045.5 703.5 1048.8 703.9 1052.2 704.2 1055.5 704.4 1057.3 704.4 1058.9 704.4 1062.2 704.2 1065.6 703.9 1068.9 703.6 1069 703.6 1072.3 703.2 1075.6 702.7 1078.9 702.2 1082.3 701.5 1084 701.1 1085.6 700.7 1089 699.8 1092.3 698.8 1095.7 697.5 1099 696.2 1102.3 694.8 1102.4 694.8 1105.7 693.1 1109 691.2 1112.3 689 1112.4 689 1115.7 686.3 1119.1 683.3 1120.7 681.9 1122.4 680.2 1125.8 677 1129 674.1 1129.1 674.1 1132.5 671.6 1135.8 669.4 1139 667.3 1139.1 667.2 1142.5 666.1 1145.8 664.9 1149.2 663.9 1150.7 663.4 1152.5 663.2 1155.9 662.9 1159.2 662.6 1162.6 662.3 1165.7 662 1165.9 662 1169.2 661.8 1172.6 661.6 1175.9 661.5 1179.3 661.3 1182.6 661.1 1186 660.9 1189.3 660.7 1192.7 660.6 1195.7 660.4 1196 660.4 1199.3 660 1202.7 659.7 1206 659.4 1209.4 659.1 1212.7 658.8 1216.1 658.5 1219.4 658.2 1222.3 657.9 1222.8 657.9 1226.1 657.5 1229.4 657.1 1232.8 656.7 1236.1 656.3 1239.5 656 1242.8 655.6 1246.2 655.2 1249 654.9 1249.5 654.8 1252.9 654.4 1256.2 654 1259.5 653.6 1262.9 653.2 1266.2 652.8 1269.6 652.4 1272.3 652.1 1272.9 652.1 1276.3 651.9 1279.6 651.8 1283 651.6 1286.3 651.5 1289.6 651.3 1293 651.2 1296.3 651" fill="none" stroke="#b26ade" stroke-width="2.0" stroke-linejoin="round" stroke-linecap="butt"/>
<path d="M798 650 801.3 650.1 804.7 650.1 808 650.1 811.4 650.2 814.7 650.2 818.1 650.3 821.4 650.3 824.8 650.3 828.1 650.4 831.4 650.4 834.8 650.5 838.1 650.5 841.5 650.5 844.8 650.6 848.2 650.6 851.5 650.7 854.9 650.7 858.2 650.8 861.5 650.8 864.9 650.8 868.2 650.9 869 650.9 871.6 650.9 874.9 651 878.3 651.1 881.6 651.2 885 651.2 888.3 651.3 891.6 651.4 895 651.5 898.3 651.5 901.7 651.6 905 651.7 908.4 651.8 911.7 651.8 914 651.9 915.1 652 918.4 652.3 921.7 652.6 925.1 652.9 928.4 653.2 931.8 653.5 935.1 653.8 938.5 654.1 941.8 654.4 945.2 654.7 948.5 655.1 951.8 655.4 952.3 655.5 955.2 656.2 958.5 657.1 961.9 658 965.2 658.9 968.6 659.8 971.9 660.8 975.3 661.7 978.6 662.7 980.7 663.3 981.9 664.1 985.3 666.1 988.6 668.1 992 670.2 995.3 672.4 997.3 673.7 998.7 674.7 1002 677.1 1005.4 679.7 1008.7 682.4 1012 684.9 1015.4 687.2 1015.7 687.4 1018.7 689.4 1022.1 691.5 1025.4 693.4 1028.8 694.9 1029 695 1032.1 696.2 1035.5 697.3 1038.8 698.2 1042.1 698.8 1042.3 698.8 1045.5 699.2 1048.8 699.6 1052.2 699.9 1055.5 700.1 1057.3 700.1 1058.9 700.1 1062.2 699.9 1065.6 699.6 1068.9 699.3 1069 699.3 1072.3 699 1075.6 698.5 1078.9 698 1082.3 697.4 1084 697 1085.6 696.7 1089 695.8 1092.3 694.9 1095.7 693.7 1099 692.5 1102.3 691.2 1102.4 691.2 1105.7 689.7 1109 687.9 1112.3 685.9 1112.4 685.8 1115.7 683.4 1119.1 680.6 1120.7 679.3 1122.4 677.8 1125.8 674.9 1129 672.2 1129.1 672.1 1132.5 669.9 1135.8 667.8 1139 665.8 1139.1 665.8 1142.5 664.7 1145.8 663.7 1149.2 662.7 1150.7 662.3 1152.5 662.1 1155.9 661.8 1159.2 661.6 1162.6 661.3 1165.7 661 1165.9 661 1169.2 660.8 1172.6 660.7 1175.9 660.5 1179.3 660.3 1182.6 660.2 1186 660 1189.3 659.8 1192.7 659.7 1195.7 659.5 1196 659.5 1199.3 659.2 1202.7 658.9 1206 658.6 1209.4 658.4 1212.7 658.1 1216.1 657.8 1219.4 657.5 1222.3 657.2 1222.8 657.2 1226.1 656.8 1229.4 656.5 1232.8 656.1 1236.1 655.8 1239.5 655.4 1242.8 655.1 1246.2 654.7 1249 654.4 1249.5 654.4 1252.9 654 1256.2 653.6 1259.5 653.3 1262.9 652.9 1266.2 652.5 1269.6 652.2 1272.3 651.9 1272.9 651.9 1276.3 651.7 1279.6 651.6 1283 651.4 1286.3 651.3 1289.6 651.2 1293 651 1296.3 650.9" fill="none" stroke="#8a8a1c" stroke-width="2.0" stroke-linejoin="round" stroke-linecap="butt"/>
<path d="M798 648.4 801.3 648.3 804.7 648.2 808 648.2 811.4 648.1 814.7 648.1 818.1 648 821.4 647.9 824.8 647.9 828.1 647.8 831.4 647.8 834.8 647.7 838.1 647.6 841.5 647.6 844.8 647.5 848.2 647.4 851.5 647.4 854.9 647.3 858.2 647.3 861.5 647.2 864.9 647.1 868.2 647.1 869 647 871.6 647 874.9 646.9 878.3 646.7 881.6 646.6 885 646.5 888.3 646.4 891.6 646.3 895 646.2 898.3 646.1 901.7 645.9 905 645.8 908.4 645.7 911.7 645.6 914 645.5 915.1 645.4 918.4 644.9 921.7 644.5 925.1 644 928.4 643.6 931.8 643.1 935.1 642.6 938.5 642.1 941.8 641.7 945.2 641.2 948.5 640.7 951.8 640.2 952.3 640.1 955.2 638.9 958.5 637.6 961.9 636.2 965.2 634.8 968.6 633.4 971.9 632 975.3 630.5 978.6 629 980.7 628.1 981.9 626.9 985.3 623.8 988.6 620.7 992 617.5 995.3 614.2 997.3 612.2 998.7 610.8 1002 607 1005.4 603 1008.7 599 1012 595.1 1015.4 591.6 1015.7 591.3 1018.7 588.3 1022.1 585.1 1025.4 582.2 1028.8 579.8 1029 579.7 1032.1 578 1035.5 576.3 1038.8 574.9 1042.1 573.9 1042.3 573.9 1045.5 573.3 1048.8 572.7 1052.2 572.3 1055.5 572 1057.3 572 1058.9 572 1062.2 572.2 1065.6 572.7 1068.9 573.1 1069 573.1 1072.3 573.7 1075.6 574.3 1078.9 575.2 1082.3 576.1 1084 576.6 1085.6 577.2 1089 578.4 1092.3 579.9 1095.7 581.6 1099 583.5 1102.3 585.5 1102.4 585.5 1105.7 587.8 1109 590.6 1112.3 593.6 1112.4 593.7 1115.7 597.4 1119.1 601.7 1120.7 603.7 1122.4 606 1125.8 610.5 1129 614.5 1129.1 614.7 1132.5 618.1 1135.8 621.2 1139 624.2 1139.1 624.3 1142.5 625.9 1145.8 627.5 1149.2 629 1150.7 629.6 1152.5 629.9 1155.9 630.3 1159.2 630.8 1162.6 631.2 1165.7 631.6 1165.9 631.6 1169.2 631.9 1172.6 632.1 1175.9 632.4 1179.3 632.6 1182.6 632.9 1186 633.1 1189.3 633.4 1192.7 633.7 1195.7 633.9 1196 633.9 1199.3 634.4 1202.7 634.8 1206 635.2 1209.4 635.7 1212.7 636.1 1216.1 636.5 1219.4 637 1222.3 637.4 1222.8 637.4 1226.1 638 1229.4 638.5 1232.8 639 1236.1 639.6 1239.5 640.1 1242.8 640.6 1246.2 641.2 1249 641.6 1249.5 641.7 1252.9 642.3 1256.2 642.8 1259.5 643.4 1262.9 644 1266.2 644.5 1269.6 645.1 1272.3 645.5 1272.9 645.5 1276.3 645.8 1279.6 646 1283 646.2 1286.3 646.4 1289.6 646.6 1293 646.9 1296.3 647" fill="none" stroke="#1c62d8" stroke-width="2.0" stroke-linejoin="round" stroke-linecap="butt"/>
<path d="M798 647.3 801.3 647.2 804.7 647.1 808 647 811.4 646.8 814.7 646.7 818.1 646.6 821.4 646.5 824.8 646.4 828.1 646.2 831.4 646.1 834.8 646 838.1 645.8 841.5 645.7 844.8 645.6 848.2 645.5 851.5 645.3 854.9 645.2 858.2 645.1 861.5 644.9 864.9 644.8 868.2 644.7 869 644.6 871.6 644.5 874.9 644.2 878.3 644 881.6 643.8 885 643.6 888.3 643.3 891.6 643.1 895 642.9 898.3 642.6 901.7 642.4 905 642.2 908.4 641.9 911.7 641.7 914 641.5 915.1 641.2 918.4 640.3 921.7 639.4 925.1 638.5 928.4 637.6 931.8 636.6 935.1 635.7 938.5 634.7 941.8 633.7 945.2 632.7 948.5 631.7 951.8 630.6 952.3 630.5 955.2 628.2 958.5 625.4 961.9 622.6 965.2 619.8 968.6 616.9 971.9 613.9 975.3 611 978.6 607.9 980.7 606.1 981.9 603.7 985.3 597.4 988.6 591.1 992 584.6 995.3 577.9 997.3 573.8 998.7 570.8 1002 563.1 1005.4 555 1008.7 546.9 1012 539 1015.4 531.8 1015.7 531.2 1018.7 525.1 1022.1 518.5 1025.4 512.7 1028.8 507.9 1029 507.6 1032.1 504.1 1035.5 500.6 1038.8 497.8 1042.1 495.9 1042.3 495.8 1045.5 494.6 1048.8 493.4 1052.2 492.5 1055.5 492 1057.3 491.9 1058.9 491.9 1062.2 492.4 1065.6 493.3 1068.9 494.2 1069 494.2 1072.3 495.3 1075.6 496.7 1078.9 498.4 1082.3 500.3 1084 501.3 1085.6 502.4 1089 505 1092.3 508.1 1095.7 511.5 1099 515.3 1102.3 519.4 1102.4 519.5 1105.7 524.2 1109 529.8 1112.3 536 1112.4 536.1 1115.7 543.7 1119.1 552.3 1120.7 556.4 1122.4 561.1 1125.8 570.2 1129 578.5 1129.1 578.7 1132.5 585.6 1135.8 592.1 1139 598.2 1139.1 598.3 1142.5 601.6 1145.8 604.8 1149.2 607.9 1150.7 609.2 1152.5 609.7 1155.9 610.6 1159.2 611.5 1162.6 612.4 1165.7 613.1 1165.9 613.2 1169.2 613.7 1172.6 614.3 1175.9 614.8 1179.3 615.3 1182.6 615.8 1186 616.3 1189.3 616.9 1192.7 617.4 1195.7 617.9 1196 618 1199.3 618.8 1202.7 619.7 1206 620.6 1209.4 621.5 1212.7 622.4 1216.1 623.3 1219.4 624.2 1222.3 625 1222.8 625.1 1226.1 626.2 1229.4 627.2 1232.8 628.3 1236.1 629.4 1239.5 630.5 1242.8 631.6 1246.2 632.7 1249 633.6 1249.5 633.8 1252.9 634.9 1256.2 636.1 1259.5 637.2 1262.9 638.4 1266.2 639.5 1269.6 640.6 1272.3 641.5 1272.9 641.6 1276.3 642 1279.6 642.5 1283 643 1286.3 643.4 1289.6 643.8 1293 644.2 1296.3 644.6" fill="none" stroke="#6d3b3f" stroke-width="2.0" stroke-linejoin="round" stroke-linecap="butt"/>
<path d="M798 650 801.3 650 804.7 650 808 650.1 811.4 650.1 814.7 650.1 818.1 650.2 821.4 650.2 824.8 650.2 828.1 650.3 831.4 650.3 834.8 650.3 838.1 650.4 841.5 650.4 844.8 650.4 848.2 650.5 851.5 650.5 854.9 650.6 858.2 650.6 861.5 650.6 864.9 650.7 868.2 650.7 869 650.7 871.6 650.8 874.9 650.8 878.3 650.9 881.6 651 885 651 888.3 651.1 891.6 651.1 895 651.2 898.3 651.3 901.7 651.3 905 651.4 908.4 651.5 911.7 651.6 914 651.6 915.1 651.7 918.4 651.9 921.7 652.2 925.1 652.5 928.4 652.7 931.8 653 935.1 653.3 938.5 653.5 941.8 653.8 945.2 654.1 948.5 654.4 951.8 654.7 952.3 654.7 955.2 655.4 958.5 656.2 961.9 657 965.2 657.8 968.6 658.6 971.9 659.4 975.3 660.3 978.6 661.1 980.7 661.7 981.9 662.3 985.3 664.1 988.6 665.9 992 667.8 995.3 669.7 997.3 670.8 998.7 671.7 1002 673.9 1005.4 676.1 1008.7 678.5 1012 680.7 1015.4 682.8 1015.7 682.9 1018.7 684.7 1022.1 686.5 1025.4 688.2 1028.8 689.5 1029 689.6 1032.1 690.6 1035.5 691.6 1038.8 692.4 1042.1 692.9 1042.3 693 1045.5 693.3 1048.8 693.7 1052.2 693.9 1055.5 694.1 1057.3 694.1 1058.9 694.1 1062.2 693.9 1065.6 693.7 1068.9 693.4 1069 693.4 1072.3 693.1 1075.6 692.7 1078.9 692.2 1082.3 691.7 1084 691.4 1085.6 691.1 1089 690.4 1092.3 689.5 1095.7 688.5 1099 687.4 1102.3 686.3 1102.4 686.3 1105.7 684.9 1109 683.3 1112.3 681.6 1112.4 681.5 1115.7 679.4 1119.1 676.9 1120.7 675.8 1122.4 674.4 1125.8 671.9 1129 669.5 1129.1 669.4 1132.5 667.5 1135.8 665.6 1139 663.9 1139.1 663.9 1142.5 662.9 1145.8 662 1149.2 661.1 1150.7 660.8 1152.5 660.6 1155.9 660.4 1159.2 660.1 1162.6 659.9 1165.7 659.7 1165.9 659.6 1169.2 659.5 1172.6 659.3 1175.9 659.2 1179.3 659 1182.6 658.9 1186 658.8 1189.3 658.6 1192.7 658.5 1195.7 658.3 1196 658.3 1199.3 658 1202.7 657.8 1206 657.5 1209.4 657.3 1212.7 657 1216.1 656.8 1219.4 656.5 1222.3 656.3 1222.8 656.3 1226.1 656 1229.4 655.7 1232.8 655.3 1236.1 655 1239.5 654.7 1242.8 654.4 1246.2 654.1 1249 653.8 1249.5 653.8 1252.9 653.5 1256.2 653.1 1259.5 652.8 1262.9 652.5 1266.2 652.2 1269.6 651.9 1272.3 651.6 1272.9 651.6 1276.3 651.4 1279.6 651.3 1283 651.2 1286.3 651.1 1289.6 650.9 1293 650.8 1296.3 650.7" fill="none" stroke="#f0641e" stroke-width="2.0" stroke-linejoin="round" stroke-linecap="butt"/>
<path d="M1462 692.6 1465.3 692.7 1468.7 692.9 1472 693 1475.4 693.1 1478.7 693.2 1482.1 693.3 1485.4 693.4 1488.7 693.6 1492.1 693.7 1495.4 693.8 1498.8 693.9 1502.1 694 1505.4 694.2 1508.8 694.3 1512.1 694.4 1515.5 694.5 1518 694.6 1518.8 694.7 1522.2 694.9 1525.5 695.2 1528.8 695.4 1532.2 695.7 1535.5 695.9 1538.9 696.2 1542.2 696.4 1545.6 696.7 1548.9 697 1552.2 697.2 1555.6 697.5 1556.3 697.6 1558.9 698.1 1562.3 698.8 1565.6 699.5 1569 700.2 1572.3 701 1575.6 701.7 1579 702.5 1582.3 703.3 1585.7 704 1589 704.8 1592.3 705.6 1595.7 706.4 1596.3 706.6 1599 708.3 1602.4 710.4 1605.7 712.6 1609.1 714.8 1612.4 717.1 1615.7 719.4 1619.1 721.7 1622.4 724.1 1623 724.5 1625.8 728 1629.1 732.3 1632.5 736.6 1635.8 740.9 1639.1 745.4 1641.3 748.4 1642.5 750.3 1645.8 755.9 1649.2 761.7 1652.5 767.8 1655.9 774.1 1659.2 780.2 1662.5 786.1 1663 786.9 1665.9 791.9 1669.2 797.9 1672.6 803.7 1675.9 808.5 1678 810.8 1679.2 811.9 1682.6 814.6 1685.9 816.8 1689.3 818.6 1689.7 818.7 1692.6 819.9 1696 821.1 1699.3 822 1702.6 822.7 1703 822.7 1706 823.1 1709.3 823.6 1712.7 823.9 1716 824 1716.3 824 1719.4 824 1722.7 823.9 1726 823.7 1729.4 823.4 1729.7 823.4 1732.7 823 1736.1 822.3 1739.4 821.3 1742.8 820.1 1743 820.1 1746.1 818.5 1749.4 815.9 1752.8 812.8 1754.7 810.8 1756.1 809 1759.5 803.7 1762.8 797.3 1764.7 793.5 1766.1 790.3 1769.5 782.1 1772.8 773.3 1776.2 764.7 1776.3 764.3 1779.5 756.4 1782.9 748.4 1786.2 741 1788 737.1 1789.5 735.5 1792.9 732.1 1796.2 728.8 1799.6 725.6 1799.7 725.6 1802.9 724.3 1806.3 723 1809.6 721.8 1812.9 720.5 1813 720.5 1816.3 719.8 1819.6 719.1 1823 718.4 1826.3 717.7 1829.7 717 1833 716.3 1836.3 715.6 1838 715.2 1839.7 714.9 1843 714.2 1846.4 713.5 1849.7 712.9 1853 712.2 1856.4 711.6 1859.7 710.9 1863.1 710.2 1864.7 709.9 1866.4 709.4 1869.8 708.5 1873.1 707.6 1876.4 706.7 1879.8 705.8 1883.1 704.9 1886.5 703.9 1889.8 703 1893.2 702.1 1896.5 701.2 1899.8 700.3 1901.3 699.9 1903.2 699.7 1906.5 699.2 1909.9 698.7 1913.2 698.2 1916.6 697.8 1919.9 697.3 1923.2 696.9 1926.6 696.4 1929.9 695.9 1933.3 695.5 1934.7 695.3 1936.6 695.1 1939.9 694.7 1943.3 694.4 1946.6 694 1950 693.7 1953.3 693.3 1956.7 693 1960 692.6" fill="none" stroke="#cf9a12" stroke-width="2.0" stroke-linejoin="round" stroke-linecap="butt"/>
<path d="M1462 692.6 1465.3 692.7 1468.7 692.8 1472 692.9 1475.4 693.1 1478.7 693.2 1482.1 693.3 1485.4 693.4 1488.7 693.5 1492.1 693.6 1495.4 693.8 1498.8 693.9 1502.1 694 1505.4 694.1 1508.8 694.2 1512.1 694.4 1515.5 694.5 1518 694.6 1518.8 694.6 1522.2 694.9 1525.5 695.1 1528.8 695.4 1532.2 695.6 1535.5 695.9 1538.9 696.1 1542.2 696.4 1545.6 696.6 1548.9 696.9 1552.2 697.1 1555.6 697.4 1556.3 697.5 1558.9 698 1562.3 698.7 1565.6 699.4 1569 700.1 1572.3 700.9 1575.6 701.6 1579 702.3 1582.3 703.1 1585.7 703.9 1589 704.6 1592.3 705.4 1595.7 706.2 1596.3 706.4 1599 708.1 1602.4 710.2 1605.7 712.3 1609.1 714.6 1612.4 716.8 1615.7 719.1 1619.1 721.4 1622.4 723.7 1623 724.1 1625.8 727.5 1629.1 731.7 1632.5 736 1635.8 740.3 1639.1 744.7 1641.3 747.7 1642.5 749.5 1645.8 755.1 1649.2 760.9 1652.5 766.8 1655.9 773 1659.2 779.1 1662.5 784.9 1663 785.7 1665.9 790.6 1669.2 796.6 1672.6 802.2 1675.9 807 1678 809.2 1679.2 810.4 1682.6 813.1 1685.9 815.2 1689.3 816.9 1689.7 817.1 1692.6 818.3 1696 819.4 1699.3 820.3 1702.6 821 1703 821 1706 821.5 1709.3 821.9 1712.7 822.2 1716 822.3 1716.3 822.3 1719.4 822.3 1722.7 822.2 1726 822 1729.4 821.7 1729.7 821.7 1732.7 821.3 1736.1 820.6 1739.4 819.7 1742.8 818.5 1743 818.4 1746.1 816.8 1749.4 814.4 1752.8 811.2 1754.7 809.2 1756.1 807.5 1759.5 802.2 1762.8 795.9 1764.7 792.2 1766.1 789.1 1769.5 781 1772.8 772.2 1776.2 763.8 1776.3 763.4 1779.5 755.6 1782.9 747.6 1786.2 740.4 1788 736.5 1789.5 734.9 1792.9 731.6 1796.2 728.3 1799.6 725.2 1799.7 725.1 1802.9 723.9 1806.3 722.6 1809.6 721.4 1812.9 720.2 1813 720.1 1816.3 719.4 1819.6 718.7 1823 718 1826.3 717.3 1829.7 716.6 1833 715.9 1836.3 715.2 1838 714.9 1839.7 714.6 1843 713.9 1846.4 713.3 1849.7 712.6 1853 712 1856.4 711.3 1859.7 710.6 1863.1 710 1864.7 709.7 1866.4 709.2 1869.8 708.3 1873.1 707.4 1876.4 706.5 1879.8 705.6 1883.1 704.7 1886.5 703.8 1889.8 702.9 1893.2 702 1896.5 701.1 1899.8 700.2 1901.3 699.8 1903.2 699.6 1906.5 699.1 1909.9 698.6 1913.2 698.2 1916.6 697.7 1919.9 697.2 1923.2 696.8 1926.6 696.3 1929.9 695.9 1933.3 695.4 1934.7 695.2 1936.6 695 1939.9 694.7 1943.3 694.3 1946.6 694 1950 693.6 1953.3 693.3 1956.7 693 1960 692.6" fill="none" stroke="#1fc3c6" stroke-width="2.0" stroke-linejoin="round" stroke-linecap="butt"/>
<path d="M1462 692.4 1465.3 692.5 1468.7 692.6 1472 692.6 1475.4 692.7 1478.7 692.8 1482.1 692.9 1485.4 693 1488.7 693.1 1492.1 693.2 1495.4 693.3 1498.8 693.4 1502.1 693.5 1505.4 693.6 1508.8 693.7 1512.1 693.8 1515.5 693.9 1518 694 1518.8 694 1522.2 694.2 1525.5 694.4 1528.8 694.6 1532.2 694.8 1535.5 695 1538.9 695.2 1542.2 695.4 1545.6 695.7 1548.9 695.9 1552.2 696.1 1555.6 696.3 1556.3 696.3 1558.9 696.8 1562.3 697.4 1565.6 697.9 1569 698.5 1572.3 699.1 1575.6 699.7 1579 700.3 1582.3 700.9 1585.7 701.6 1589 702.2 1592.3 702.8 1595.7 703.5 1596.3 703.6 1599 705 1602.4 706.7 1605.7 708.5 1609.1 710.3 1612.4 712.1 1615.7 714 1619.1 715.9 1622.4 717.7 1623 718.1 1625.8 720.9 1629.1 724.3 1632.5 727.8 1635.8 731.3 1639.1 734.9 1641.3 737.3 1642.5 738.9 1645.8 743.4 1649.2 748.1 1652.5 753 1655.9 758.1 1659.2 763 1662.5 767.8 1663 768.4 1665.9 772.4 1669.2 777.3 1672.6 781.9 1675.9 785.8 1678 787.6 1679.2 788.6 1682.6 790.8 1685.9 792.6 1689.3 793.9 1689.7 794.1 1692.6 795 1696 795.9 1699.3 796.7 1702.6 797.2 1703 797.3 1706 797.6 1709.3 798 1712.7 798.2 1716 798.4 1716.3 798.4 1719.4 798.3 1722.7 798.2 1726 798 1729.4 797.8 1729.7 797.8 1732.7 797.5 1736.1 796.9 1739.4 796.2 1742.8 795.2 1743 795.1 1746.1 793.9 1749.4 791.8 1752.8 789.3 1754.7 787.6 1756.1 786.2 1759.5 781.9 1762.8 776.8 1764.7 773.7 1766.1 771.2 1769.5 764.5 1772.8 757.4 1776.2 750.5 1776.3 750.2 1779.5 743.8 1782.9 737.3 1786.2 731.4 1788 728.2 1789.5 726.9 1792.9 724.2 1796.2 721.6 1799.6 719 1799.7 718.9 1802.9 717.9 1806.3 716.9 1809.6 715.9 1812.9 714.9 1813 714.9 1816.3 714.3 1819.6 713.7 1823 713.1 1826.3 712.6 1829.7 712 1833 711.4 1836.3 710.9 1838 710.6 1839.7 710.3 1843 709.8 1846.4 709.2 1849.7 708.7 1853 708.2 1856.4 707.6 1859.7 707.1 1863.1 706.6 1864.7 706.3 1866.4 705.9 1869.8 705.2 1873.1 704.5 1876.4 703.7 1879.8 703 1883.1 702.2 1886.5 701.5 1889.8 700.7 1893.2 700 1896.5 699.3 1899.8 698.6 1901.3 698.3 1903.2 698.1 1906.5 697.7 1909.9 697.3 1913.2 696.9 1916.6 696.5 1919.9 696.2 1923.2 695.8 1926.6 695.4 1929.9 695 1933.3 694.7 1934.7 694.5 1936.6 694.4 1939.9 694.1 1943.3 693.8 1946.6 693.5 1950 693.2 1953.3 692.9 1956.7 692.7 1960 692.4" fill="none" stroke="#e8413f" stroke-width="2.0" stroke-linejoin="round" stroke-linecap="butt"/>
<path d="M1462 692.3 1465.3 692.4 1468.7 692.5 1472 692.6 1475.4 692.7 1478.7 692.7 1482.1 692.8 1485.4 692.9 1488.7 693 1492.1 693.1 1495.4 693.2 1498.8 693.3 1502.1 693.4 1505.4 693.5 1508.8 693.6 1512.1 693.7 1515.5 693.8 1518 693.8 1518.8 693.9 1522.2 694.1 1525.5 694.2 1528.8 694.4 1532.2 694.6 1535.5 694.8 1538.9 695 1542.2 695.2 1545.6 695.4 1548.9 695.6 1552.2 695.8 1555.6 696 1556.3 696 1558.9 696.5 1562.3 697 1565.6 697.5 1569 698.1 1572.3 698.7 1575.6 699.2 1579 699.8 1582.3 700.4 1585.7 701 1589 701.6 1592.3 702.2 1595.7 702.8 1596.3 702.9 1599 704.2 1602.4 705.8 1605.7 707.5 1609.1 709.2 1612.4 710.9 1615.7 712.6 1619.1 714.4 1622.4 716.2 1623 716.5 1625.8 719.1 1629.1 722.4 1632.5 725.7 1635.8 729 1639.1 732.3 1641.3 734.6 1642.5 736.1 1645.8 740.3 1649.2 744.8 1652.5 749.4 1655.9 754.1 1659.2 758.8 1662.5 763.2 1663 763.8 1665.9 767.6 1669.2 772.2 1672.6 776.6 1675.9 780.2 1678 782 1679.2 782.8 1682.6 784.9 1685.9 786.6 1689.3 787.9 1689.7 788 1692.6 788.9 1696 789.8 1699.3 790.5 1702.6 791 1703 791 1706 791.4 1709.3 791.7 1712.7 791.9 1716 792 1716.3 792 1719.4 792 1722.7 791.9 1726 791.7 1729.4 791.5 1729.7 791.5 1732.7 791.2 1736.1 790.7 1739.4 790 1742.8 789.1 1743 789 1746.1 787.8 1749.4 785.9 1752.8 783.5 1754.7 782 1756.1 780.6 1759.5 776.6 1762.8 771.7 1764.7 768.9 1766.1 766.4 1769.5 760.2 1772.8 753.5 1776.2 747 1776.3 746.7 1779.5 740.7 1782.9 734.6 1786.2 729 1788 726.1 1789.5 724.8 1792.9 722.3 1796.2 719.8 1799.6 717.4 1799.7 717.3 1802.9 716.3 1806.3 715.4 1809.6 714.4 1812.9 713.5 1813 713.5 1816.3 712.9 1819.6 712.4 1823 711.8 1826.3 711.3 1829.7 710.8 1833 710.2 1836.3 709.7 1838 709.4 1839.7 709.2 1843 708.7 1846.4 708.2 1849.7 707.7 1853 707.2 1856.4 706.7 1859.7 706.2 1863.1 705.7 1864.7 705.4 1866.4 705.1 1869.8 704.4 1873.1 703.7 1876.4 703 1879.8 702.3 1883.1 701.6 1886.5 700.9 1889.8 700.2 1893.2 699.5 1896.5 698.8 1899.8 698.2 1901.3 697.9 1903.2 697.7 1906.5 697.3 1909.9 696.9 1913.2 696.6 1916.6 696.2 1919.9 695.9 1923.2 695.5 1926.6 695.2 1929.9 694.8 1933.3 694.5 1934.7 694.3 1936.6 694.2 1939.9 693.9 1943.3 693.6 1946.6 693.4 1950 693.1 1953.3 692.8 1956.7 692.6 1960 692.3" fill="none" stroke="#4b4b4b" stroke-width="2.0" stroke-linejoin="round" stroke-linecap="butt"/>
<path d="M1462 692 1465.3 692.1 1468.7 692.1 1472 692.2 1475.4 692.3 1478.7 692.3 1482.1 692.4 1485.4 692.4 1488.7 692.5 1492.1 692.6 1495.4 692.6 1498.8 692.7 1502.1 692.8 1505.4 692.8 1508.8 692.9 1512.1 693 1515.5 693 1518 693.1 1518.8 693.1 1522.2 693.2 1525.5 693.4 1528.8 693.5 1532.2 693.6 1535.5 693.8 1538.9 693.9 1542.2 694 1545.6 694.2 1548.9 694.3 1552.2 694.5 1555.6 694.6 1556.3 694.6 1558.9 694.9 1562.3 695.3 1565.6 695.7 1569 696.1 1572.3 696.5 1575.6 696.9 1579 697.3 1582.3 697.7 1585.7 698.1 1589 698.5 1592.3 698.9 1595.7 699.4 1596.3 699.4 1599 700.3 1602.4 701.5 1605.7 702.7 1609.1 703.8 1612.4 705.1 1615.7 706.3 1619.1 707.5 1622.4 708.8 1623 709 1625.8 710.8 1629.1 713.1 1632.5 715.4 1635.8 717.7 1639.1 720.1 1641.3 721.7 1642.5 722.7 1645.8 725.7 1649.2 728.8 1652.5 732.1 1655.9 735.4 1659.2 738.7 1662.5 741.8 1663 742.2 1665.9 744.9 1669.2 748.1 1672.6 751.1 1675.9 753.7 1678 754.9 1679.2 755.5 1682.6 757 1685.9 758.2 1689.3 759.1 1689.7 759.2 1692.6 759.8 1696 760.4 1699.3 760.9 1702.6 761.2 1703 761.3 1706 761.5 1709.3 761.7 1712.7 761.9 1716 762 1716.3 762 1719.4 762 1722.7 761.9 1726 761.8 1729.4 761.6 1729.7 761.6 1732.7 761.4 1736.1 761 1739.4 760.5 1742.8 759.9 1743 759.9 1746.1 759 1749.4 757.7 1752.8 756 1754.7 754.9 1756.1 754 1759.5 751.1 1762.8 747.7 1764.7 745.7 1766.1 744 1769.5 739.7 1772.8 735 1776.2 730.4 1776.3 730.2 1779.5 726 1782.9 721.7 1786.2 717.8 1788 715.7 1789.5 714.8 1792.9 713 1796.2 711.3 1799.6 709.6 1799.7 709.5 1802.9 708.9 1806.3 708.2 1809.6 707.5 1812.9 706.9 1813 706.9 1816.3 706.5 1819.6 706.1 1823 705.7 1826.3 705.3 1829.7 705 1833 704.6 1836.3 704.2 1838 704 1839.7 703.9 1843 703.5 1846.4 703.2 1849.7 702.8 1853 702.4 1856.4 702.1 1859.7 701.7 1863.1 701.4 1864.7 701.2 1866.4 701 1869.8 700.5 1873.1 700 1876.4 699.5 1879.8 699 1883.1 698.5 1886.5 698 1889.8 697.5 1893.2 697.1 1896.5 696.6 1899.8 696.1 1901.3 695.9 1903.2 695.8 1906.5 695.5 1909.9 695.3 1913.2 695 1916.6 694.8 1919.9 694.5 1923.2 694.3 1926.6 694 1929.9 693.8 1933.3 693.5 1934.7 693.4 1936.6 693.3 1939.9 693.1 1943.3 692.9 1946.6 692.8 1950 692.6 1953.3 692.4 1956.7 692.2 1960 692" fill="none" stroke="#b26ade" stroke-width="2.0" stroke-linejoin="round" stroke-linecap="butt"/>
<path d="M1462 692 1465.3 692 1468.7 692.1 1472 692.2 1475.4 692.2 1478.7 692.3 1482.1 692.3 1485.4 692.4 1488.7 692.5 1492.1 692.5 1495.4 692.6 1498.8 692.6 1502.1 692.7 1505.4 692.8 1508.8 692.8 1512.1 692.9 1515.5 693 1518 693 1518.8 693 1522.2 693.2 1525.5 693.3 1528.8 693.4 1532.2 693.5 1535.5 693.7 1538.9 693.8 1542.2 693.9 1545.6 694.1 1548.9 694.2 1552.2 694.3 1555.6 694.5 1556.3 694.5 1558.9 694.8 1562.3 695.2 1565.6 695.5 1569 695.9 1572.3 696.3 1575.6 696.7 1579 697 1582.3 697.4 1585.7 697.8 1589 698.2 1592.3 698.6 1595.7 699.1 1596.3 699.1 1599 700 1602.4 701.1 1605.7 702.2 1609.1 703.4 1612.4 704.5 1615.7 705.7 1619.1 706.9 1622.4 708.1 1623 708.3 1625.8 710.1 1629.1 712.3 1632.5 714.5 1635.8 716.7 1639.1 719 1641.3 720.6 1642.5 721.5 1645.8 724.4 1649.2 727.4 1652.5 730.5 1655.9 733.7 1659.2 736.9 1662.5 739.9 1663 740.3 1665.9 742.8 1669.2 745.9 1672.6 748.9 1675.9 751.3 1678 752.5 1679.2 753.1 1682.6 754.5 1685.9 755.6 1689.3 756.5 1689.7 756.6 1692.6 757.2 1696 757.8 1699.3 758.3 1702.6 758.6 1703 758.6 1706 758.9 1709.3 759.1 1712.7 759.2 1716 759.3 1716.3 759.3 1719.4 759.3 1722.7 759.2 1726 759.1 1729.4 759 1729.7 759 1732.7 758.8 1736.1 758.4 1739.4 757.9 1742.8 757.3 1743 757.3 1746.1 756.5 1749.4 755.2 1752.8 753.5 1754.7 752.5 1756.1 751.6 1759.5 748.9 1762.8 745.6 1764.7 743.7 1766.1 742 1769.5 737.8 1772.8 733.3 1776.2 728.9 1776.3 728.7 1779.5 724.7 1782.9 720.5 1786.2 716.8 1788 714.8 1789.5 713.9 1792.9 712.2 1796.2 710.5 1799.6 708.9 1799.7 708.9 1802.9 708.2 1806.3 707.5 1809.6 706.9 1812.9 706.3 1813 706.3 1816.3 705.9 1819.6 705.5 1823 705.2 1826.3 704.8 1829.7 704.5 1833 704.1 1836.3 703.7 1838 703.6 1839.7 703.4 1843 703 1846.4 702.7 1849.7 702.4 1853 702 1856.4 701.7 1859.7 701.3 1863.1 701 1864.7 700.8 1866.4 700.6 1869.8 700.1 1873.1 699.7 1876.4 699.2 1879.8 698.7 1883.1 698.3 1886.5 697.8 1889.8 697.3 1893.2 696.8 1896.5 696.4 1899.8 695.9 1901.3 695.7 1903.2 695.6 1906.5 695.3 1909.9 695.1 1913.2 694.9 1916.6 694.6 1919.9 694.4 1923.2 694.2 1926.6 693.9 1929.9 693.7 1933.3 693.5 1934.7 693.4 1936.6 693.2 1939.9 693.1 1943.3 692.9 1946.6 692.7 1950 692.5 1953.3 692.3 1956.7 692.2 1960 692" fill="none" stroke="#8a8a1c" stroke-width="2.0" stroke-linejoin="round" stroke-linecap="butt"/>
<path d="M1462 690.8 1465.3 690.8 1468.7 690.8 1472 690.7 1475.4 690.7 1478.7 690.6 1482.1 690.6 1485.4 690.6 1488.7 690.5 1492.1 690.5 1495.4 690.4 1498.8 690.4 1502.1 690.3 1505.4 690.3 1508.8 690.3 1512.1 690.2 1515.5 690.2 1518 690.1 1518.8 690.1 1522.2 690 1525.5 689.9 1528.8 689.9 1532.2 689.8 1535.5 689.7 1538.9 689.6 1542.2 689.5 1545.6 689.4 1548.9 689.3 1552.2 689.2 1555.6 689.1 1556.3 689.1 1558.9 688.9 1562.3 688.7 1565.6 688.4 1569 688.1 1572.3 687.9 1575.6 687.6 1579 687.4 1582.3 687.1 1585.7 686.8 1589 686.5 1592.3 686.3 1595.7 686 1596.3 685.9 1599 685.3 1602.4 684.5 1605.7 683.8 1609.1 683 1612.4 682.2 1615.7 681.4 1619.1 680.5 1622.4 679.7 1623 679.6 1625.8 678.3 1629.1 676.8 1632.5 675.3 1635.8 673.7 1639.1 672.2 1641.3 671.1 1642.5 670.4 1645.8 668.4 1649.2 666.4 1652.5 664.2 1655.9 662 1659.2 659.8 1662.5 657.7 1663 657.5 1665.9 655.7 1669.2 653.6 1672.6 651.5 1675.9 649.8 1678 649 1679.2 648.6 1682.6 647.6 1685.9 646.9 1689.3 646.3 1689.7 646.2 1692.6 645.8 1696 645.4 1699.3 645 1702.6 644.8 1703 644.8 1706 644.6 1709.3 644.5 1712.7 644.4 1716 644.3 1716.3 644.3 1719.4 644.3 1722.7 644.4 1726 644.4 1729.4 644.5 1729.7 644.5 1732.7 644.7 1736.1 644.9 1739.4 645.3 1742.8 645.7 1743 645.7 1746.1 646.3 1749.4 647.2 1752.8 648.3 1754.7 649 1756.1 649.6 1759.5 651.5 1762.8 653.8 1764.7 655.1 1766.1 656.3 1769.5 659.2 1772.8 662.3 1776.2 665.3 1776.3 665.5 1779.5 668.3 1782.9 671.1 1786.2 673.7 1788 675.1 1789.5 675.7 1792.9 676.9 1796.2 678 1799.6 679.2 1799.7 679.2 1802.9 679.6 1806.3 680.1 1809.6 680.5 1812.9 681 1813 681 1816.3 681.2 1819.6 681.5 1823 681.7 1826.3 682 1829.7 682.2 1833 682.5 1836.3 682.7 1838 682.9 1839.7 683 1843 683.2 1846.4 683.4 1849.7 683.7 1853 683.9 1856.4 684.1 1859.7 684.4 1863.1 684.6 1864.7 684.7 1866.4 684.9 1869.8 685.2 1873.1 685.5 1876.4 685.9 1879.8 686.2 1883.1 686.5 1886.5 686.8 1889.8 687.2 1893.2 687.5 1896.5 687.8 1899.8 688.1 1901.3 688.3 1903.2 688.4 1906.5 688.5 1909.9 688.7 1913.2 688.9 1916.6 689 1919.9 689.2 1923.2 689.4 1926.6 689.5 1929.9 689.7 1933.3 689.8 1934.7 689.9 1936.6 690 1939.9 690.1 1943.3 690.2 1946.6 690.4 1950 690.5 1953.3 690.6 1956.7 690.7 1960 690.8" fill="none" stroke="#2e9d62" stroke-width="2.0" stroke-linejoin="round" stroke-linecap="butt"/>
<path d="M1462 690.4 1465.3 690.3 1468.7 690.2 1472 690.1 1475.4 690 1478.7 690 1482.1 689.9 1485.4 689.8 1488.7 689.7 1492.1 689.6 1495.4 689.5 1498.8 689.5 1502.1 689.4 1505.4 689.3 1508.8 689.2 1512.1 689.1 1515.5 689 1518 688.9 1518.8 688.9 1522.2 688.7 1525.5 688.5 1528.8 688.4 1532.2 688.2 1535.5 688 1538.9 687.8 1542.2 687.6 1545.6 687.5 1548.9 687.3 1552.2 687.1 1555.6 686.9 1556.3 686.8 1558.9 686.5 1562.3 686 1565.6 685.4 1569 684.9 1572.3 684.4 1575.6 683.9 1579 683.3 1582.3 682.8 1585.7 682.2 1589 681.6 1592.3 681.1 1595.7 680.5 1596.3 680.4 1599 679.2 1602.4 677.6 1605.7 676.1 1609.1 674.5 1612.4 672.8 1615.7 671.2 1619.1 669.5 1622.4 667.8 1623 667.6 1625.8 665.1 1629.1 662 1632.5 658.9 1635.8 655.8 1639.1 652.6 1641.3 650.4 1642.5 649.1 1645.8 645.1 1649.2 640.9 1652.5 636.5 1655.9 632.1 1659.2 627.6 1662.5 623.4 1663 622.9 1665.9 619.3 1669.2 615 1672.6 610.9 1675.9 607.4 1678 605.8 1679.2 605 1682.6 603 1685.9 601.4 1689.3 600.2 1689.7 600.1 1692.6 599.2 1696 598.4 1699.3 597.7 1702.6 597.3 1703 597.2 1706 596.9 1709.3 596.6 1712.7 596.4 1716 596.3 1716.3 596.3 1719.4 596.3 1722.7 596.4 1726 596.5 1729.4 596.7 1729.7 596.7 1732.7 597 1736.1 597.5 1739.4 598.2 1742.8 599.1 1743 599.1 1746.1 600.3 1749.4 602.1 1752.8 604.3 1754.7 605.8 1756.1 607.1 1759.5 610.9 1762.8 615.4 1764.7 618.1 1766.1 620.4 1769.5 626.3 1772.8 632.6 1776.2 638.8 1776.3 639 1779.5 644.7 1782.9 650.5 1786.2 655.7 1788 658.5 1789.5 659.7 1792.9 662.1 1796.2 664.5 1799.6 666.7 1799.7 666.8 1802.9 667.7 1806.3 668.6 1809.6 669.5 1812.9 670.4 1813 670.4 1816.3 670.9 1819.6 671.4 1823 671.9 1826.3 672.5 1829.7 673 1833 673.5 1836.3 674 1838 674.2 1839.7 674.4 1843 674.9 1846.4 675.4 1849.7 675.9 1853 676.3 1856.4 676.8 1859.7 677.3 1863.1 677.8 1864.7 678 1866.4 678.3 1869.8 679 1873.1 679.6 1876.4 680.3 1879.8 681 1883.1 681.6 1886.5 682.3 1889.8 682.9 1893.2 683.6 1896.5 684.2 1899.8 684.9 1901.3 685.1 1903.2 685.3 1906.5 685.7 1909.9 686 1913.2 686.4 1916.6 686.7 1919.9 687 1923.2 687.3 1926.6 687.7 1929.9 688 1933.3 688.3 1934.7 688.5 1936.6 688.6 1939.9 688.9 1943.3 689.1 1946.6 689.4 1950 689.6 1953.3 689.9 1956.7 690.1 1960 690.4" fill="none" stroke="#1c62d8" stroke-width="2.0" stroke-linejoin="round" stroke-linecap="butt"/>
<path d="M1462 689.3 1465.3 689.2 1468.7 689 1472 688.8 1475.4 688.7 1478.7 688.5 1482.1 688.3 1485.4 688.1 1488.7 688 1492.1 687.8 1495.4 687.6 1498.8 687.4 1502.1 687.2 1505.4 687.1 1508.8 686.9 1512.1 686.7 1515.5 686.5 1518 686.4 1518.8 686.3 1522.2 685.9 1525.5 685.5 1528.8 685.2 1532.2 684.8 1535.5 684.4 1538.9 684 1542.2 683.7 1545.6 683.3 1548.9 682.9 1552.2 682.5 1555.6 682.1 1556.3 682 1558.9 681.2 1562.3 680.1 1565.6 679 1569 678 1572.3 676.9 1575.6 675.7 1579 674.6 1582.3 673.5 1585.7 672.3 1589 671.1 1592.3 669.9 1595.7 668.7 1596.3 668.5 1599 665.9 1602.4 662.7 1605.7 659.5 1609.1 656.1 1612.4 652.7 1615.7 649.3 1619.1 645.8 1622.4 642.3 1623 641.7 1625.8 636.5 1629.1 630.1 1632.5 623.6 1635.8 617.1 1639.1 610.5 1641.3 606 1642.5 603.1 1645.8 594.7 1649.2 586 1652.5 576.9 1655.9 567.6 1659.2 558.3 1662.5 549.6 1663 548.4 1665.9 540.9 1669.2 531.9 1672.6 523.3 1675.9 516.1 1678 512.7 1679.2 511 1682.6 506.9 1685.9 503.6 1689.3 501 1689.7 500.8 1692.6 499 1696 497.3 1699.3 495.9 1702.6 494.9 1703 494.8 1706 494.2 1709.3 493.5 1712.7 493 1716 492.8 1716.3 492.8 1719.4 492.9 1722.7 493.1 1726 493.4 1729.4 493.8 1729.7 493.8 1732.7 494.4 1736.1 495.5 1739.4 496.9 1742.8 498.6 1743 498.8 1746.1 501.2 1749.4 504.9 1752.8 509.7 1754.7 512.7 1756.1 515.4 1759.5 523.3 1762.8 532.8 1764.7 538.5 1766.1 543.3 1769.5 555.5 1772.8 568.8 1776.2 581.6 1776.3 582.1 1779.5 594 1782.9 606 1786.2 617 1788 622.8 1789.5 625.2 1792.9 630.3 1796.2 635.2 1799.6 640 1799.7 640.1 1802.9 642 1806.3 643.9 1809.6 645.8 1812.9 647.6 1813 647.6 1816.3 648.7 1819.6 649.8 1823 650.9 1826.3 651.9 1829.7 653 1833 654 1836.3 655.1 1838 655.6 1839.7 656.1 1843 657.1 1846.4 658.1 1849.7 659.1 1853 660 1856.4 661 1859.7 662 1863.1 663 1864.7 663.5 1866.4 664.2 1869.8 665.6 1873.1 666.9 1876.4 668.3 1879.8 669.7 1883.1 671.1 1886.5 672.4 1889.8 673.8 1893.2 675.2 1896.5 676.5 1899.8 677.8 1901.3 678.4 1903.2 678.8 1906.5 679.5 1909.9 680.2 1913.2 680.9 1916.6 681.6 1919.9 682.3 1923.2 683 1926.6 683.7 1929.9 684.4 1933.3 685.1 1934.7 685.4 1936.6 685.7 1939.9 686.2 1943.3 686.7 1946.6 687.3 1950 687.8 1953.3 688.3 1956.7 688.8 1960 689.3" fill="none" stroke="#6d3b3f" stroke-width="2.0" stroke-linejoin="round" stroke-linecap="butt"/>
<path d="M1462 691.9 1465.3 691.9 1468.7 692 1472 692 1475.4 692.1 1478.7 692.1 1482.1 692.1 1485.4 692.2 1488.7 692.2 1492.1 692.3 1495.4 692.3 1498.8 692.4 1502.1 692.5 1505.4 692.5 1508.8 692.6 1512.1 692.6 1515.5 692.7 1518 692.7 1518.8 692.7 1522.2 692.8 1525.5 692.9 1528.8 693 1532.2 693.1 1535.5 693.2 1538.9 693.3 1542.2 693.4 1545.6 693.6 1548.9 693.7 1552.2 693.8 1555.6 693.9 1556.3 693.9 1558.9 694.1 1562.3 694.4 1565.6 694.7 1569 695 1572.3 695.3 1575.6 695.7 1579 696 1582.3 696.3 1585.7 696.6 1589 696.9 1592.3 697.3 1595.7 697.6 1596.3 697.7 1599 698.4 1602.4 699.3 1605.7 700.2 1609.1 701.1 1612.4 702.1 1615.7 703 1619.1 704 1622.4 705 1623 705.2 1625.8 706.6 1629.1 708.4 1632.5 710.2 1635.8 712 1639.1 713.9 1641.3 715.1 1642.5 715.9 1645.8 718.3 1649.2 720.7 1652.5 723.2 1655.9 725.8 1659.2 728.4 1662.5 730.8 1663 731.2 1665.9 733.3 1669.2 735.8 1672.6 738.2 1675.9 740.2 1678 741.1 1679.2 741.6 1682.6 742.7 1685.9 743.7 1689.3 744.4 1689.7 744.4 1692.6 744.9 1696 745.4 1699.3 745.8 1702.6 746.1 1703 746.1 1706 746.3 1709.3 746.5 1712.7 746.6 1716 746.7 1716.3 746.7 1719.4 746.6 1722.7 746.6 1726 746.5 1729.4 746.4 1729.7 746.4 1732.7 746.2 1736.1 745.9 1739.4 745.5 1742.8 745 1743 745 1746.1 744.3 1749.4 743.3 1752.8 742 1754.7 741.1 1756.1 740.4 1759.5 738.2 1762.8 735.5 1764.7 733.9 1766.1 732.6 1769.5 729.2 1772.8 725.5 1776.2 721.9 1776.3 721.8 1779.5 718.5 1782.9 715.1 1786.2 712 1788 710.4 1789.5 709.7 1792.9 708.3 1796.2 706.9 1799.6 705.6 1799.7 705.6 1802.9 705.1 1806.3 704.5 1809.6 704 1812.9 703.5 1813 703.5 1816.3 703.2 1819.6 702.9 1823 702.6 1826.3 702.3 1829.7 702 1833 701.7 1836.3 701.4 1838 701.3 1839.7 701.1 1843 700.9 1846.4 700.6 1849.7 700.3 1853 700 1856.4 699.8 1859.7 699.5 1863.1 699.2 1864.7 699.1 1866.4 698.9 1869.8 698.5 1873.1 698.1 1876.4 697.7 1879.8 697.3 1883.1 697 1886.5 696.6 1889.8 696.2 1893.2 695.8 1896.5 695.4 1899.8 695.1 1901.3 694.9 1903.2 694.8 1906.5 694.6 1909.9 694.4 1913.2 694.2 1916.6 694 1919.9 693.8 1923.2 693.6 1926.6 693.4 1929.9 693.2 1933.3 693.1 1934.7 693 1936.6 692.9 1939.9 692.7 1943.3 692.6 1946.6 692.4 1950 692.3 1953.3 692.2 1956.7 692 1960 691.9" fill="none" stroke="#f0641e" stroke-width="2.0" stroke-linejoin="round" stroke-linecap="butt"/>
<rect x="133.1" y="15.4" width="498.1" height="382.5" fill="none" stroke="#000" stroke-width="1.9"/>
<text transform="translate(182.91,425.7) scale(0.972,1)" font-size="24.8" text-anchor="middle" >0.009390</text>
<text transform="translate(332.34,425.7) scale(0.972,1)" font-size="24.8" text-anchor="middle" >0.009396</text>
<text transform="translate(481.77,425.7) scale(0.972,1)" font-size="24.8" text-anchor="middle" >0.009402</text>
<text transform="translate(631.2,425.7) scale(0.972,1)" font-size="24.8" text-anchor="middle" >0.009408</text>
<text transform="translate(123.3,23.1) scale(0.972,1)" font-size="24.8" text-anchor="end" >2.0x10<tspan font-size="16.37" dy="-8.68">7</tspan></text>
<text transform="translate(123.3,61.35) scale(0.972,1)" font-size="24.8" text-anchor="end" >0.0</text>
<text transform="translate(123.3,99.6) scale(0.972,1)" font-size="24.8" text-anchor="end" >-2.0x10<tspan font-size="16.37" dy="-8.68">7</tspan></text>
<text transform="translate(123.3,137.85) scale(0.972,1)" font-size="24.8" text-anchor="end" >-4.0x10<tspan font-size="16.37" dy="-8.68">7</tspan></text>
<text transform="translate(123.3,176.1) scale(0.972,1)" font-size="24.8" text-anchor="end" >-6.0x10<tspan font-size="16.37" dy="-8.68">7</tspan></text>
<text transform="translate(123.3,214.35) scale(0.972,1)" font-size="24.8" text-anchor="end" >-8.0x10<tspan font-size="16.37" dy="-8.68">7</tspan></text>
<text transform="translate(123.3,252.6) scale(0.972,1)" font-size="24.8" text-anchor="end" >-1.0x10<tspan font-size="16.37" dy="-8.68">8</tspan></text>
<text transform="translate(123.3,290.85) scale(0.972,1)" font-size="24.8" text-anchor="end" >-1.2x10<tspan font-size="16.37" dy="-8.68">8</tspan></text>
<text transform="translate(123.3,329.1) scale(0.972,1)" font-size="24.8" text-anchor="end" >-1.4x10<tspan font-size="16.37" dy="-8.68">8</tspan></text>
<text transform="translate(123.3,367.35) scale(0.972,1)" font-size="24.8" text-anchor="end" >-1.6x10<tspan font-size="16.37" dy="-8.68">8</tspan></text>
<text transform="translate(123.3,405.6) scale(0.972,1)" font-size="24.8" text-anchor="end" >-1.8x10<tspan font-size="16.37" dy="-8.68">8</tspan></text>
<text transform="translate(27.9,228.8) rotate(-90)" font-size="33.5" text-anchor="middle">CH<tspan font-size="22.11" dy="9.04">4</tspan><tspan dy="-9.04"> sensitivity coefficient</tspan></text>
<text transform="translate(370.5,461.7) scale(0.98,1)" font-size="35.0" text-anchor="middle" >Time (s)</text>
<text transform="translate(13.4,37.2) scale(0.98,1)" font-size="42.4" >(a)</text>
<text transform="translate(246.7,43.3) scale(0.955,1)" font-size="24.8" >R53</text>
<line x1="283.5" y1="26.8" x2="297.1" y2="32.32" stroke="#000" stroke-width="1.4"/>
<polygon points="305.9,35.9 293.93,34.81 296.56,28.33" fill="#000"/>
<text transform="translate(398.3,37.3) scale(0.955,1)" font-size="24.8" >R85</text>
<line x1="398.3" y1="20.7" x2="370.09" y2="48.35" stroke="#000" stroke-width="1.4"/>
<polygon points="363.3,55 369.06,44.45 373.96,49.45" fill="#000"/>
<text transform="translate(466.7,43.3) scale(0.955,1)" font-size="24.8" >R158</text>
<line x1="461.7" y1="32.7" x2="436.04" y2="37.54" stroke="#555" stroke-width="0.6"/>
<polygon points="426.7,39.3 437.35,33.73 438.65,40.61" fill="#000"/>
<text transform="translate(228.3,126.6) scale(0.955,1)" font-size="24.8" >R52</text>
<line x1="253.3" y1="100.7" x2="326.08" y2="73.97" stroke="#000" stroke-width="1.4"/>
<polygon points="335,70.7 325.41,77.95 323,71.38" fill="#000"/>
<text transform="translate(240.7,170.6) scale(0.955,1)" font-size="24.8" >R156</text>
<line x1="286.7" y1="149.3" x2="323.96" y2="104.03" stroke="#000" stroke-width="1.4"/>
<polygon points="330,96.7 325.39,107.8 319.99,103.35" fill="#000"/>
<text transform="translate(255,236.6) scale(0.955,1)" font-size="24.8" >R157</text>
<line x1="293.3" y1="215" x2="328.61" y2="112.28" stroke="#000" stroke-width="1.4"/>
<polygon points="331.7,103.3 331.27,115.31 324.65,113.04" fill="#000"/>
<text transform="translate(376.7,170.6) scale(0.955,1)" font-size="24.8" >R155</text>
<text transform="translate(486,187.3) scale(0.955,1)" font-size="24.8" >R119</text>
<line x1="491.7" y1="166.7" x2="356.16" y2="74.64" stroke="#000" stroke-width="1.4"/>
<polygon points="348.3,69.3 359.78,72.87 355.85,78.66" fill="#000"/>
<text transform="translate(516,144.6) scale(0.955,1)" font-size="24.8" >R38</text>
<line x1="508.3" y1="125" x2="438.05" y2="81.04" stroke="#000" stroke-width="1.4"/>
<polygon points="430,76 441.61,79.13 437.89,85.07" fill="#000"/>
<text transform="translate(380.7,284.9) scale(0.955,1)" font-size="24.8" >R118</text>
<rect x="797.2" y="15.4" width="498.3" height="382.5" fill="none" stroke="#000" stroke-width="1.9"/>
<text transform="translate(797.2,424.9) scale(0.972,1)" font-size="24.8" text-anchor="middle" >0.01187</text>
<text transform="translate(963.3,424.9) scale(0.972,1)" font-size="24.8" text-anchor="middle" >0.01188</text>
<text transform="translate(1129.4,424.9) scale(0.972,1)" font-size="24.8" text-anchor="middle" >0.01189</text>
<text transform="translate(1295.5,424.9) scale(0.972,1)" font-size="24.8" text-anchor="middle" >0.01190</text>
<text transform="translate(787.4,382.4) scale(0.972,1)" font-size="24.8" text-anchor="end" >-15000</text>
<text transform="translate(787.4,337.4) scale(0.972,1)" font-size="24.8" text-anchor="end" >-10000</text>
<text transform="translate(787.4,292.4) scale(0.972,1)" font-size="24.8" text-anchor="end" >-5000</text>
<text transform="translate(787.4,247.4) scale(0.972,1)" font-size="24.8" text-anchor="end" >0</text>
<text transform="translate(787.4,202.4) scale(0.972,1)" font-size="24.8" text-anchor="end" >5000</text>
<text transform="translate(787.4,157.4) scale(0.972,1)" font-size="24.8" text-anchor="end" >10000</text>
<text transform="translate(787.4,112.4) scale(0.972,1)" font-size="24.8" text-anchor="end" >15000</text>
<text transform="translate(787.4,67.4) scale(0.972,1)" font-size="24.8" text-anchor="end" >20000</text>
<text transform="translate(787.4,22.4) scale(0.972,1)" font-size="24.8" text-anchor="end" >25000</text>
<text transform="translate(712,225.5) rotate(-90)" font-size="33.5" text-anchor="middle">CH<tspan font-size="22.11" dy="9.04">4</tspan><tspan dy="-9.04"> sensitivity coefficient</tspan></text>
<text transform="translate(1040.3,461.7) scale(0.98,1)" font-size="35.0" text-anchor="middle" >Time (s)</text>
<text transform="translate(665,35) scale(0.98,1)" font-size="42.4" >(b)</text>
<text transform="translate(1013.33,99.93) scale(0.955,1)" font-size="24.8" >R158</text>
<text transform="translate(1015.67,163.27) scale(0.955,1)" font-size="24.8" >R53</text>
<text transform="translate(1020,199.6) scale(0.955,1)" font-size="24.8" >R98</text>
<text transform="translate(997.33,267.27) scale(0.955,1)" font-size="24.8" >R170</text>
<text transform="translate(856.33,314.93) scale(0.955,1)" font-size="24.8" >R161</text>
<line x1="904" y1="296" x2="947.39" y2="280.52" stroke="#000" stroke-width="1.4"/>
<polygon points="956.33,277.33 946.68,284.49 944.33,277.9" fill="#000"/>
<text transform="translate(864,346.6) scale(0.955,1)" font-size="24.8" >R119</text>
<line x1="917.33" y1="330" x2="954.54" y2="310.99" stroke="#000" stroke-width="1.4"/>
<polygon points="963,306.67 954.35,315.02 951.17,308.78" fill="#000"/>
<text transform="translate(1005.67,362.27) scale(0.955,1)" font-size="24.8" >R155</text>
<text transform="translate(1069,366.6) scale(0.955,1)" font-size="24.8" >R156</text>
<line x1="1090.67" y1="341.67" x2="1072.04" y2="321.05" stroke="#000" stroke-width="1.4"/>
<polygon points="1065.67,314 1075.97,320.19 1070.78,324.88" fill="#000"/>
<text transform="translate(1118.33,340.6) scale(0.955,1)" font-size="24.8" >R38</text>
<line x1="1109" y1="322.67" x2="1084.69" y2="309.52" stroke="#000" stroke-width="1.4"/>
<polygon points="1076.33,305 1088.11,307.39 1084.78,313.55" fill="#000"/>
<text transform="translate(1128.33,308.27) scale(0.955,1)" font-size="24.8" >R32</text>
<line x1="1124" y1="296" x2="1094.49" y2="284.19" stroke="#000" stroke-width="1.4"/>
<polygon points="1085.67,280.67 1097.64,281.69 1095.04,288.19" fill="#000"/>
<rect x="1461.7" y="15.4" width="498.2" height="382.5" fill="none" stroke="#000" stroke-width="1.9"/>
<text transform="translate(1544.73,425.1) scale(0.972,1)" font-size="24.8" text-anchor="middle" >0.011068</text>
<text transform="translate(1710.8,425.1) scale(0.972,1)" font-size="24.8" text-anchor="middle" >0.011072</text>
<text transform="translate(1876.87,425.1) scale(0.972,1)" font-size="24.8" text-anchor="middle" >0.011076</text>
<text transform="translate(1451.9,405.2) scale(0.972,1)" font-size="24.8" text-anchor="end" >-30000</text>
<text transform="translate(1451.9,354.2) scale(0.972,1)" font-size="24.8" text-anchor="end" >-20000</text>
<text transform="translate(1451.9,303.2) scale(0.972,1)" font-size="24.8" text-anchor="end" >-10000</text>
<text transform="translate(1451.9,252.2) scale(0.972,1)" font-size="24.8" text-anchor="end" >0</text>
<text transform="translate(1451.9,201.2) scale(0.972,1)" font-size="24.8" text-anchor="end" >10000</text>
<text transform="translate(1451.9,150.2) scale(0.972,1)" font-size="24.8" text-anchor="end" >20000</text>
<text transform="translate(1451.9,99.2) scale(0.972,1)" font-size="24.8" text-anchor="end" >30000</text>
<text transform="translate(1451.9,48.2) scale(0.972,1)" font-size="24.8" text-anchor="end" >40000</text>
<text transform="translate(1384.5,227.5) rotate(-90)" font-size="33.5" text-anchor="middle">CH<tspan font-size="22.11" dy="9.04">4</tspan><tspan dy="-9.04"> sensitivity coefficient</tspan></text>
<text transform="translate(1710.8,468.2) scale(1.03,1)" font-size="33.4" text-anchor="middle" >Time (s)</text>
<text transform="translate(1343,36.3) scale(1.03,1)" font-size="38.5" >(c)</text>
<text transform="translate(1724.67,94.93) scale(0.955,1)" font-size="24.8" >R158</text>
<text transform="translate(1725.67,169.93) scale(0.955,1)" font-size="24.8" >R53</text>
<text transform="translate(1722,205.6) scale(0.955,1)" font-size="24.8" >R57</text>
<text transform="translate(1693,280.6) scale(0.955,1)" font-size="24.8" >R170</text>
<text transform="translate(1553.33,322.93) scale(0.955,1)" font-size="24.8" >R161</text>
<line x1="1604.67" y1="305" x2="1628.54" y2="295.26" stroke="#000" stroke-width="1.0"/>
<polygon points="1637.33,291.67 1628.01,299.25 1625.36,292.77" fill="#000"/>
<text transform="translate(1568.67,345.6) scale(0.955,1)" font-size="24.8" >R119</text>
<line x1="1619.67" y1="332.33" x2="1643.52" y2="320.28" stroke="#000" stroke-width="1.0"/>
<polygon points="1652,316 1643.31,324.31 1640.16,318.06" fill="#000"/>
<text transform="translate(1589.67,373.27) scale(0.955,1)" font-size="24.8" >R32</text>
<line x1="1623.67" y1="355.67" x2="1648.96" y2="342.15" stroke="#000" stroke-width="1.0"/>
<polygon points="1657.33,337.67 1648.84,346.18 1645.54,340" fill="#000"/>
<text transform="translate(1709.67,375.6) scale(0.955,1)" font-size="24.8" >R155</text>
<text transform="translate(1778,357.27) scale(0.955,1)" font-size="24.8" >R156</text>
<line x1="1772.33" y1="343.33" x2="1742.04" y2="333.58" stroke="#000" stroke-width="1.0"/>
<polygon points="1733,330.67 1745.02,330.86 1742.87,337.52" fill="#000"/>
<text transform="translate(1799.67,321.6) scale(0.955,1)" font-size="24.8" >R38</text>
<line x1="1787.33" y1="314" x2="1744.02" y2="321.68" stroke="#000" stroke-width="1.0"/>
<polygon points="1734.67,323.33 1745.38,317.88 1746.6,324.77" fill="#000"/>
<rect x="133.1" y="473.2" width="498.1" height="381.7" fill="none" stroke="#000" stroke-width="1.9"/>
<text transform="translate(263.04,882.5) scale(0.972,1)" font-size="24.8" text-anchor="middle" >0.014136</text>
<text transform="translate(436.29,882.5) scale(0.972,1)" font-size="24.8" text-anchor="middle" >0.014144</text>
<text transform="translate(609.54,882.5) scale(0.972,1)" font-size="24.8" text-anchor="middle" >0.014152</text>
<text transform="translate(123.8,861.6) scale(0.972,1)" font-size="24.8" text-anchor="end" >-30000</text>
<text transform="translate(123.8,810.71) scale(0.972,1)" font-size="24.8" text-anchor="end" >-20000</text>
<text transform="translate(123.8,759.81) scale(0.972,1)" font-size="24.8" text-anchor="end" >-10000</text>
<text transform="translate(123.8,708.92) scale(0.972,1)" font-size="24.8" text-anchor="end" >0</text>
<text transform="translate(123.8,658.03) scale(0.972,1)" font-size="24.8" text-anchor="end" >10000</text>
<text transform="translate(123.8,607.13) scale(0.972,1)" font-size="24.8" text-anchor="end" >20000</text>
<text transform="translate(123.8,556.24) scale(0.972,1)" font-size="24.8" text-anchor="end" >30000</text>
<text transform="translate(123.8,505.35) scale(0.972,1)" font-size="24.8" text-anchor="end" >40000</text>
<text transform="translate(45.6,687) rotate(-90)" font-size="33.5" text-anchor="middle">CH<tspan font-size="22.11" dy="9.04">4</tspan><tspan dy="-9.04"> sensitivity coefficient</tspan></text>
<text transform="translate(365,923.7) scale(1.03,1)" font-size="33.5" text-anchor="middle" >Time (s)</text>
<text transform="translate(13.5,497.8) scale(1.018,1)" font-size="38.6" >(d)</text>
<text transform="translate(393.33,557.27) scale(0.955,1)" font-size="24.8" >R158</text>
<text transform="translate(375.67,632.27) scale(0.955,1)" font-size="24.8" >R53</text>
<text transform="translate(375,669.93) scale(0.955,1)" font-size="24.8" >R57</text>
<text transform="translate(352.33,738.93) scale(0.955,1)" font-size="24.8" >R170</text>
<text transform="translate(236,776.27) scale(0.955,1)" font-size="24.8" >R161</text>
<line x1="283.33" y1="760.33" x2="309.6" y2="749.08" stroke="#000" stroke-width="1.4"/>
<polygon points="318.33,745.33 309.14,753.08 306.38,746.65" fill="#000"/>
<text transform="translate(248.33,795.93) scale(0.955,1)" font-size="24.8" >R119</text>
<line x1="289.33" y1="777.33" x2="318.44" y2="766.35" stroke="#000" stroke-width="1.4"/>
<polygon points="327.33,763 317.81,770.33 315.34,763.78" fill="#000"/>
<text transform="translate(273.33,816.27) scale(0.955,1)" font-size="24.8" >R32</text>
<line x1="303.33" y1="796.33" x2="319.95" y2="787.47" stroke="#000" stroke-width="1.4"/>
<polygon points="328.33,783 319.83,791.5 316.54,785.32" fill="#000"/>
<text transform="translate(362.33,840.93) scale(0.955,1)" font-size="24.8" >R155</text>
<text transform="translate(421.67,822.6) scale(0.955,1)" font-size="24.8" >R156</text>
<line x1="418.33" y1="813" x2="403.38" y2="798.05" stroke="#000" stroke-width="1.4"/>
<polygon points="396.67,791.33 407.27,796.99 402.32,801.94" fill="#000"/>
<text transform="translate(432.33,795.93) scale(0.955,1)" font-size="24.8" >R38</text>
<line x1="428.33" y1="785.33" x2="408.89" y2="778.01" stroke="#000" stroke-width="1.4"/>
<polygon points="400,774.67 412,775.44 409.53,781.99" fill="#000"/>
<rect x="797.2" y="473.2" width="498.3" height="381.7" fill="none" stroke="#000" stroke-width="1.9"/>
<text transform="translate(797.2,882.6) scale(0.972,1)" font-size="24.8" text-anchor="middle" >0.012012</text>
<text transform="translate(996.52,882.6) scale(0.972,1)" font-size="24.8" text-anchor="middle" >0.012016</text>
<text transform="translate(1195.84,882.6) scale(0.972,1)" font-size="24.8" text-anchor="middle" >0.012020</text>
<text transform="translate(782.4,832.24) scale(0.972,1)" font-size="24.8" text-anchor="end" >-60000</text>
<text transform="translate(782.4,773.52) scale(0.972,1)" font-size="24.8" text-anchor="end" >-40000</text>
<text transform="translate(782.4,714.79) scale(0.972,1)" font-size="24.8" text-anchor="end" >-20000</text>
<text transform="translate(782.4,656.07) scale(0.972,1)" font-size="24.8" text-anchor="end" >0</text>
<text transform="translate(782.4,597.35) scale(0.972,1)" font-size="24.8" text-anchor="end" >20000</text>
<text transform="translate(782.4,538.62) scale(0.972,1)" font-size="24.8" text-anchor="end" >40000</text>
<text transform="translate(782.4,479.9) scale(0.972,1)" font-size="24.8" text-anchor="end" >60000</text>
<text transform="translate(706.2,689.7) rotate(-90)" font-size="33.5" text-anchor="middle">CH<tspan font-size="22.11" dy="9.04">4</tspan><tspan dy="-9.04"> sensitivity coefficient</tspan></text>
<text x="1035" y="923.7" font-size="34.4" text-anchor="middle" >Time (s)</text>
<text transform="translate(664,490) scale(0.98,1)" font-size="42.4" >(e)</text>
<text transform="translate(1110,527.27) scale(0.955,1)" font-size="24.8" >R158</text>
<text transform="translate(1054,571.27) scale(0.955,1)" font-size="24.8" >R53</text>
<text transform="translate(1040.67,690.6) scale(0.955,1)" font-size="24.8" >R170</text>
<text transform="translate(920,733.6) scale(0.955,1)" font-size="24.8" >R161</text>
<line x1="969" y1="714.67" x2="1024.89" y2="698.04" stroke="#000" stroke-width="1.0"/>
<polygon points="1034,695.33 1023.98,701.97 1021.98,695.26" fill="#000"/>
<text transform="translate(936.67,764.6) scale(0.955,1)" font-size="24.8" >R32</text>
<line x1="980.67" y1="745.67" x2="1035.24" y2="722.69" stroke="#000" stroke-width="1.0"/>
<polygon points="1044,719 1034.76,726.69 1032.04,720.24" fill="#000"/>
<text transform="translate(955,792.93) scale(0.955,1)" font-size="24.8" >R156</text>
<line x1="994" y1="770.67" x2="1030.85" y2="755.87" stroke="#000" stroke-width="1.0"/>
<polygon points="1039.67,752.33 1030.3,759.87 1027.69,753.37" fill="#000"/>
<text transform="translate(1036.67,820.27) scale(0.955,1)" font-size="24.8" >R118</text>
<text transform="translate(1137.33,785.93) scale(0.955,1)" font-size="24.8" >R155</text>
<line x1="1139" y1="770.33" x2="1111.41" y2="761.81" stroke="#000" stroke-width="1.0"/>
<polygon points="1102.33,759 1114.35,759.05 1112.29,765.74" fill="#000"/>
<text transform="translate(1149,752.6) scale(0.955,1)" font-size="24.8" >R38</text>
<line x1="1149" y1="739.67" x2="1103.82" y2="727.19" stroke="#000" stroke-width="1.0"/>
<polygon points="1094.67,724.67 1106.68,724.35 1104.82,731.1" fill="#000"/>
<text transform="translate(1170,726.93) scale(0.955,1)" font-size="24.8" >R119</text>
<line x1="1169" y1="718" x2="1102.21" y2="701.01" stroke="#000" stroke-width="1.0"/>
<polygon points="1093,698.67 1105.01,698.11 1103.28,704.89" fill="#000"/>
<rect x="1461.7" y="473.2" width="498.2" height="381.7" fill="none" stroke="#000" stroke-width="1.9"/>
<text transform="translate(1491.01,882.6) scale(0.955,1)" font-size="24.8" text-anchor="middle" >0.015416</text>
<text transform="translate(1608.23,882.6) scale(0.955,1)" font-size="24.8" text-anchor="middle" >0.015420</text>
<text transform="translate(1725.45,882.6) scale(0.955,1)" font-size="24.8" text-anchor="middle" >0.015424</text>
<text transform="translate(1842.68,882.6) scale(0.955,1)" font-size="24.8" text-anchor="middle" >0.015428</text>
<text transform="translate(1959.9,882.6) scale(0.955,1)" font-size="24.8" text-anchor="middle" >0.015432</text>
<text transform="translate(1451.9,862.1) scale(0.972,1)" font-size="24.8" text-anchor="end" >-30000</text>
<text transform="translate(1451.9,807.57) scale(0.972,1)" font-size="24.8" text-anchor="end" >-20000</text>
<text transform="translate(1451.9,753.04) scale(0.972,1)" font-size="24.8" text-anchor="end" >-10000</text>
<text transform="translate(1451.9,698.51) scale(0.972,1)" font-size="24.8" text-anchor="end" >0</text>
<text transform="translate(1451.9,643.99) scale(0.972,1)" font-size="24.8" text-anchor="end" >10000</text>
<text transform="translate(1451.9,589.46) scale(0.972,1)" font-size="24.8" text-anchor="end" >20000</text>
<text transform="translate(1451.9,534.93) scale(0.972,1)" font-size="24.8" text-anchor="end" >30000</text>
<text transform="translate(1451.9,480.4) scale(0.972,1)" font-size="24.8" text-anchor="end" >40000</text>
<text transform="translate(1375.5,692) rotate(-90)" font-size="33.5" text-anchor="middle">CH<tspan font-size="22.11" dy="9.04">4</tspan><tspan dy="-9.04"> sensitivity coefficient</tspan></text>
<text transform="translate(1711.4,925.7) scale(1.027,1)" font-size="33.6" text-anchor="middle" >Time (s)</text>
<text transform="translate(1348,497.1) scale(0.968,1)" font-size="39.1" >(f)</text>
<text transform="translate(1692,525.6) scale(0.955,1)" font-size="24.8" >R158</text>
<text transform="translate(1703,593.27) scale(0.955,1)" font-size="24.8" >R53</text>
<text transform="translate(1698,642.27) scale(0.955,1)" font-size="24.8" >R57</text>
<text transform="translate(1698,743.27) scale(0.955,1)" font-size="24.8" >R170</text>
<text transform="translate(1582.33,779.6) scale(0.955,1)" font-size="24.8" >R161</text>
<line x1="1637" y1="768.67" x2="1675.55" y2="757.34" stroke="#000" stroke-width="1.0"/>
<polygon points="1684.67,754.67 1674.62,761.27 1672.65,754.55" fill="#000"/>
<text transform="translate(1599.67,809.27) scale(0.955,1)" font-size="24.8" >R32</text>
<line x1="1647" y1="796.33" x2="1677.18" y2="787.89" stroke="#000" stroke-width="1.0"/>
<polygon points="1686.33,785.33 1676.2,791.8 1674.32,785.06" fill="#000"/>
<text transform="translate(1610.33,836.27) scale(0.955,1)" font-size="24.8" >R156</text>
<line x1="1661.33" y1="823.67" x2="1686.96" y2="819.52" stroke="#000" stroke-width="1.0"/>
<polygon points="1696.33,818 1685.54,823.29 1684.42,816.38" fill="#000"/>
<text transform="translate(1783,830.27) scale(0.955,1)" font-size="24.8" >R156</text>
<line x1="1770.33" y1="820.67" x2="1750.83" y2="820.44" stroke="#000" stroke-width="1.0"/>
<polygon points="1741.33,820.33 1752.87,816.97 1752.79,823.97" fill="#000"/>
<text transform="translate(1801.33,803.6) scale(0.955,1)" font-size="24.8" >R38</text>
<line x1="1791.33" y1="793" x2="1764.01" y2="788.03" stroke="#000" stroke-width="1.0"/>
<polygon points="1754.67,786.33 1766.61,784.95 1765.36,791.83" fill="#000"/>
<text transform="translate(1812.33,776.27) scale(0.955,1)" font-size="24.8" >R119</text>
<line x1="1802" y1="768.67" x2="1757.29" y2="759.01" stroke="#000" stroke-width="1.0"/>
<polygon points="1748,757 1759.98,756.01 1758.5,762.85" fill="#000"/>
</svg>
</body></html>
